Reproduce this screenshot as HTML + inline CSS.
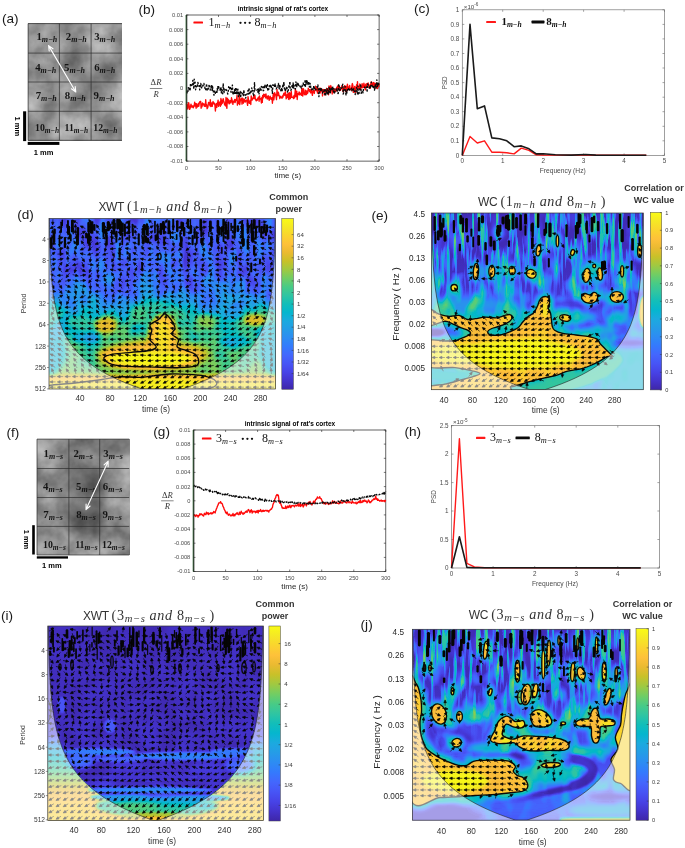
<!DOCTYPE html>
<html lang="en"><head><meta charset="utf-8"><title>Figure</title>
<style>html,body{margin:0;padding:0;background:#fff}body{width:685px;height:848px;overflow:hidden}svg{display:block;font-family:'Liberation Sans', 'DejaVu Sans', sans-serif}</style></head><body>
<svg width="685" height="848" viewBox="0 0 685 848">
<defs>
<linearGradient id="pg" x1="0" y1="0" x2="0" y2="1"><stop offset="0%" stop-color="#f9fb15"/><stop offset="5%" stop-color="#f5e825"/><stop offset="10%" stop-color="#fad42e"/><stop offset="15%" stop-color="#fec13a"/><stop offset="20%" stop-color="#eaba31"/><stop offset="25%" stop-color="#c8c129"/><stop offset="30%" stop-color="#9fc942"/><stop offset="35%" stop-color="#71cd64"/><stop offset="40%" stop-color="#48cb86"/><stop offset="45%" stop-color="#2fc5a2"/><stop offset="50%" stop-color="#12beb9"/><stop offset="55%" stop-color="#05b6ce"/><stop offset="60%" stop-color="#1caadf"/><stop offset="65%" stop-color="#259ce7"/><stop offset="70%" stop-color="#2d8cf3"/><stop offset="75%" stop-color="#347afd"/><stop offset="80%" stop-color="#4367fd"/><stop offset="85%" stop-color="#4755f6"/><stop offset="90%" stop-color="#4743e7"/><stop offset="95%" stop-color="#4433cc"/><stop offset="100%" stop-color="#3e26a8"/></linearGradient>
<filter id="clouda" color-interpolation-filters="sRGB" x="0" y="0" width="1" height="1"><feTurbulence type="fractalNoise" baseFrequency="0.035" numOctaves="4" seed="4" result="n"/><feColorMatrix in="n" type="matrix" values="0.55 0 0 0 0.28  0.55 0 0 0 0.28  0.55 0 0 0 0.28  0 0 0 0 1"/></filter>
<filter id="cloudf" color-interpolation-filters="sRGB" x="0" y="0" width="1" height="1"><feTurbulence type="fractalNoise" baseFrequency="0.035" numOctaves="4" seed="11" result="n"/><feColorMatrix in="n" type="matrix" values="0.55 0 0 0 0.28  0.55 0 0 0 0.28  0.55 0 0 0 0.28  0 0 0 0 1"/></filter>
<filter id="b0" x="-50%" y="-50%" width="200%" height="200%"><feGaussianBlur stdDeviation="1.2"/></filter>
<filter id="b1" x="-50%" y="-50%" width="200%" height="200%"><feGaussianBlur stdDeviation="2.5"/></filter>
<filter id="b2" x="-50%" y="-50%" width="200%" height="200%"><feGaussianBlur stdDeviation="4"/></filter>
<filter id="b3" x="-50%" y="-50%" width="200%" height="200%"><feGaussianBlur stdDeviation="6"/></filter>
<filter id="b4" x="-50%" y="-50%" width="200%" height="200%"><feGaussianBlur stdDeviation="9"/></filter>
<g id="ar"><path d="M-2.8 0H1"/><path d="M0.2-1.25L3.0 0L0.2 1.25Z"/></g>
<filter id="bs" x="-20%" y="-20%" width="140%" height="140%"><feGaussianBlur stdDeviation=".55"/></filter><filter id="hfd" color-interpolation-filters="sRGB" filterUnits="userSpaceOnUse" x="48" y="217.6" width="228.6" height="172.4"><feTurbulence type="fractalNoise" baseFrequency="0.12 0.04" numOctaves="2" seed="5"/><feColorMatrix type="matrix" values="3.0 0 0 0 -1.0 3.0 0 0 0 -1.0 3.0 0 0 0 -1.0 0 0 0 0 1" result="n1"/><feTurbulence type="fractalNoise" baseFrequency="0.05 0.05" numOctaves="2" seed="8"/><feColorMatrix type="matrix" values="2.6 0 0 0 -0.8 2.6 0 0 0 -0.8 2.6 0 0 0 -0.8 0 0 0 0 1" result="n2"/><feColorMatrix in="SourceGraphic" type="matrix" values="1 0 0 0 0 1 0 0 0 0 1 0 0 0 0 0 0 0 0 1" result="val"/><feColorMatrix in="SourceGraphic" type="matrix" values="0 1 0 0 0 0 1 0 0 0 0 1 0 0 0 0 0 0 0 1" result="a1"/><feColorMatrix in="SourceGraphic" type="matrix" values="0 0 1 0 0 0 0 1 0 0 0 0 1 0 0 0 0 0 0 1" result="a2"/><feComposite in="a1" in2="n1" operator="arithmetic" k1="1" k2="0" k3="0" k4="0" result="p1"/><feComposite in="a2" in2="n2" operator="arithmetic" k1="1" k2="0" k3="0" k4="0" result="p2"/><feComposite in="val" in2="p1" operator="arithmetic" k1="0" k2="1" k3="1" k4="0" result="s1"/><feComposite in="s1" in2="p2" operator="arithmetic" k1="0" k2="1" k3="1" k4="0" result="s2"/><feComponentTransfer in="s2"><feFuncR type="table" tableValues="0.242 0.255 0.266 0.274 0.279 0.281 0.280 0.274 0.261 0.231 0.194 0.180 0.173 0.154 0.141 0.122 0.098 0.051 0.004 0.032 0.110 0.169 0.206 0.254 0.329 0.412 0.504 0.596 0.684 0.766 0.840 0.906 0.962 0.996 0.995 0.983 0.967 0.960 0.965 0.977"/><feFuncG type="table" tableValues="0.150 0.175 0.202 0.231 0.266 0.302 0.338 0.374 0.411 0.449 0.488 0.524 0.558 0.590 0.620 0.650 0.677 0.701 0.721 0.738 0.753 0.766 0.780 0.793 0.800 0.803 0.799 0.790 0.777 0.761 0.746 0.733 0.729 0.750 0.788 0.827 0.868 0.908 0.946 0.984"/><feFuncB type="table" tableValues="0.660 0.734 0.805 0.866 0.910 0.943 0.967 0.985 0.995 0.998 0.988 0.971 0.946 0.922 0.901 0.886 0.862 0.829 0.790 0.748 0.703 0.658 0.607 0.551 0.488 0.418 0.348 0.278 0.215 0.169 0.156 0.180 0.230 0.232 0.204 0.182 0.163 0.145 0.119 0.081"/></feComponentTransfer></filter><clipPath id="cpd"><rect x="49" y="218.6" width="226.6" height="170.4"/></clipPath><linearGradient id="bgd" gradientUnits="userSpaceOnUse" x1="0" y1="218.6" x2="0" y2="389"><stop offset="-0.4%" stop-color="rgb(15,31,26)"/><stop offset="30.2%" stop-color="rgb(18,31,31)"/><stop offset="43.1%" stop-color="rgb(31,20,41)"/><stop offset="51.3%" stop-color="rgb(71,8,51)"/><stop offset="59.5%" stop-color="rgb(112,0,46)"/><stop offset="74.2%" stop-color="rgb(128,0,36)"/><stop offset="83%" stop-color="rgb(140,0,26)"/><stop offset="90%" stop-color="rgb(158,0,13)"/><stop offset="93.3%" stop-color="rgb(212,0,0)"/><stop offset="96.5%" stop-color="rgb(237,0,0)"/><stop offset="100%" stop-color="rgb(242,0,0)"/></linearGradient><filter id="hfe" color-interpolation-filters="sRGB" filterUnits="userSpaceOnUse" x="430.4" y="212" width="213.9" height="178.7"><feTurbulence type="fractalNoise" baseFrequency="0.26 0.024" numOctaves="2" seed="7"/><feColorMatrix type="matrix" values="4.8 0 0 0 -2.3 4.8 0 0 0 -2.3 4.8 0 0 0 -2.3 0 0 0 0 1" result="n1"/><feTurbulence type="fractalNoise" baseFrequency="0.07 0.04" numOctaves="2" seed="10"/><feColorMatrix type="matrix" values="3.2 0 0 0 -1.35 3.2 0 0 0 -1.35 3.2 0 0 0 -1.35 0 0 0 0 1" result="n2"/><feColorMatrix in="SourceGraphic" type="matrix" values="1 0 0 0 0 1 0 0 0 0 1 0 0 0 0 0 0 0 0 1" result="val"/><feColorMatrix in="SourceGraphic" type="matrix" values="0 1 0 0 0 0 1 0 0 0 0 1 0 0 0 0 0 0 0 1" result="a1"/><feColorMatrix in="SourceGraphic" type="matrix" values="0 0 1 0 0 0 0 1 0 0 0 0 1 0 0 0 0 0 0 1" result="a2"/><feComposite in="a1" in2="n1" operator="arithmetic" k1="1" k2="0" k3="0" k4="0" result="p1"/><feComposite in="a2" in2="n2" operator="arithmetic" k1="1" k2="0" k3="0" k4="0" result="p2"/><feComposite in="val" in2="p1" operator="arithmetic" k1="0" k2="1" k3="1" k4="0" result="s1"/><feComposite in="s1" in2="p2" operator="arithmetic" k1="0" k2="1" k3="1" k4="0" result="s2"/><feComponentTransfer in="s2"><feFuncR type="table" tableValues="0.242 0.255 0.266 0.274 0.279 0.281 0.280 0.274 0.261 0.231 0.194 0.180 0.173 0.154 0.141 0.122 0.098 0.051 0.004 0.032 0.110 0.169 0.206 0.254 0.329 0.412 0.504 0.596 0.684 0.766 0.840 0.906 0.962 0.996 0.995 0.983 0.967 0.960 0.965 0.977"/><feFuncG type="table" tableValues="0.150 0.175 0.202 0.231 0.266 0.302 0.338 0.374 0.411 0.449 0.488 0.524 0.558 0.590 0.620 0.650 0.677 0.701 0.721 0.738 0.753 0.766 0.780 0.793 0.800 0.803 0.799 0.790 0.777 0.761 0.746 0.733 0.729 0.750 0.788 0.827 0.868 0.908 0.946 0.984"/><feFuncB type="table" tableValues="0.660 0.734 0.805 0.866 0.910 0.943 0.967 0.985 0.995 0.998 0.988 0.971 0.946 0.922 0.901 0.886 0.862 0.829 0.790 0.748 0.703 0.658 0.607 0.551 0.488 0.418 0.348 0.278 0.215 0.169 0.156 0.180 0.230 0.232 0.204 0.182 0.163 0.145 0.119 0.081"/></feComponentTransfer></filter><clipPath id="cpe"><rect x="431.4" y="213" width="211.9" height="176.7"/></clipPath><linearGradient id="bge" gradientUnits="userSpaceOnUse" x1="0" y1="213" x2="0" y2="389.7"><stop offset="0%" stop-color="rgb(5,143,13)"/><stop offset="23.8%" stop-color="rgb(5,117,51)"/><stop offset="40.7%" stop-color="rgb(10,56,107)"/><stop offset="52.1%" stop-color="rgb(20,13,128)"/><stop offset="66.2%" stop-color="rgb(38,0,102)"/><stop offset="99.6%" stop-color="rgb(76,0,51)"/></linearGradient><filter id="hfi" color-interpolation-filters="sRGB" filterUnits="userSpaceOnUse" x="46.8" y="625" width="217.6" height="196.5"><feTurbulence type="fractalNoise" baseFrequency="0.12 0.04" numOctaves="2" seed="9"/><feColorMatrix type="matrix" values="3.0 0 0 0 -1.0 3.0 0 0 0 -1.0 3.0 0 0 0 -1.0 0 0 0 0 1" result="n1"/><feTurbulence type="fractalNoise" baseFrequency="0.05 0.05" numOctaves="2" seed="12"/><feColorMatrix type="matrix" values="2.6 0 0 0 -0.8 2.6 0 0 0 -0.8 2.6 0 0 0 -0.8 0 0 0 0 1" result="n2"/><feColorMatrix in="SourceGraphic" type="matrix" values="1 0 0 0 0 1 0 0 0 0 1 0 0 0 0 0 0 0 0 1" result="val"/><feColorMatrix in="SourceGraphic" type="matrix" values="0 1 0 0 0 0 1 0 0 0 0 1 0 0 0 0 0 0 0 1" result="a1"/><feColorMatrix in="SourceGraphic" type="matrix" values="0 0 1 0 0 0 0 1 0 0 0 0 1 0 0 0 0 0 0 1" result="a2"/><feComposite in="a1" in2="n1" operator="arithmetic" k1="1" k2="0" k3="0" k4="0" result="p1"/><feComposite in="a2" in2="n2" operator="arithmetic" k1="1" k2="0" k3="0" k4="0" result="p2"/><feComposite in="val" in2="p1" operator="arithmetic" k1="0" k2="1" k3="1" k4="0" result="s1"/><feComposite in="s1" in2="p2" operator="arithmetic" k1="0" k2="1" k3="1" k4="0" result="s2"/><feComponentTransfer in="s2"><feFuncR type="table" tableValues="0.242 0.255 0.266 0.274 0.279 0.281 0.280 0.274 0.261 0.231 0.194 0.180 0.173 0.154 0.141 0.122 0.098 0.051 0.004 0.032 0.110 0.169 0.206 0.254 0.329 0.412 0.504 0.596 0.684 0.766 0.840 0.906 0.962 0.996 0.995 0.983 0.967 0.960 0.965 0.977"/><feFuncG type="table" tableValues="0.150 0.175 0.202 0.231 0.266 0.302 0.338 0.374 0.411 0.449 0.488 0.524 0.558 0.590 0.620 0.650 0.677 0.701 0.721 0.738 0.753 0.766 0.780 0.793 0.800 0.803 0.799 0.790 0.777 0.761 0.746 0.733 0.729 0.750 0.788 0.827 0.868 0.908 0.946 0.984"/><feFuncB type="table" tableValues="0.660 0.734 0.805 0.866 0.910 0.943 0.967 0.985 0.995 0.998 0.988 0.971 0.946 0.922 0.901 0.886 0.862 0.829 0.790 0.748 0.703 0.658 0.607 0.551 0.488 0.418 0.348 0.278 0.215 0.169 0.156 0.180 0.230 0.232 0.204 0.182 0.163 0.145 0.119 0.081"/></feComponentTransfer></filter><clipPath id="cpi"><rect x="47.8" y="626" width="215.6" height="194.5"/></clipPath><linearGradient id="bgi" gradientUnits="userSpaceOnUse" x1="0" y1="626" x2="0" y2="820.5"><stop offset="0%" stop-color="rgb(0,0,8)"/><stop offset="56%" stop-color="rgb(15,0,13)"/><stop offset="62.7%" stop-color="rgb(97,0,0)"/><stop offset="74%" stop-color="rgb(148,0,0)"/><stop offset="84.3%" stop-color="rgb(204,0,0)"/><stop offset="92%" stop-color="rgb(224,0,0)"/><stop offset="99.7%" stop-color="rgb(230,0,0)"/></linearGradient><linearGradient id="bgiin" gradientUnits="userSpaceOnUse" x1="0" y1="626" x2="0" y2="820.5"><stop offset="0%" stop-color="rgb(4,0,6)"/><stop offset="56%" stop-color="rgb(4,0,8)"/><stop offset="71.5%" stop-color="rgb(4,0,13)"/><stop offset="89.5%" stop-color="rgb(8,0,20)"/><stop offset="99.7%" stop-color="rgb(102,0,0)"/></linearGradient><filter id="hfj" color-interpolation-filters="sRGB" filterUnits="userSpaceOnUse" x="411.5" y="628.3" width="219.5" height="192.9"><feTurbulence type="fractalNoise" baseFrequency="0.26 0.024" numOctaves="2" seed="2"/><feColorMatrix type="matrix" values="4.8 0 0 0 -2.3 4.8 0 0 0 -2.3 4.8 0 0 0 -2.3 0 0 0 0 1" result="n1"/><feTurbulence type="fractalNoise" baseFrequency="0.07 0.04" numOctaves="2" seed="5"/><feColorMatrix type="matrix" values="3.2 0 0 0 -1.35 3.2 0 0 0 -1.35 3.2 0 0 0 -1.35 0 0 0 0 1" result="n2"/><feColorMatrix in="SourceGraphic" type="matrix" values="1 0 0 0 0 1 0 0 0 0 1 0 0 0 0 0 0 0 0 1" result="val"/><feColorMatrix in="SourceGraphic" type="matrix" values="0 1 0 0 0 0 1 0 0 0 0 1 0 0 0 0 0 0 0 1" result="a1"/><feColorMatrix in="SourceGraphic" type="matrix" values="0 0 1 0 0 0 0 1 0 0 0 0 1 0 0 0 0 0 0 1" result="a2"/><feComposite in="a1" in2="n1" operator="arithmetic" k1="1" k2="0" k3="0" k4="0" result="p1"/><feComposite in="a2" in2="n2" operator="arithmetic" k1="1" k2="0" k3="0" k4="0" result="p2"/><feComposite in="val" in2="p1" operator="arithmetic" k1="0" k2="1" k3="1" k4="0" result="s1"/><feComposite in="s1" in2="p2" operator="arithmetic" k1="0" k2="1" k3="1" k4="0" result="s2"/><feComponentTransfer in="s2"><feFuncR type="table" tableValues="0.242 0.255 0.266 0.274 0.279 0.281 0.280 0.274 0.261 0.231 0.194 0.180 0.173 0.154 0.141 0.122 0.098 0.051 0.004 0.032 0.110 0.169 0.206 0.254 0.329 0.412 0.504 0.596 0.684 0.766 0.840 0.906 0.962 0.996 0.995 0.983 0.967 0.960 0.965 0.977"/><feFuncG type="table" tableValues="0.150 0.175 0.202 0.231 0.266 0.302 0.338 0.374 0.411 0.449 0.488 0.524 0.558 0.590 0.620 0.650 0.677 0.701 0.721 0.738 0.753 0.766 0.780 0.793 0.800 0.803 0.799 0.790 0.777 0.761 0.746 0.733 0.729 0.750 0.788 0.827 0.868 0.908 0.946 0.984"/><feFuncB type="table" tableValues="0.660 0.734 0.805 0.866 0.910 0.943 0.967 0.985 0.995 0.998 0.988 0.971 0.946 0.922 0.901 0.886 0.862 0.829 0.790 0.748 0.703 0.658 0.607 0.551 0.488 0.418 0.348 0.278 0.215 0.169 0.156 0.180 0.230 0.232 0.204 0.182 0.163 0.145 0.119 0.081"/></feComponentTransfer></filter><clipPath id="cpj"><rect x="412.5" y="629.3" width="217.5" height="190.9"/></clipPath><linearGradient id="bgj" gradientUnits="userSpaceOnUse" x1="0" y1="629.3" x2="0" y2="820.2"><stop offset="-0.2%" stop-color="rgb(5,140,13)"/><stop offset="21.3%" stop-color="rgb(5,117,51)"/><stop offset="37%" stop-color="rgb(10,64,107)"/><stop offset="50.1%" stop-color="rgb(26,13,128)"/><stop offset="68.5%" stop-color="rgb(31,0,107)"/><stop offset="84.2%" stop-color="rgb(51,0,64)"/><stop offset="99.9%" stop-color="rgb(31,0,38)"/></linearGradient>
</defs>
<g id="pa">
<text x="2" y="23.4" font-size="13.6" fill="#1a1a1a">(a)</text>
<rect x="28.1" y="23.6" width="93.8" height="116.7" fill="#8e8e8e" filter="url(#clouda)"/>
<clipPath id="cca"><rect x="28.1" y="23.6" width="93.8" height="116.7"/></clipPath><g clip-path="url(#cca)"><ellipse cx="88" cy="70" rx="26" ry="22" fill="#000" opacity=".12" filter="url(#b3)"/><rect x="28" y="23" width="94" height="118" fill="#fff" opacity=".06"/></g>
<path d="M28.1 23.6V140.3M59.4 23.6V140.3M91.1 23.6V140.3M28.1 23.6H121.9M28.1 53.1H121.9M28.1 82H121.9M28.1 111.3H121.9M28.1 140.3H121.9" stroke="#2a2a2a" stroke-width=".8" fill="none" opacity=".85"/>
<text x="36.4" y="39.8" font-size="10.8" font-family='"Liberation Serif", "DejaVu Serif", serif' font-weight="bold" fill="#151515">1<tspan dy="2" font-size="8.0" font-style="italic" font-weight="bold">m−h</tspan></text>
<text x="65.8" y="39.8" font-size="10.8" font-family='"Liberation Serif", "DejaVu Serif", serif' font-weight="bold" fill="#151515">2<tspan dy="2" font-size="8.0" font-style="italic" font-weight="bold">m−h</tspan></text>
<text x="94.2" y="39.8" font-size="10.8" font-family='"Liberation Serif", "DejaVu Serif", serif' font-weight="bold" fill="#151515">3<tspan dy="2" font-size="8.0" font-style="italic" font-weight="bold">m−h</tspan></text>
<text x="35.2" y="71.4" font-size="10.8" font-family='"Liberation Serif", "DejaVu Serif", serif' font-weight="bold" fill="#151515">4<tspan dy="2" font-size="8.0" font-style="italic" font-weight="bold">m−h</tspan></text>
<text x="64.1" y="71.4" font-size="10.8" font-family='"Liberation Serif", "DejaVu Serif", serif' font-weight="bold" fill="#151515">5<tspan dy="2" font-size="8.0" font-style="italic" font-weight="bold">m−h</tspan></text>
<text x="94.2" y="71.4" font-size="10.8" font-family='"Liberation Serif", "DejaVu Serif", serif' font-weight="bold" fill="#151515">6<tspan dy="2" font-size="8.0" font-style="italic" font-weight="bold">m−h</tspan></text>
<text x="35.7" y="98.6" font-size="10.8" font-family='"Liberation Serif", "DejaVu Serif", serif' font-weight="bold" fill="#151515">7<tspan dy="2" font-size="8.0" font-style="italic" font-weight="bold">m−h</tspan></text>
<text x="64.8" y="98.6" font-size="10.8" font-family='"Liberation Serif", "DejaVu Serif", serif' font-weight="bold" fill="#151515">8<tspan dy="2" font-size="8.0" font-style="italic" font-weight="bold">m−h</tspan></text>
<text x="93.5" y="98.6" font-size="10.8" font-family='"Liberation Serif", "DejaVu Serif", serif' font-weight="bold" fill="#151515">9<tspan dy="2" font-size="8.0" font-style="italic" font-weight="bold">m−h</tspan></text>
<text x="35" y="130.6" font-size="9.8" font-family='"Liberation Serif", "DejaVu Serif", serif' font-weight="bold" fill="#151515">10<tspan dy="2" font-size="7.4" font-style="italic" font-weight="bold">m−h</tspan></text>
<text x="64.6" y="130.6" font-size="9.8" font-family='"Liberation Serif", "DejaVu Serif", serif' font-weight="bold" fill="#151515">11<tspan dy="2" font-size="7.4" font-style="italic" font-weight="bold">m−h</tspan></text>
<text x="93.3" y="130.6" font-size="9.8" font-family='"Liberation Serif", "DejaVu Serif", serif' font-weight="bold" fill="#151515">12<tspan dy="2" font-size="7.4" font-style="italic" font-weight="bold">m−h</tspan></text>
<path d="M48.6 45.6L75.8 92M49.2 51L48.6 45.6L53 48.8M75.2 86.6L75.8 92L71.4 88.8" stroke="#fff" stroke-width="1.1" fill="none" stroke-linecap="round" stroke-linejoin="round"/>
<rect x="23.1" y="111.3" width="3.1" height="29.8" fill="#000"/>
<rect x="27.7" y="141.9" width="31.7" height="3" fill="#000"/>
<text x="15.2" y="126.3" font-size="7.5" text-anchor="middle" font-weight="bold" transform="rotate(90 15.2 126.3)">1 mm</text>
<text x="43.5" y="155" font-size="7.5" text-anchor="middle" font-weight="bold">1 mm</text>
</g>
<g id="pf">
<text x="6.5" y="436.5" font-size="13.6" fill="#1a1a1a">(f)</text>
<rect x="37" y="439.1" width="92.2" height="115.9" fill="#8e8e8e" filter="url(#cloudf)"/>
<clipPath id="ccf"><rect x="37" y="439.1" width="92.2" height="115.9"/></clipPath><g clip-path="url(#ccf)"><ellipse cx="82" cy="497" rx="26" ry="34" fill="#000" opacity=".3" filter="url(#b3)"/><ellipse cx="45" cy="545" rx="12" ry="10" fill="#fff" opacity=".18" filter="url(#b2)"/><ellipse cx="118" cy="545" rx="14" ry="10" fill="#fff" opacity=".15" filter="url(#b2)"/><ellipse cx="48" cy="450" rx="12" ry="10" fill="#fff" opacity=".15" filter="url(#b2)"/></g>
<path d="M37 439.1V555M68.9 439.1V555M99.7 439.1V555M37 439.1H129.2M37 468.5H129.2M37 497.5H129.2M37 526.4H129.2M37 555H129.2" stroke="#2a2a2a" stroke-width=".8" fill="none" opacity=".85"/>
<text x="43.5" y="457.2" font-size="10.8" font-family='"Liberation Serif", "DejaVu Serif", serif' font-weight="bold" fill="#151515">1<tspan dy="2" font-size="8.0" font-style="italic" font-weight="bold">m−s</tspan></text>
<text x="73.4" y="457.2" font-size="10.8" font-family='"Liberation Serif", "DejaVu Serif", serif' font-weight="bold" fill="#151515">2<tspan dy="2" font-size="8.0" font-style="italic" font-weight="bold">m−s</tspan></text>
<text x="103.3" y="457.2" font-size="10.8" font-family='"Liberation Serif", "DejaVu Serif", serif' font-weight="bold" fill="#151515">3<tspan dy="2" font-size="8.0" font-style="italic" font-weight="bold">m−s</tspan></text>
<text x="43" y="489.7" font-size="10.8" font-family='"Liberation Serif", "DejaVu Serif", serif' font-weight="bold" fill="#151515">4<tspan dy="2" font-size="8.0" font-style="italic" font-weight="bold">m−s</tspan></text>
<text x="76" y="489.7" font-size="10.8" font-family='"Liberation Serif", "DejaVu Serif", serif' font-weight="bold" fill="#151515">5<tspan dy="2" font-size="8.0" font-style="italic" font-weight="bold">m−s</tspan></text>
<text x="102.8" y="489.7" font-size="10.8" font-family='"Liberation Serif", "DejaVu Serif", serif' font-weight="bold" fill="#151515">6<tspan dy="2" font-size="8.0" font-style="italic" font-weight="bold">m−s</tspan></text>
<text x="43.3" y="517.8" font-size="10.8" font-family='"Liberation Serif", "DejaVu Serif", serif' font-weight="bold" fill="#151515">7<tspan dy="2" font-size="8.0" font-style="italic" font-weight="bold">m−s</tspan></text>
<text x="76.2" y="517.8" font-size="10.8" font-family='"Liberation Serif", "DejaVu Serif", serif' font-weight="bold" fill="#151515">8<tspan dy="2" font-size="8.0" font-style="italic" font-weight="bold">m−s</tspan></text>
<text x="102.4" y="517.8" font-size="10.8" font-family='"Liberation Serif", "DejaVu Serif", serif' font-weight="bold" fill="#151515">9<tspan dy="2" font-size="8.0" font-style="italic" font-weight="bold">m−s</tspan></text>
<text x="43" y="548" font-size="9.8" font-family='"Liberation Serif", "DejaVu Serif", serif' font-weight="bold" fill="#151515">10<tspan dy="2" font-size="7.4" font-style="italic" font-weight="bold">m−s</tspan></text>
<text x="75.2" y="548" font-size="9.8" font-family='"Liberation Serif", "DejaVu Serif", serif' font-weight="bold" fill="#151515">11<tspan dy="2" font-size="7.4" font-style="italic" font-weight="bold">m−s</tspan></text>
<text x="102" y="548" font-size="9.8" font-family='"Liberation Serif", "DejaVu Serif", serif' font-weight="bold" fill="#151515">12<tspan dy="2" font-size="7.4" font-style="italic" font-weight="bold">m−s</tspan></text>
<path d="M108.2 461.2L86 509.6M104.1 464.8L108.2 461.2L108.1 466.7M90.1 506L86 509.6L86.1 504.1" stroke="#fff" stroke-width="1.1" fill="none" stroke-linecap="round" stroke-linejoin="round"/>
<rect x="32.2" y="525.2" width="2.6" height="29.3" fill="#000"/>
<rect x="36.8" y="556.3" width="31.2" height="2.3" fill="#000"/>
<text x="24.2" y="539.5" font-size="7.5" text-anchor="middle" font-weight="bold" transform="rotate(90 24.2 539.5)">1 mm</text>
<text x="51.8" y="567.6" font-size="7.5" text-anchor="middle" font-weight="bold">1 mm</text>
</g>
<g id="pb">
<text x="138.5" y="14.2" font-size="13.6" fill="#1a1a1a">(b)</text>
<rect x="186.4" y="15" width="192.7" height="146.1" fill="#fff" stroke="#222" stroke-width=".7"/>
<path d="M186.4 15h2M379.1 15h-2M186.4 29.6h2M379.1 29.6h-2M186.4 44.2h2M379.1 44.2h-2M186.4 58.8h2M379.1 58.8h-2M186.4 73.4h2M379.1 73.4h-2M186.4 88h2M379.1 88h-2M186.4 102.7h2M379.1 102.7h-2M186.4 117.3h2M379.1 117.3h-2M186.4 131.9h2M379.1 131.9h-2M186.4 146.5h2M379.1 146.5h-2M186.4 161.1h2M379.1 161.1h-2M186.4 161.1v-2M186.4 15v2M218.5 161.1v-2M218.5 15v2M250.6 161.1v-2M250.6 15v2M282.8 161.1v-2M282.8 15v2M314.9 161.1v-2M314.9 15v2M347 161.1v-2M347 15v2M379.1 161.1v-2M379.1 15v2" stroke="#222" stroke-width=".6" fill="none"/>
<g font-size="5.7" fill="#4a4a4a" text-anchor="end"><text x="183.2" y="16.9">0.01</text><text x="183.2" y="31.5">0.008</text><text x="183.2" y="46.1">0.006</text><text x="183.2" y="60.7">0.004</text><text x="183.2" y="75.3">0.002</text><text x="183.2" y="90">0</text><text x="183.2" y="104.6">-0.002</text><text x="183.2" y="119.2">-0.004</text><text x="183.2" y="133.8">-0.006</text><text x="183.2" y="148.4">-0.008</text><text x="183.2" y="163">-0.01</text></g><g font-size="5.7" fill="#4a4a4a" text-anchor="middle"><text x="186.4" y="169.8">0</text><text x="218.5" y="169.8">50</text><text x="250.6" y="169.8">100</text><text x="282.8" y="169.8">150</text><text x="314.9" y="169.8">200</text><text x="347" y="169.8">250</text><text x="379.1" y="169.8">300</text></g>
<text x="283" y="11.4" font-size="6.5" text-anchor="middle" font-weight="bold">intrinsic signal of rat's cortex</text>
<text x="287.8" y="178.3" font-size="8.0" text-anchor="middle" fill="#2a2a2a">time (s)</text>
<polyline points="186.4,105.16 186.9,103.81 187.3,108.76 187.8,108.95 188.2,105.92 188.7,102.59 189.2,105.69 189.6,109.37 190.1,108.38 190.5,106.61 191,104.18 191.5,106.40 191.9,107.18 192.4,106.81 192.8,105.81 193.3,107.92 193.8,106.10 194.2,105.42 194.7,102.12 195.1,106.08 195.6,103.60 196.1,108.27 196.5,103.75 197,105.34 197.4,106.94 197.9,105.67 198.4,103.43 198.8,106.27 199.3,103.03 199.7,101.80 200.2,101.51 200.7,101.46 201.1,108.24 201.6,104.37 202,106.74 202.5,102.84 203,104.84 203.4,104.43 203.9,103.82 204.3,106.25 204.8,104.57 205.3,106.45 205.7,99.76 206.2,105.71 206.6,104.54 207.1,108.70 207.6,107.97 208,106.40 208.5,102.48 208.9,102.49 209.4,103.59 209.9,105.72 210.3,99.77 210.8,106.52 211.2,106.06 211.7,102.83 212.2,106.29 212.6,103.25 213.1,101.53 213.5,103.93 214,102.75 214.5,103.57 214.9,105.20 215.4,111.06 215.8,106.39 216.3,103.46 216.8,107.28 217.2,104.67 217.7,102.79 218.1,100.06 218.6,106.42 219.1,104.38 219.5,102.53 220,101.76 220.4,106.24 220.9,98.49 221.4,104.79 221.8,100.21 222.3,103.22 222.7,101.72 223.2,98.67 223.7,100.89 224.1,102.22 224.6,104.86 225,103.97 225.5,105.76 226,97.51 226.4,105.95 226.9,108.33 227.3,98.24 227.8,99.05 228.3,102.90 228.7,99.99 229.2,103.89 229.6,103.25 230.1,100.63 230.6,100.83 231,102.81 231.5,97.79 231.9,99.85 232.4,101.22 232.9,104.32 233.3,101.12 233.8,102.15 234.2,101.52 234.7,99.38 235.1,102.60 235.6,100.55 236.1,99.22 236.5,100.23 237,95.53 237.4,105.13 237.9,101.06 238.4,103.69 238.8,100.97 239.3,94.74 239.7,104.62 240.2,101.34 240.7,99.03 241.1,100.32 241.6,98.30 242,104.15 242.5,98.05 243,102.61 243.4,103.18 243.9,98.86 244.3,99.02 244.8,101.86 245.3,102.02 245.7,100.49 246.2,99.98 246.6,100.31 247.1,102.27 247.6,105.35 248,96.60 248.5,99.27 248.9,102.61 249.4,103.34 249.9,101.19 250.3,100.47 250.8,104.52 251.2,96.02 251.7,98.30 252.2,100.04 252.6,98.37 253.1,98.61 253.5,96.56 254,98.68 254.5,95.98 254.9,95.24 255.4,99.64 255.8,99.92 256.3,100.90 256.8,99.29 257.2,100.42 257.7,98.60 258.1,97.84 258.6,97.23 259.1,101.23 259.5,95.82 260,99.10 260.4,98.57 260.9,99.48 261.4,102.99 261.8,97.53 262.3,102.34 262.7,95.38 263.2,97.88 263.7,94.19 264.1,96.32 264.6,96.14 265,94.41 265.5,97.81 266,93.97 266.4,97.91 266.9,96.94 267.3,99.12 267.8,96.14 268.3,95.79 268.7,98.55 269.2,100.36 269.6,97.32 270.1,96.17 270.6,97.50 271,99.41 271.5,98.75 271.9,97.60 272.4,103.21 272.9,98.26 273.3,93.35 273.8,99.83 274.2,97.22 274.7,92.59 275.2,94.89 275.6,94.32 276.1,96.83 276.5,99.61 277,89.46 277.5,95.59 277.9,95.69 278.4,92.27 278.8,94.21 279.3,95.96 279.8,98.69 280.2,96.37 280.7,96.30 281.1,97.51 281.6,97.91 282.1,98.18 282.5,96.01 283,97.10 283.4,94.64 283.9,93.13 284.4,94.75 284.8,95.41 285.3,91.66 285.7,93.78 286.2,98.84 286.7,96.96 287.1,94.72 287.6,97.25 288,93.26 288.5,99.23 289,99.55 289.4,92.57 289.9,93.47 290.3,98.65 290.8,94.58 291.3,91.48 291.7,97.33 292.2,97.45 292.6,97.46 293.1,96.85 293.6,98.60 294,95.55 294.5,97.81 294.9,94.13 295.4,88.86 295.9,96.69 296.3,91.94 296.8,91.26 297.2,99.55 297.7,93.69 298.2,93.93 298.6,94.65 299.1,91.88 299.5,94.80 300,92.84 300.5,94.57 300.9,93.91 301.4,95.41 301.8,88.01 302.3,93.55 302.8,96.05 303.2,88.63 303.7,89.47 304.1,93.67 304.6,94.72 305.1,94.86 305.5,90.08 306,93.77 306.4,94.64 306.9,90.86 307.4,93.47 307.8,92.90 308.3,88.06 308.7,90.59 309.2,89.62 309.7,91.55 310.1,89.41 310.6,92.85 311,90.08 311.5,89.82 312,93.27 312.4,95.32 312.9,90.89 313.3,92.41 313.8,90.61 314.3,93.46 314.7,90.69 315.2,89.60 315.6,86.17 316.1,87.51 316.6,90.81 317,88.24 317.5,93.14 317.9,88.76 318.4,91.19 318.9,88.28 319.3,90.62 319.8,91.92 320.2,93.02 320.7,88.24 321.2,91.06 321.6,89.44 322.1,89.94 322.5,95.95 323,89.54 323.5,91.83 323.9,89.94 324.4,89.67 324.8,95.10 325.3,91.47 325.8,90.81 326.2,89.68 326.7,88.30 327.1,92.14 327.6,91.00 328.1,88.90 328.5,94.74 329,85.83 329.4,92.50 329.9,87.02 330.4,89.77 330.8,85.55 331.3,87.52 331.7,90.04 332.2,93.98 332.6,89.54 333.1,89.02 333.6,88.44 334,92.71 334.5,91.62 334.9,91.45 335.4,88.85 335.9,91.56 336.3,89.70 336.8,87.14 337.2,90.32 337.7,86.03 338.2,88.49 338.6,89.74 339.1,86.47 339.5,87.86 340,89.68 340.5,90.34 340.9,88.99 341.4,88.00 341.8,86.03 342.3,88.07 342.8,90.15 343.2,91.79 343.7,87.94 344.1,87.56 344.6,85.73 345.1,89.66 345.5,91.44 346,86.28 346.4,88.64 346.9,91.09 347.4,84.14 347.8,85.94 348.3,87.86 348.7,87.29 349.2,89.69 349.7,85.48 350.1,88.84 350.6,88.82 351,88.40 351.5,90.36 352,85.12 352.4,83.53 352.9,85.65 353.3,92.34 353.8,88.09 354.3,88.84 354.7,86.36 355.2,92.33 355.6,92.31 356.1,88.19 356.6,84.69 357,87.44 357.5,81.65 357.9,88.91 358.4,86.73 358.9,87.12 359.3,88.71 359.8,84.00 360.2,89.78 360.7,89.08 361.2,87.37 361.6,87.59 362.1,83.69 362.5,87.60 363,85.08 363.5,87.35 363.9,83.11 364.4,86.16 364.8,85.44 365.3,89.92 365.8,84.27 366.2,87.45 366.7,83.72 367.1,84.58 367.6,84.44 368.1,82.99 368.5,84.73 369,87.68 369.4,85.15 369.9,85.06 370.4,88.24 370.8,83.89 371.3,81.80 371.7,84.68 372.2,84.93 372.7,84.04 373.1,82.46 373.6,86.33 374,82.70 374.5,86.71 375,83.60 375.4,83.58 375.9,87.84 376.3,83.14 376.8,84.14 377.3,88.60 377.7,85.63 378.2,86.00 378.6,86.58 379.1,83.40" fill="none" stroke="#ff0a0a" stroke-width="1.35" stroke-linejoin="round"/>
<polyline points="186.4,92.69 186.9,92.02 187.3,93.35 187.8,92.17 188.2,88.61 188.7,87.63 189.2,90.39 189.6,87.26 190.1,91.05 190.5,83.95 191,85.72 191.5,85.50 191.9,84.74 192.4,86.11 192.8,80.39 193.3,82.20 193.8,89.11 194.2,79.24 194.7,82.35 195.1,82.10 195.6,89.78 196.1,86.12 196.5,87.00 197,87.67 197.4,85.60 197.9,82.33 198.4,85.83 198.8,85.87 199.3,85.78 199.7,89.82 200.2,86.63 200.7,83.54 201.1,84.97 201.6,87.86 202,85.08 202.5,85.25 203,86.03 203.4,85.29 203.9,83.38 204.3,86.82 204.8,87.00 205.3,90.25 205.7,89.54 206.2,86.99 206.6,83.61 207.1,90.10 207.6,89.61 208,90.27 208.5,87.11 208.9,85.50 209.4,87.98 209.9,85.98 210.3,90.18 210.8,89.45 211.2,88.08 211.7,84.75 212.2,91.67 212.6,86.76 213.1,89.99 213.5,92.73 214,95.20 214.5,90.29 214.9,90.77 215.4,93.34 215.8,92.96 216.3,91.10 216.8,93.66 217.2,88.67 217.7,90.09 218.1,85.28 218.6,89.38 219.1,87.10 219.5,88.35 220,88.81 220.4,91.27 220.9,86.83 221.4,92.83 221.8,89.61 222.3,92.61 222.7,93.78 223.2,83.91 223.7,90.84 224.1,92.48 224.6,89.09 225,90.46 225.5,89.10 226,89.59 226.4,89.80 226.9,91.51 227.3,92.34 227.8,94.06 228.3,90.68 228.7,86.64 229.2,88.57 229.6,88.87 230.1,86.20 230.6,88.36 231,92.23 231.5,91.76 231.9,87.89 232.4,85.05 232.9,94.75 233.3,91.32 233.8,93.33 234.2,94.09 234.7,88.84 235.1,93.32 235.6,87.50 236.1,93.26 236.5,88.90 237,94.79 237.4,92.31 237.9,89.25 238.4,96.64 238.8,91.74 239.3,96.11 239.7,94.75 240.2,91.45 240.7,97.81 241.1,92.12 241.6,93.56 242,94.71 242.5,93.75 243,93.06 243.4,95.65 243.9,89.85 244.3,94.74 244.8,94.88 245.3,94.62 245.7,98.17 246.2,95.44 246.6,94.82 247.1,94.04 247.6,92.03 248,90.37 248.5,94.01 248.9,87.99 249.4,90.64 249.9,94.51 250.3,92.00 250.8,93.53 251.2,91.11 251.7,87.84 252.2,91.09 252.6,90.24 253.1,93.41 253.5,96.21 254,93.94 254.5,82.64 254.9,90.00 255.4,89.44 255.8,89.48 256.3,89.38 256.8,90.11 257.2,89.54 257.7,88.78 258.1,93.58 258.6,88.96 259.1,93.90 259.5,89.54 260,87.79 260.4,89.84 260.9,91.15 261.4,86.33 261.8,88.49 262.3,87.84 262.7,86.89 263.2,90.76 263.7,90.49 264.1,85.27 264.6,88.10 265,85.20 265.5,85.88 266,85.20 266.4,88.51 266.9,84.25 267.3,83.94 267.8,90.02 268.3,88.64 268.7,89.61 269.2,85.81 269.6,87.88 270.1,85.33 270.6,87.17 271,84.61 271.5,88.72 271.9,88.71 272.4,93.33 272.9,84.70 273.3,86.40 273.8,85.41 274.2,85.47 274.7,87.09 275.2,83.48 275.6,86.21 276.1,88.93 276.5,88.42 277,86.79 277.5,86.27 277.9,86.91 278.4,83.34 278.8,85.97 279.3,88.92 279.8,84.35 280.2,87.87 280.7,89.97 281.1,91.56 281.6,87.30 282.1,91.63 282.5,87.37 283,84.05 283.4,86.16 283.9,82.02 284.4,88.79 284.8,87.53 285.3,91.68 285.7,88.22 286.2,87.30 286.7,89.94 287.1,87.75 287.6,92.65 288,92.07 288.5,88.64 289,84.84 289.4,86.98 289.9,81.53 290.3,89.77 290.8,90.43 291.3,89.40 291.7,87.61 292.2,84.67 292.6,88.25 293.1,82.93 293.6,88.03 294,85.09 294.5,88.04 294.9,88.61 295.4,89.02 295.9,81.82 296.3,84.05 296.8,86.71 297.2,83.37 297.7,83.30 298.2,85.46 298.6,83.90 299.1,84.23 299.5,84.58 300,86.66 300.5,85.46 300.9,87.22 301.4,88.27 301.8,88.32 302.3,85.00 302.8,83.62 303.2,82.99 303.7,85.92 304.1,84.71 304.6,86.96 305.1,79.58 305.5,86.38 306,84.54 306.4,80.68 306.9,83.67 307.4,81.17 307.8,83.54 308.3,85.33 308.7,81.11 309.2,85.90 309.7,87.14 310.1,83.40 310.6,86.29 311,88.76 311.5,88.30 312,90.68 312.4,89.24 312.9,88.64 313.3,89.85 313.8,85.61 314.3,87.79 314.7,89.69 315.2,89.02 315.6,89.87 316.1,89.16 316.6,88.46 317,86.66 317.5,87.42 317.9,84.92 318.4,91.03 318.9,96.64 319.3,91.99 319.8,88.32 320.2,90.55 320.7,87.51 321.2,90.48 321.6,88.96 322.1,92.08 322.5,93.05 323,91.57 323.5,91.78 323.9,90.19 324.4,94.20 324.8,94.06 325.3,88.42 325.8,94.89 326.2,92.25 326.7,93.93 327.1,88.66 327.6,93.89 328.1,91.85 328.5,93.83 329,87.55 329.4,92.15 329.9,88.39 330.4,92.79 330.8,89.09 331.3,87.46 331.7,89.35 332.2,90.71 332.6,86.47 333.1,90.51 333.6,91.94 334,88.69 334.5,94.01 334.9,90.90 335.4,90.44 335.9,89.49 336.3,89.94 336.8,88.18 337.2,90.51 337.7,93.29 338.2,93.51 338.6,84.06 339.1,85.05 339.5,91.40 340,88.91 340.5,89.78 340.9,87.54 341.4,88.19 341.8,86.50 342.3,85.62 342.8,84.15 343.2,94.13 343.7,92.49 344.1,88.90 344.6,88.87 345.1,86.51 345.5,91.28 346,94.87 346.4,90.22 346.9,92.97 347.4,89.46 347.8,90.98 348.3,89.78 348.7,88.39 349.2,87.87 349.7,90.02 350.1,89.85 350.6,89.86 351,90.37 351.5,88.16 352,90.75 352.4,88.56 352.9,89.80 353.3,90.04 353.8,88.64 354.3,88.70 354.7,93.15 355.2,94.66 355.6,91.33 356.1,91.19 356.6,87.70 357,90.54 357.5,94.61 357.9,85.82 358.4,94.86 358.9,94.76 359.3,90.39 359.8,89.44 360.2,87.12 360.7,84.03 361.2,93.36 361.6,91.53 362.1,90.75 362.5,91.10 363,92.94 363.5,89.00 363.9,88.26 364.4,88.53 364.8,86.99 365.3,88.05 365.8,88.01 366.2,88.43 366.7,86.87 367.1,92.33 367.6,83.81 368.1,85.11 368.5,85.24 369,85.65 369.4,88.21 369.9,85.97 370.4,88.43 370.8,85.34 371.3,82.19 371.7,84.22 372.2,85.67 372.7,88.17 373.1,87.17 373.6,85.64 374,85.33 374.5,90.15 375,87.46 375.4,83.86 375.9,88.53 376.3,85.97 376.8,79.83 377.3,86.42 377.7,82.66 378.2,85.10 378.6,83.49 379.1,87.17" fill="none" stroke="#0a0a0a" stroke-width="1.35" stroke-dasharray="2.2 1.6" stroke-linejoin="round"/>
<path d="M186.1 15V161.1" stroke="#1f5a24" stroke-width=".9"/>
<path d="M186.9 15V161.1" stroke="#222" stroke-width=".7"/>
<rect x="193.4" y="21.4" width="9.6" height="2.2" fill="#ff0a0a" rx=".6"/>
<text x="208.5" y="26.3" font-size="12" font-family='"Liberation Serif", "DejaVu Serif", serif' fill="#111">1<tspan dy="2" font-size="8.3" font-style="italic">m−h</tspan></text>
<circle cx="240.5" cy="22.8" r="1.15" fill="#111"/>
<circle cx="245.1" cy="22.8" r="1.15" fill="#111"/>
<circle cx="249.7" cy="22.8" r="1.15" fill="#111"/>
<text x="254.6" y="26.3" font-size="12" font-family='"Liberation Serif", "DejaVu Serif", serif' fill="#111">8<tspan dy="2" font-size="8.3" font-style="italic">m−h</tspan></text>
<text x="156" y="85.2" font-size="8.6" text-anchor="middle" font-family='"Liberation Serif", "DejaVu Serif", serif' fill="#333">Δ<tspan font-style="italic">R</tspan></text>
<path d="M149.8 88.5h12.5" stroke="#333" stroke-width=".6"/>
<text x="156" y="97.1" font-size="8.6" text-anchor="middle" font-family='"Liberation Serif", "DejaVu Serif", serif' font-style="italic" fill="#333">R</text>
</g>
<g id="pg">
<text x="153.3" y="435.6" font-size="13.6" fill="#1a1a1a">(g)</text>
<rect x="193.5" y="430" width="192.3" height="141.5" fill="#fff" stroke="#222" stroke-width=".7"/>
<path d="M193.5 430h2M385.8 430h-2M193.5 444.1h2M385.8 444.1h-2M193.5 458.3h2M385.8 458.3h-2M193.5 472.4h2M385.8 472.4h-2M193.5 486.6h2M385.8 486.6h-2M193.5 500.8h2M385.8 500.8h-2M193.5 514.9h2M385.8 514.9h-2M193.5 529h2M385.8 529h-2M193.5 543.2h2M385.8 543.2h-2M193.5 557.4h2M385.8 557.4h-2M193.5 571.5h2M385.8 571.5h-2M193.5 571.5v-2M193.5 430v2M225.6 571.5v-2M225.6 430v2M257.6 571.5v-2M257.6 430v2M289.7 571.5v-2M289.7 430v2M321.7 571.5v-2M321.7 430v2M353.8 571.5v-2M353.8 430v2M385.8 571.5v-2M385.8 430v2" stroke="#222" stroke-width=".6" fill="none"/>
<g font-size="5.7" fill="#4a4a4a" text-anchor="end"><text x="190.3" y="431.9">0.01</text><text x="190.3" y="446">0.008</text><text x="190.3" y="460.2">0.006</text><text x="190.3" y="474.3">0.004</text><text x="190.3" y="488.5">0.002</text><text x="190.3" y="502.6">0</text><text x="190.3" y="516.8">-0.002</text><text x="190.3" y="530.9">-0.004</text><text x="190.3" y="545.1">-0.006</text><text x="190.3" y="559.2">-0.008</text><text x="190.3" y="573.4">-0.01</text></g><g font-size="5.7" fill="#4a4a4a" text-anchor="middle"><text x="193.5" y="580">0</text><text x="225.6" y="580">50</text><text x="257.6" y="580">100</text><text x="289.7" y="580">150</text><text x="321.7" y="580">200</text><text x="353.8" y="580">250</text><text x="385.8" y="580">300</text></g>
<text x="290" y="426.3" font-size="6.5" text-anchor="middle" font-weight="bold">intrinsic signal of rat's cortex</text>
<text x="294.6" y="589.3" font-size="8.0" text-anchor="middle" fill="#2a2a2a">time (s)</text>
<polyline points="193.5,515.98 194,515.71 194.4,514.82 194.9,515.43 195.3,516.01 195.8,516.58 196.3,514.84 196.7,515.04 197.2,515.47 197.6,515.85 198.1,517.19 198.5,515.43 199,515.74 199.5,515.08 199.9,513.57 200.4,514.64 200.8,514.76 201.3,513.86 201.8,514.54 202.2,514.44 202.7,515.47 203.1,515.55 203.6,516.16 204.1,514.13 204.5,513.27 205,514.43 205.4,514.47 205.9,514.67 206.4,512.11 206.8,512.73 207.3,513.83 207.7,513.45 208.2,512.77 208.6,514.52 209.1,513.64 209.6,513.37 210,513.76 210.5,513.21 210.9,512.66 211.4,513.45 211.9,513.96 212.3,512.97 212.8,513.22 213.2,512.96 213.7,511.40 214.2,512.02 214.6,512.26 215.1,512.98 215.5,511.26 216,510.13 216.4,508.86 216.9,507.70 217.4,506.35 217.8,505.45 218.3,504.40 218.7,502.96 219.2,502.97 219.7,502.78 220.1,502.55 220.6,501.62 221,503.20 221.5,503.11 222,503.52 222.4,504.04 222.9,506.18 223.3,506.79 223.8,507.85 224.2,509.42 224.7,510.08 225.2,511.07 225.6,512.63 226.1,512.85 226.5,513.69 227,511.87 227.5,513.29 227.9,514.20 228.4,515.28 228.8,514.52 229.3,514.07 229.8,514.30 230.2,515.60 230.7,515.77 231.1,515.92 231.6,514.94 232.1,515.52 232.5,515.08 233,513.38 233.4,515.88 233.9,515.26 234.3,514.83 234.8,515.87 235.3,513.98 235.7,514.42 236.2,513.92 236.6,513.49 237.1,512.56 237.6,513.89 238,514.16 238.5,514.67 238.9,514.70 239.4,512.06 239.9,513.07 240.3,514.35 240.8,512.63 241.2,511.14 241.7,512.91 242.1,512.61 242.6,513.59 243.1,514.35 243.5,513.01 244,513.41 244.4,513.49 244.9,512.48 245.4,511.83 245.8,512.12 246.3,510.93 246.7,512.16 247.2,512.26 247.7,511.24 248.1,509.78 248.6,509.50 249,510.29 249.5,511.20 250,512.69 250.4,510.76 250.9,511.47 251.3,509.64 251.8,510.98 252.2,513.05 252.7,511.08 253.2,511.26 253.6,511.90 254.1,511.49 254.5,511.47 255,511.20 255.5,512.85 255.9,511.81 256.4,511.13 256.8,512.32 257.3,510.53 257.8,511.20 258.2,512.97 258.7,510.41 259.1,511.29 259.6,511.18 260,511.34 260.5,509.56 261,510.62 261.4,511.53 261.9,511.75 262.3,510.76 262.8,510.43 263.3,511.38 263.7,510.29 264.2,511.32 264.6,510.89 265.1,510.43 265.6,510.49 266,510.50 266.5,510.47 266.9,511.10 267.4,510.66 267.8,510.40 268.3,511.62 268.8,512.10 269.2,510.72 269.7,510.48 270.1,510.11 270.6,509.27 271.1,508.98 271.5,509.23 272,507.81 272.4,507.71 272.9,504.75 273.4,503.42 273.8,502.77 274.3,501.95 274.7,499.58 275.2,498.36 275.7,497.63 276.1,495.73 276.6,495.23 277,494.50 277.5,495.54 277.9,494.77 278.4,495.58 278.9,499.65 279.3,502.31 279.8,503.23 280.2,502.36 280.7,503.64 281.2,505.12 281.6,505.95 282.1,507.82 282.5,507.45 283,508.50 283.5,507.85 283.9,508.16 284.4,508.40 284.8,508.44 285.3,507.49 285.7,506.04 286.2,508.60 286.7,507.26 287.1,507.75 287.6,506.22 288,506.04 288.5,507.57 289,507.19 289.4,505.90 289.9,505.26 290.3,506.90 290.8,507.68 291.3,506.76 291.7,505.55 292.2,505.46 292.6,505.89 293.1,505.78 293.6,505.70 294,506.00 294.5,506.85 294.9,505.69 295.4,505.53 295.8,505.03 296.3,505.59 296.8,506.10 297.2,505.14 297.7,504.69 298.1,503.72 298.6,505.99 299.1,505.88 299.5,505.60 300,503.46 300.4,506.49 300.9,504.62 301.4,505.45 301.8,505.85 302.3,504.34 302.7,503.89 303.2,507.00 303.6,506.25 304.1,504.93 304.6,504.91 305,503.47 305.5,504.62 305.9,504.43 306.4,505.94 306.9,504.04 307.3,503.84 307.8,503.13 308.2,504.06 308.7,502.15 309.2,503.66 309.6,502.11 310.1,501.58 310.5,503.71 311,503.41 311.5,504.00 311.9,505.11 312.4,503.41 312.8,503.24 313.3,501.93 313.7,501.10 314.2,503.31 314.7,502.41 315.1,501.06 315.6,499.71 316,499.27 316.5,499.32 317,498.32 317.4,496.82 317.9,497.72 318.3,497.95 318.8,498.08 319.3,497.92 319.7,496.69 320.2,498.38 320.6,498.53 321.1,498.64 321.5,499.36 322,500.85 322.5,501.96 322.9,502.51 323.4,503.11 323.8,503.76 324.3,503.03 324.8,502.48 325.2,503.58 325.7,504.19 326.1,503.63 326.6,503.41 327.1,502.68 327.5,502.95 328,503.08 328.4,504.47 328.9,503.99 329.3,503.71 329.8,503.87 330.3,502.99 330.7,503.07 331.2,503.74 331.6,502.92 332.1,502.05 332.6,500.76 333,502.39 333.5,503.20 333.9,502.31 334.4,501.32 334.9,502.88 335.3,502.33 335.8,502.87 336.2,502.08 336.7,503.16 337.2,503.24 337.6,503.11 338.1,502.97 338.5,503.83 339,503.22 339.4,503.50 339.9,501.31 340.4,501.06 340.8,502.62 341.3,502.96 341.7,502.34 342.2,502.90 342.7,503.05 343.1,502.06 343.6,501.38 344,501.68 344.5,500.98 345,501.89 345.4,502.28 345.9,502.62 346.3,502.74 346.8,503.05 347.2,501.27 347.7,501.16 348.2,501.98 348.6,502.03 349.1,502.83 349.5,501.79 350,502.13 350.5,502.20 350.9,502.33 351.4,503.34 351.8,502.85 352.3,500.94 352.8,502.33 353.2,502.79 353.7,502.36 354.1,502.79 354.6,502.95 355.1,503.12 355.5,502.98 356,502.13 356.4,503.77 356.9,503.52 357.3,503.36 357.8,502.16 358.3,502.56 358.7,501.58 359.2,502.28 359.6,500.90 360.1,502.81 360.6,500.39 361,502.25 361.5,502.05 361.9,502.56 362.4,502.08 362.9,500.48 363.3,500.54 363.8,501.68 364.2,501.18 364.7,500.00 365.1,500.54 365.6,501.49 366.1,501.20 366.5,501.06 367,502.84 367.4,502.37 367.9,501.69 368.4,500.00 368.8,500.41 369.3,500.89 369.7,502.51 370.2,501.98 370.7,502.62 371.1,501.36 371.6,501.43 372,500.14 372.5,500.25 372.9,500.05 373.4,499.53 373.9,498.67 374.3,499.28 374.8,499.46 375.2,498.83 375.7,496.11 376.2,498.37 376.6,499.29 377.1,498.69 377.5,500.24 378,499.14 378.5,500.43 378.9,500.32 379.4,500.46 379.8,501.19 380.3,500.45 380.8,500.77 381.2,500.14 381.7,500.40 382.1,501.38 382.6,500.76 383,500.69 383.5,501.10 384,501.16 384.4,500.45 384.9,501.70 385.3,500.50 385.8,501.00" fill="none" stroke="#ff0a0a" stroke-width="1.35" stroke-linejoin="round"/>
<polyline points="193.5,486.67 194,485.44 194.4,485.48 194.9,486.02 195.3,485.49 195.8,486.68 196.3,486.30 196.7,486.46 197.2,486.57 197.6,487.61 198.1,486.18 198.5,487.32 199,487.14 199.5,487.27 199.9,488.49 200.4,488.62 200.8,488.00 201.3,488.59 201.8,488.88 202.2,488.98 202.7,488.65 203.1,489.18 203.6,490.33 204.1,489.49 204.5,489.36 205,489.86 205.4,489.05 205.9,490.73 206.4,490.49 206.8,489.37 207.3,490.32 207.7,490.18 208.2,490.38 208.6,490.35 209.1,490.60 209.6,491.57 210,489.94 210.5,491.34 210.9,491.23 211.4,490.91 211.9,490.93 212.3,491.44 212.8,492.43 213.2,492.43 213.7,491.41 214.2,491.77 214.6,491.46 215.1,491.69 215.5,492.76 216,492.55 216.4,491.37 216.9,493.00 217.4,493.56 217.8,491.88 218.3,493.27 218.7,492.54 219.2,494.21 219.7,493.85 220.1,493.37 220.6,493.53 221,493.36 221.5,493.34 222,493.62 222.4,494.84 222.9,493.34 223.3,493.57 223.8,494.19 224.2,494.21 224.7,495.63 225.2,494.32 225.6,494.06 226.1,494.99 226.5,494.62 227,495.17 227.5,494.13 227.9,493.77 228.4,495.22 228.8,495.44 229.3,495.72 229.8,494.45 230.2,495.02 230.7,495.31 231.1,495.37 231.6,495.98 232.1,496.18 232.5,495.44 233,496.28 233.4,495.80 233.9,495.93 234.3,495.00 234.8,496.01 235.3,497.52 235.7,495.90 236.2,496.20 236.6,496.06 237.1,496.82 237.6,496.36 238,497.02 238.5,497.28 238.9,496.17 239.4,497.37 239.9,496.51 240.3,495.80 240.8,496.70 241.2,497.33 241.7,497.37 242.1,497.93 242.6,497.07 243.1,497.15 243.5,497.37 244,496.71 244.4,497.78 244.9,496.98 245.4,497.43 245.8,497.67 246.3,497.96 246.7,498.36 247.2,498.19 247.7,497.98 248.1,497.98 248.6,496.53 249,497.86 249.5,497.91 250,497.84 250.4,498.31 250.9,498.32 251.3,498.44 251.8,499.34 252.2,498.84 252.7,497.85 253.2,499.42 253.6,498.53 254.1,498.61 254.5,498.61 255,497.70 255.5,498.11 255.9,498.46 256.4,499.00 256.8,499.06 257.3,499.48 257.8,499.58 258.2,499.51 258.7,500.39 259.1,499.75 259.6,498.43 260,500.34 260.5,499.15 261,500.08 261.4,499.24 261.9,498.61 262.3,499.87 262.8,499.99 263.3,499.94 263.7,499.73 264.2,499.68 264.6,501.27 265.1,499.21 265.6,500.01 266,499.16 266.5,500.90 266.9,500.26 267.4,500.56 267.8,500.81 268.3,500.58 268.8,500.90 269.2,500.75 269.7,500.36 270.1,499.86 270.6,500.42 271.1,500.50 271.5,501.43 272,501.44 272.4,500.70 272.9,500.76 273.4,501.18 273.8,500.90 274.3,500.62 274.7,501.28 275.2,500.51 275.7,501.16 276.1,501.85 276.6,501.46 277,501.56 277.5,501.51 277.9,501.04 278.4,500.87 278.9,500.96 279.3,501.47 279.8,501.58 280.2,500.74 280.7,502.50 281.2,501.90 281.6,502.02 282.1,501.24 282.5,502.55 283,501.84 283.5,502.52 283.9,502.46 284.4,502.06 284.8,502.72 285.3,502.15 285.7,502.04 286.2,502.18 286.7,502.26 287.1,501.58 287.6,501.93 288,502.70 288.5,502.83 289,502.26 289.4,502.88 289.9,503.27 290.3,502.09 290.8,502.44 291.3,502.10 291.7,502.96 292.2,501.89 292.6,502.47 293.1,502.26 293.6,502.98 294,503.70 294.5,502.31 294.9,503.07 295.4,503.27 295.8,503.12 296.3,503.41 296.8,502.16 297.2,502.50 297.7,503.23 298.1,502.40 298.6,502.56 299.1,502.73 299.5,502.91 300,502.40 300.4,502.89 300.9,503.15 301.4,503.50 301.8,503.29 302.3,503.73 302.7,503.91 303.2,502.95 303.6,504.00 304.1,503.30 304.6,503.59 305,502.73 305.5,503.02 305.9,503.57 306.4,503.75 306.9,503.27 307.3,503.54 307.8,503.02 308.2,503.15 308.7,503.95 309.2,502.35 309.6,503.10 310.1,503.68 310.5,503.22 311,503.62 311.5,503.51 311.9,504.21 312.4,503.59 312.8,503.71 313.3,503.04 313.7,503.58 314.2,503.13 314.7,503.55 315.1,503.74 315.6,502.97 316,502.22 316.5,503.06 317,503.55 317.4,503.47 317.9,503.51 318.3,503.31 318.8,502.66 319.3,503.12 319.7,503.15 320.2,502.95 320.6,503.64 321.1,503.33 321.5,502.84 322,502.38 322.5,503.81 322.9,502.00 323.4,502.32 323.8,503.02 324.3,502.81 324.8,503.64 325.2,502.47 325.7,502.55 326.1,502.85 326.6,502.89 327.1,502.25 327.5,502.71 328,501.95 328.4,502.49 328.9,503.73 329.3,502.11 329.8,502.51 330.3,502.31 330.7,503.21 331.2,503.73 331.6,502.84 332.1,502.62 332.6,502.89 333,501.83 333.5,501.51 333.9,502.63 334.4,501.70 334.9,502.61 335.3,502.71 335.8,503.24 336.2,502.50 336.7,502.68 337.2,502.27 337.6,501.95 338.1,501.08 338.5,501.50 339,500.73 339.4,501.68 339.9,502.75 340.4,502.73 340.8,502.11 341.3,501.25 341.7,500.06 342.2,500.67 342.7,501.76 343.1,500.74 343.6,500.95 344,500.87 344.5,500.21 345,501.87 345.4,500.77 345.9,501.28 346.3,500.82 346.8,500.37 347.2,499.64 347.7,501.12 348.2,500.32 348.6,500.47 349.1,500.16 349.5,499.79 350,499.76 350.5,499.20 350.9,500.03 351.4,499.91 351.8,499.06 352.3,499.69 352.8,499.22 353.2,498.68 353.7,499.32 354.1,498.40 354.6,499.51 355.1,498.50 355.5,498.70 356,499.54 356.4,498.34 356.9,498.37 357.3,499.11 357.8,499.65 358.3,498.11 358.7,498.78 359.2,498.66 359.6,496.68 360.1,498.08 360.6,498.88 361,497.73 361.5,497.73 361.9,498.03 362.4,496.98 362.9,497.08 363.3,496.98 363.8,497.84 364.2,496.95 364.7,496.82 365.1,496.84 365.6,496.74 366.1,497.39 366.5,496.48 367,497.58 367.4,496.11 367.9,497.12 368.4,496.31 368.8,496.30 369.3,495.99 369.7,496.49 370.2,495.34 370.7,496.57 371.1,495.56 371.6,495.61 372,495.97 372.5,495.91 372.9,496.59 373.4,495.31 373.9,494.64 374.3,495.61 374.8,494.72 375.2,495.05 375.7,495.66 376.2,494.80 376.6,494.39 377.1,494.95 377.5,494.86 378,494.63 378.5,494.76 378.9,494.72 379.4,494.51 379.8,494.43 380.3,494.00 380.8,494.07 381.2,494.01 381.7,493.83 382.1,494.01 382.6,493.16 383,492.64 383.5,493.81 384,492.38 384.4,494.12 384.9,492.86 385.3,493.05 385.8,491.59" fill="none" stroke="#0a0a0a" stroke-width="1.35" stroke-dasharray="2 1.3" stroke-linejoin="round"/>
<path d="M193.2 430V571.5" stroke="#1f5a24" stroke-width=".9"/>
<path d="M194 430V571.5" stroke="#222" stroke-width=".7"/>
<rect x="201.9" y="437.4" width="9.6" height="2.2" fill="#ff0a0a" rx=".6"/>
<text x="216" y="442.3" font-size="12" font-family='"Liberation Serif", "DejaVu Serif", serif' fill="#111">3<tspan dy="2" font-size="8.3" font-style="italic">m−s</tspan></text>
<circle cx="242.8" cy="438.8" r="1.15" fill="#111"/>
<circle cx="247.4" cy="438.8" r="1.15" fill="#111"/>
<circle cx="252" cy="438.8" r="1.15" fill="#111"/>
<text x="262" y="442.3" font-size="12" font-family='"Liberation Serif", "DejaVu Serif", serif' fill="#111">8<tspan dy="2" font-size="8.3" font-style="italic">m−s</tspan></text>
<text x="167.3" y="497.5" font-size="8.6" text-anchor="middle" font-family='"Liberation Serif", "DejaVu Serif", serif' fill="#333">Δ<tspan font-style="italic">R</tspan></text>
<path d="M161.1 500.8h12.5" stroke="#333" stroke-width=".6"/>
<text x="167.3" y="509.4" font-size="8.6" text-anchor="middle" font-family='"Liberation Serif", "DejaVu Serif", serif' font-style="italic" fill="#333">R</text>
</g>
<g id="pc">
<text x="414" y="13.2" font-size="13.6" fill="#1a1a1a">(c)</text>
<rect x="462.3" y="9.8" width="202.2" height="145.6" fill="#fff" stroke="#777" stroke-width=".7"/>
<path d="M462.3 155.4h2M664.5 155.4h-2M462.3 140.8h2M664.5 140.8h-2M462.3 126.3h2M664.5 126.3h-2M462.3 111.7h2M664.5 111.7h-2M462.3 97.2h2M664.5 97.2h-2M462.3 82.6h2M664.5 82.6h-2M462.3 68h2M664.5 68h-2M462.3 53.5h2M664.5 53.5h-2M462.3 38.9h2M664.5 38.9h-2M462.3 24.4h2M664.5 24.4h-2M462.3 9.8h2M664.5 9.8h-2M462.3 155.4v-2M462.3 9.8v2M502.7 155.4v-2M502.7 9.8v2M543.2 155.4v-2M543.2 9.8v2M583.6 155.4v-2M583.6 9.8v2M624.1 155.4v-2M624.1 9.8v2M664.5 155.4v-2M664.5 9.8v2" stroke="#666" stroke-width=".6" fill="none"/>
<g font-size="6.3" fill="#4a4a4a" text-anchor="end"><text x="459.3" y="157.5">0</text><text x="459.3" y="142.9">0.1</text><text x="459.3" y="128.4">0.2</text><text x="459.3" y="113.8">0.3</text><text x="459.3" y="99.3">0.4</text><text x="459.3" y="84.7">0.5</text><text x="459.3" y="70.1">0.6</text><text x="459.3" y="55.6">0.7</text><text x="459.3" y="41">0.8</text><text x="459.3" y="26.5">0.9</text><text x="459.3" y="11.9">1</text></g><g font-size="6.3" fill="#4a4a4a" text-anchor="middle"><text x="462.3" y="163.4">0</text><text x="502.7" y="163.4">1</text><text x="543.2" y="163.4">2</text><text x="583.6" y="163.4">3</text><text x="624.1" y="163.4">4</text><text x="664.5" y="163.4">5</text></g>
<text x="463.8" y="8.6" font-size="6.2" fill="#4a4a4a">×10<tspan dy="-2.4" font-size="4.6">-6</tspan></text>
<text x="447.3" y="82.8" font-size="6.3" text-anchor="middle" fill="#4a4a4a" transform="rotate(-90 447.3 82.8)">PSD</text>
<text x="562.7" y="172.7" font-size="6.7" text-anchor="middle" fill="#4a4a4a">Frequency (Hz)</text>
<polyline points="462.3,155.4 470,136.5 477.3,143 484.5,140.8 491.8,152.2 499.5,152.2 506.8,152.8 514.1,153.9 521.3,148.1 529,150.3 536.3,154.8 543.2,155 646.3,155.3" fill="none" stroke="#ff1a1a" stroke-width="1.4" stroke-linejoin="round"/>
<polyline points="462.3,155.4 470,24.4 477.3,108.8 484.5,105.9 491.8,137.9 499.5,138.7 506.8,140.8 514.1,146.7 521.3,145.9 529,148.8 536.3,153.9 543.2,153.7 555.3,154.8 571.5,155.1 585.6,154.5 595.8,155.1 646.3,155.3" fill="none" stroke="#1a1a1a" stroke-width="1.6" stroke-linejoin="round"/>
<rect x="486.2" y="20.9" width="9.8" height="2.2" fill="#ff1a1a" rx=".6"/>
<text x="501.4" y="25.4" font-size="11" font-family='"Liberation Serif", "DejaVu Serif", serif' font-weight="bold" fill="#111">1<tspan dy="1.8" font-size="7.6" font-style="italic" font-weight="bold">m−h</tspan></text>
<rect x="531.5" y="20.6" width="13" height="2.8" fill="#0a0a0a" rx=".6"/>
<text x="546.3" y="25.4" font-size="11" font-family='"Liberation Serif", "DejaVu Serif", serif' font-weight="bold" fill="#111">8<tspan dy="1.8" font-size="7.6" font-style="italic" font-weight="bold">m−h</tspan></text>
</g>
<g id="ph">
<text x="404.5" y="435.6" font-size="13.6" fill="#1a1a1a">(h)</text>
<rect x="451.5" y="425.6" width="207.9" height="142.4" fill="#fff" stroke="#777" stroke-width=".7"/>
<path d="M451.5 568h2M659.4 568h-2M451.5 539.5h2M659.4 539.5h-2M451.5 511h2M659.4 511h-2M451.5 482.6h2M659.4 482.6h-2M451.5 454.1h2M659.4 454.1h-2M451.5 425.6h2M659.4 425.6h-2M451.5 568v-2M451.5 425.6v2M493.1 568v-2M493.1 425.6v2M534.7 568v-2M534.7 425.6v2M576.2 568v-2M576.2 425.6v2M617.8 568v-2M617.8 425.6v2M659.4 568v-2M659.4 425.6v2" stroke="#666" stroke-width=".6" fill="none"/>
<g font-size="6.3" fill="#4a4a4a" text-anchor="end"><text x="448.5" y="570.1">0</text><text x="448.5" y="541.6">0.5</text><text x="448.5" y="513.1">1</text><text x="448.5" y="484.7">1.5</text><text x="448.5" y="456.2">2</text><text x="448.5" y="427.7">2.5</text></g><g font-size="6.3" fill="#4a4a4a" text-anchor="middle"><text x="451.5" y="576.2">0</text><text x="493.1" y="576.2">1</text><text x="534.7" y="576.2">2</text><text x="576.2" y="576.2">3</text><text x="617.8" y="576.2">4</text><text x="659.4" y="576.2">5</text></g>
<text x="453" y="424.4" font-size="6.2" fill="#4a4a4a">×10<tspan dy="-2.4" font-size="4.6">-5</tspan></text>
<text x="436.3" y="496.7" font-size="6.3" text-anchor="middle" fill="#4a4a4a" transform="rotate(-90 436.3 496.7)">PSD</text>
<text x="555" y="585.6" font-size="6.7" text-anchor="middle" fill="#4a4a4a">Frequency (Hz)</text>
<polyline points="451.5,568 459.4,438.7 466.9,563.4 474.4,566.9 484.8,567.8 640.7,567.9" fill="none" stroke="#ff1a1a" stroke-width="1.4" stroke-linejoin="round"/>
<polyline points="451.5,568 459.4,536.7 466.9,567.4 474.4,567.8 640.7,567.9" fill="none" stroke="#1a1a1a" stroke-width="1.6" stroke-linejoin="round"/>
<rect x="476" y="436.8" width="9.4" height="2.2" fill="#ff1a1a" rx=".6"/>
<text x="490" y="441.2" font-size="12" font-family='"Liberation Serif", "DejaVu Serif", serif' fill="#111">3<tspan dy="1.8" font-size="8.3" font-style="italic">m−s</tspan></text>
<rect x="515.5" y="436.5" width="14.3" height="2.8" fill="#0a0a0a" rx=".6"/>
<text x="534.8" y="441.2" font-size="12" font-family='"Liberation Serif", "DejaVu Serif", serif' fill="#111">8<tspan dy="1.8" font-size="8.3" font-style="italic">m−s</tspan></text>
</g>
<g id="pd">
<g clip-path="url(#cpd)">
<g filter="url(#hfd)">
<rect x="47" y="216.6" width="230.6" height="174.4" fill="url(#bgd)"/>
<ellipse cx="50" cy="350" rx="15" ry="24" fill="rgb(110,0,0)" filter="url(#b1)"/>
<ellipse cx="275" cy="350" rx="15" ry="24" fill="rgb(110,0,0)" filter="url(#b1)"/>
<ellipse cx="86" cy="338" rx="15" ry="4.5" fill="rgb(84,0,26)" filter="url(#b1)"/>
<ellipse cx="236" cy="342" rx="17" ry="5" fill="rgb(92,0,26)" filter="url(#b1)"/>
<ellipse cx="130" cy="303" rx="22" ry="7" fill="rgb(56,0,38)" filter="url(#b2)"/>
<ellipse cx="190" cy="300" rx="20" ry="7" fill="rgb(56,0,38)" filter="url(#b2)"/>
<ellipse cx="60" cy="330" rx="10" ry="14" fill="rgb(102,0,26)" filter="url(#b2)"/>
<ellipse cx="268" cy="330" rx="8" ry="14" fill="rgb(102,0,26)" filter="url(#b2)"/>
<ellipse cx="162" cy="314" rx="34" ry="13" fill="rgb(133,0,26)" filter="url(#b2)"/>
<ellipse cx="106" cy="325" rx="11" ry="8" fill="rgb(204,0,0)" filter="url(#b1)"/>
<ellipse cx="255" cy="320" rx="12" ry="7" fill="rgb(199,0,0)" filter="url(#b1)"/>
<ellipse cx="205" cy="321" rx="10" ry="7" fill="rgb(173,0,0)" filter="url(#b1)"/>
<ellipse cx="140" cy="315" rx="9" ry="8" fill="rgb(153,0,0)" filter="url(#b1)"/>
<ellipse cx="75" cy="322" rx="8" ry="6" fill="rgb(140,0,0)" filter="url(#b1)"/>
<ellipse cx="152" cy="355" rx="56" ry="15" fill="rgb(214,0,0)" filter="url(#b2)"/>
<ellipse cx="163" cy="336" rx="15" ry="22" fill="rgb(214,0,0)" filter="url(#b1)"/>
<ellipse cx="150" cy="359" rx="44" ry="8" fill="rgb(252,0,0)" filter="url(#b1)"/>
<ellipse cx="163" cy="337" rx="8" ry="17" fill="rgb(237,0,0)" filter="url(#b1)"/>
<ellipse cx="160" cy="384" rx="42" ry="6" fill="rgb(247,0,0)" filter="url(#b1)"/>
</g>
<g fill="#050505"><rect x="102.5" y="226.8" width="1.9" height="10.6" rx="0.9"/><rect x="189.9" y="218.9" width="1.2" height="14.3" rx="0.6"/><rect x="106.7" y="220.9" width="3.2" height="10.3" rx="1.5"/><rect x="236.6" y="225.3" width="2.5" height="6.8" rx="1.1"/><rect x="191.5" y="235.1" width="2.2" height="10.2" rx="1"/><rect x="199.4" y="218.9" width="2.7" height="11.9" rx="1.2"/><rect x="116.2" y="218.7" width="2.9" height="10.7" rx="1.3"/><rect x="210.1" y="235.4" width="2.6" height="11.5" rx="1.2"/><rect x="137.7" y="233.3" width="2.1" height="12.1" rx="0.9"/><rect x="246.7" y="219.2" width="1.5" height="8.1" rx="0.7"/><rect x="265.6" y="224.5" width="2.5" height="8.2" rx="1.1"/><rect x="163" y="223.5" width="1.9" height="11" rx="0.9"/><rect x="179.9" y="236.2" width="2.6" height="11.3" rx="1.2"/><rect x="241.1" y="238.8" width="2.5" height="5.4" rx="1.2"/><rect x="241.8" y="238" width="3" height="8.4" rx="1.4"/><rect x="208.9" y="220.6" width="2.9" height="11.4" rx="1.3"/><rect x="112.5" y="218.9" width="2.9" height="15.8" rx="1.3"/><rect x="68.9" y="233.2" width="2" height="5.9" rx="0.9"/><rect x="114.5" y="232.4" width="2.9" height="5.1" rx="1.3"/><rect x="186.7" y="218.8" width="2.6" height="9.3" rx="1.2"/><rect x="246.7" y="238.5" width="2.2" height="11.3" rx="1"/><rect x="118.4" y="219" width="2.4" height="6.3" rx="1.1"/><rect x="93.1" y="223.9" width="2.4" height="7" rx="1.1"/><rect x="58.6" y="235.1" width="1.8" height="11.8" rx="0.8"/><rect x="250.3" y="223.3" width="2.1" height="10.4" rx="1"/><rect x="193.5" y="228" width="2.3" height="10.5" rx="1.1"/><rect x="260.2" y="226" width="2.1" height="11.8" rx="0.9"/><rect x="101.8" y="222" width="3.2" height="10.7" rx="1.4"/><rect x="172.2" y="218.6" width="2" height="11.8" rx="0.9"/><rect x="53.3" y="228.5" width="2.5" height="5.6" rx="1.1"/><rect x="189.6" y="225.1" width="2.6" height="8.6" rx="1.2"/><rect x="208.2" y="231.6" width="1.2" height="5.3" rx="0.6"/><rect x="201" y="237.9" width="1.7" height="7.6" rx="0.8"/><rect x="182.2" y="222.3" width="1.9" height="8.6" rx="0.9"/><rect x="132" y="228" width="1.8" height="8.4" rx="0.8"/><rect x="222.3" y="218.7" width="2.3" height="13.3" rx="1.1"/><rect x="118.2" y="220.7" width="2.8" height="8.1" rx="1.3"/><rect x="90.8" y="224.5" width="2.6" height="6.4" rx="1.2"/><rect x="120.9" y="222.5" width="2.9" height="9.8" rx="1.3"/><rect x="241.2" y="220" width="1.9" height="12.2" rx="0.9"/><rect x="247.9" y="224.8" width="1.7" height="6.6" rx="0.8"/><rect x="167.5" y="220.3" width="2.8" height="14" rx="1.3"/><rect x="89.8" y="221.6" width="2.8" height="11.9" rx="1.3"/><rect x="230.4" y="222.7" width="1.5" height="8.4" rx="0.7"/><rect x="227.4" y="221.5" width="1.9" height="9.7" rx="0.9"/><rect x="142.8" y="224" width="3" height="7" rx="1.4"/><rect x="49.6" y="237.3" width="3" height="11.5" rx="1.3"/><rect x="146" y="237.5" width="3.1" height="5.9" rx="1.4"/><rect x="216.2" y="234.2" width="2.5" height="8.6" rx="1.1"/><rect x="114.1" y="222.7" width="1.7" height="6.3" rx="0.8"/><rect x="180.8" y="221.7" width="2.8" height="6.2" rx="1.3"/><rect x="251.4" y="230.4" width="3" height="12.4" rx="1.4"/><rect x="251.5" y="227.6" width="1.2" height="11.7" rx="0.6"/><rect x="87.3" y="222" width="2.5" height="10.7" rx="1.1"/><rect x="141.7" y="237.2" width="2.4" height="6.8" rx="1.1"/><rect x="105.6" y="235" width="2.2" height="10.5" rx="1"/><rect x="127.9" y="220.4" width="2.3" height="13.8" rx="1"/><rect x="87" y="233" width="3" height="11.1" rx="1.4"/><rect x="233.7" y="218.6" width="2.5" height="14.6" rx="1.1"/><rect x="60.3" y="221.5" width="1.7" height="10.8" rx="0.8"/><rect x="143.6" y="225.2" width="2.8" height="5.4" rx="1.3"/><rect x="61.6" y="219.5" width="1.4" height="6.6" rx="0.7"/><rect x="268.2" y="234.8" width="1.4" height="8.4" rx="0.6"/><rect x="120" y="222.2" width="1.9" height="11.8" rx="0.9"/><rect x="181" y="223" width="1.6" height="8.7" rx="0.7"/><rect x="76.5" y="227.1" width="2.6" height="8.6" rx="1.2"/><rect x="67" y="220.1" width="1.9" height="11.8" rx="0.9"/><rect x="224.4" y="223.4" width="2.8" height="11.4" rx="1.3"/><rect x="145.8" y="223.2" width="2.2" height="12.1" rx="1"/><rect x="143.4" y="230.4" width="2.1" height="7" rx="1"/><rect x="169.7" y="230.5" width="1.3" height="8.5" rx="0.6"/><rect x="144.1" y="235.5" width="3.1" height="7.3" rx="1.4"/><rect x="250.8" y="233" width="1.7" height="8.4" rx="0.8"/><rect x="76.4" y="233.6" width="2.5" height="11.6" rx="1.1"/><rect x="226.7" y="229.8" width="2.7" height="9.7" rx="1.2"/><rect x="72.6" y="227.8" width="1.2" height="6.4" rx="0.5"/><rect x="223.2" y="218.8" width="1.4" height="7" rx="0.6"/><rect x="247.1" y="220.2" width="1.2" height="14.1" rx="0.6"/><rect x="76" y="234.5" width="2.5" height="11" rx="1.2"/><rect x="262.5" y="227.6" width="2.8" height="5.5" rx="1.3"/><rect x="221" y="226.1" width="2.6" height="6.3" rx="1.2"/><rect x="217.6" y="237.1" width="1.3" height="6.7" rx="0.6"/><rect x="175.8" y="234" width="1.7" height="6" rx="0.8"/><rect x="104.8" y="228.5" width="2.7" height="8.5" rx="1.2"/><rect x="131.6" y="223.7" width="1.9" height="9.4" rx="0.9"/><rect x="67.1" y="225.8" width="3.1" height="9.1" rx="1.4"/><rect x="216.6" y="219.9" width="2.6" height="13.3" rx="1.2"/><rect x="200.3" y="226.2" width="2.2" height="11" rx="1"/><rect x="250.9" y="219.8" width="1.4" height="13.2" rx="0.6"/><rect x="254.8" y="226.2" width="2.1" height="11.7" rx="0.9"/><rect x="91" y="221.4" width="1.6" height="11.4" rx="0.7"/><rect x="119.4" y="220.9" width="2.6" height="15" rx="1.2"/><rect x="115.4" y="230.7" width="2" height="12" rx="0.9"/><rect x="180.5" y="221.4" width="1.6" height="6" rx="0.7"/><rect x="156.9" y="223.4" width="1.5" height="8.9" rx="0.7"/><rect x="121.6" y="232.5" width="1.5" height="12.7" rx="0.7"/><rect x="156.6" y="228.1" width="2.1" height="12.4" rx="1"/><rect x="233.5" y="227.1" width="2.2" height="11.6" rx="1"/><rect x="241.1" y="223.8" width="2.7" height="14.4" rx="1.2"/><rect x="154.1" y="220.8" width="1.7" height="12.7" rx="0.8"/><rect x="200.2" y="237.8" width="2.9" height="6" rx="1.3"/><rect x="91.8" y="221.3" width="1.6" height="12.5" rx="0.7"/><rect x="242" y="236.1" width="1.7" height="10.9" rx="0.8"/><rect x="119.1" y="224.2" width="2.7" height="6.3" rx="1.2"/><rect x="69.9" y="234.2" width="1.8" height="7.4" rx="0.8"/><rect x="179.7" y="230" width="1.2" height="7.8" rx="0.6"/><rect x="147.2" y="225.5" width="1.6" height="10.6" rx="0.7"/><rect x="263.4" y="223.6" width="2.3" height="6.7" rx="1"/><rect x="111" y="229.7" width="1.4" height="12.5" rx="0.6"/><rect x="252.6" y="219.2" width="3.1" height="9.7" rx="1.4"/><rect x="222.6" y="232.1" width="1.8" height="10.2" rx="0.8"/><rect x="196" y="233.4" width="1.7" height="10.6" rx="0.8"/><rect x="264.8" y="229.9" width="2.3" height="6" rx="1"/><rect x="159.6" y="222.9" width="2.6" height="12" rx="1.2"/><rect x="176" y="220.2" width="2.5" height="12" rx="1.1"/><rect x="89" y="235.8" width="2.5" height="5.4" rx="1.1"/><rect x="258.4" y="219.7" width="1.9" height="13" rx="0.8"/><rect x="182.9" y="227.1" width="2.5" height="9.3" rx="1.1"/><rect x="119.5" y="220.1" width="1.3" height="12.9" rx="0.6"/><rect x="218.1" y="226.8" width="2.7" height="8.4" rx="1.2"/><rect x="108.2" y="223.5" width="2.9" height="6" rx="1.3"/><rect x="162" y="221.1" width="2.7" height="9.2" rx="1.2"/><rect x="123.6" y="223.8" width="2.3" height="12.7" rx="1"/><rect x="128.5" y="234.5" width="1.4" height="6.7" rx="0.6"/><rect x="71" y="219.4" width="2.8" height="13.1" rx="1.3"/><rect x="102.2" y="223.3" width="1.7" height="7" rx="0.8"/><rect x="63.8" y="237.1" width="2.3" height="10.9" rx="1"/><rect x="220.9" y="228.8" width="1.8" height="7.7" rx="0.8"/><rect x="88.1" y="223.5" width="1.5" height="13" rx="0.7"/><rect x="235.1" y="255.7" width="2.2" height="5.7" rx="1"/><rect x="118.6" y="247.4" width="2.1" height="10.4" rx="0.9"/><rect x="246.7" y="222.6" width="1.9" height="11.1" rx="0.9"/><rect x="162.8" y="226.8" width="1.8" height="6.4" rx="0.8"/><rect x="259" y="258.4" width="1.9" height="6.2" rx="0.8"/><rect x="253" y="244.9" width="2.3" height="10.6" rx="1"/><rect x="163.2" y="237.6" width="1.9" height="8.3" rx="0.9"/><rect x="85.1" y="232.6" width="2.2" height="5.8" rx="1"/><rect x="59.6" y="247.4" width="1.5" height="8.3" rx="0.7"/><rect x="154.6" y="234.4" width="2.4" height="6.8" rx="1.1"/><rect x="141.7" y="227.9" width="2" height="7.7" rx="0.9"/><rect x="129.1" y="253" width="1.6" height="8.1" rx="0.7"/><rect x="252.5" y="223.2" width="1.3" height="7.6" rx="0.6"/><rect x="221.1" y="246.9" width="1.5" height="7.1" rx="0.7"/><rect x="89.2" y="239.7" width="1.3" height="10" rx="0.6"/><rect x="250.2" y="262.5" width="2.1" height="9.8" rx="0.9"/><rect x="52.9" y="231.9" width="2.4" height="11.1" rx="1.1"/><rect x="141.2" y="262" width="1.9" height="9" rx="0.9"/></g>
<g fill="none" stroke="#0a0a0a" stroke-width="1.35" stroke-linejoin="round"><path d="M103.9 357.8C104.5 356.3 108.5 355.1 113 354.2C117.5 353.3 125.1 352.9 131.2 352.3C137.3 351.7 145.3 351.4 149.5 350.5C153.7 349.6 156.2 348.7 156.3 346.9C156.4 345.1 150.8 342.4 150 339.6C149.2 336.9 151.8 332.8 151.8 330.4C151.8 328 148.9 326.8 150 325C151.1 323.2 156.2 321.3 158.6 319.5C160.9 317.7 162.5 314.6 164.1 314C165.7 313.4 166.7 314.7 168.2 316.2C169.7 317.7 172.1 321 173.2 323.1C174.3 325.2 175.2 326.8 175 328.6C174.8 330.4 171.2 332.3 171.8 334.1C172.4 335.9 177.6 337.5 178.5 339.6C179.4 341.7 175.9 345.1 177.2 346.9C178.4 348.7 183 349.3 186 350.5C189 351.7 193 352.4 195.1 354.2C197.2 356 198.8 359.5 198.8 361.5C198.8 363.5 198.4 365.2 195.1 366.2C191.8 367.2 186.3 367.6 178.7 367.7C171.1 367.8 158.6 367.1 149.5 366.9C140.4 366.6 130.6 366.8 123.9 366.2C117.2 365.6 112.6 364.7 109.3 363.3C106 361.9 103.3 359.3 103.9 357.8Z"/><path d="M49 385.5C53.3 384.3 66.2 384 75 383C83.8 382 94.6 380.5 102 379.5C109.4 378.5 113.2 377.2 119.5 376.8C125.8 376.4 133.9 377.5 139.6 377.3C145.3 377.1 148.5 376.4 153.6 375.8C158.7 375.2 164.3 374.2 170 374C175.7 373.8 182.3 374 188 374.3C193.7 374.6 199.7 374.9 204 375.8C208.3 376.7 211.9 378.1 214 379.5C216.1 380.9 217.2 383.1 216.5 384.5C215.8 385.9 214.4 387.2 210 388C205.6 388.8 205 389.2 190 389.5C175 389.8 143.5 389.9 120 390C96.5 390.1 60.8 390.8 49 390C37.2 389.2 44.7 386.7 49 385.5Z"/><ellipse cx="159.5" cy="256.5" rx="1.6" ry="3"/></g>
<g fill="#050505" stroke="#050505" stroke-width="0.65"><use href="#ar" transform="translate(52.8 222) rotate(93)"/><use href="#ar" transform="translate(75.4 222) rotate(208)"/><use href="#ar" transform="translate(90.4 222) rotate(238)"/><use href="#ar" transform="translate(113 222) rotate(115)"/><use href="#ar" transform="translate(128.1 222) rotate(153)"/><use href="#ar" transform="translate(150.7 222) rotate(224)"/><use href="#ar" transform="translate(165.8 222) rotate(300)"/><use href="#ar" transform="translate(188.3 222) rotate(142)"/><use href="#ar" transform="translate(203.4 222) rotate(357)"/><use href="#ar" transform="translate(226 222) rotate(118)"/><use href="#ar" transform="translate(241.1 222) rotate(148)"/><use href="#ar" transform="translate(263.6 222) rotate(354)"/><use href="#ar" transform="translate(52.8 227.3) rotate(156)"/><use href="#ar" transform="translate(60.3 227.3) rotate(172)"/><use href="#ar" transform="translate(67.9 227.3) rotate(244)"/><use href="#ar" transform="translate(75.4 227.3) rotate(270)"/><use href="#ar" transform="translate(82.9 227.3) rotate(208)"/><use href="#ar" transform="translate(90.4 227.3) rotate(281)"/><use href="#ar" transform="translate(98 227.3) rotate(237)"/><use href="#ar" transform="translate(105.5 227.3) rotate(195)"/><use href="#ar" transform="translate(113 227.3) rotate(178)"/><use href="#ar" transform="translate(120.6 227.3) rotate(213)"/><use href="#ar" transform="translate(128.1 227.3) rotate(172)"/><use href="#ar" transform="translate(135.6 227.3) rotate(215)"/><use href="#ar" transform="translate(143.2 227.3) rotate(307)"/><use href="#ar" transform="translate(150.7 227.3) rotate(328)"/><use href="#ar" transform="translate(158.2 227.3) rotate(235)"/><use href="#ar" transform="translate(165.8 227.3) rotate(207)"/><use href="#ar" transform="translate(173.3 227.3) rotate(273)"/><use href="#ar" transform="translate(180.8 227.3) rotate(173)"/><use href="#ar" transform="translate(188.3 227.3) rotate(25)"/><use href="#ar" transform="translate(195.9 227.3) rotate(2)"/><use href="#ar" transform="translate(203.4 227.3) rotate(356)"/><use href="#ar" transform="translate(210.9 227.3) rotate(15)"/><use href="#ar" transform="translate(218.5 227.3) rotate(34)"/><use href="#ar" transform="translate(226 227.3) rotate(100)"/><use href="#ar" transform="translate(233.5 227.3) rotate(200)"/><use href="#ar" transform="translate(241.1 227.3) rotate(305)"/><use href="#ar" transform="translate(248.6 227.3) rotate(307)"/><use href="#ar" transform="translate(256.1 227.3) rotate(342)"/><use href="#ar" transform="translate(263.6 227.3) rotate(185)"/><use href="#ar" transform="translate(271.2 227.3) rotate(180)"/><use href="#ar" transform="translate(52.8 232.7) rotate(265)"/><use href="#ar" transform="translate(60.3 232.7) rotate(274)"/><use href="#ar" transform="translate(67.9 232.7) rotate(269)"/><use href="#ar" transform="translate(75.4 232.7) rotate(265)"/><use href="#ar" transform="translate(82.9 232.7) rotate(329)"/><use href="#ar" transform="translate(90.4 232.7) rotate(314)"/><use href="#ar" transform="translate(98 232.7) rotate(224)"/><use href="#ar" transform="translate(105.5 232.7) rotate(205)"/><use href="#ar" transform="translate(113 232.7) rotate(185)"/><use href="#ar" transform="translate(120.6 232.7) rotate(191)"/><use href="#ar" transform="translate(128.1 232.7) rotate(172)"/><use href="#ar" transform="translate(135.6 232.7) rotate(258)"/><use href="#ar" transform="translate(143.2 232.7) rotate(265)"/><use href="#ar" transform="translate(150.7 232.7) rotate(321)"/><use href="#ar" transform="translate(158.2 232.7) rotate(312)"/><use href="#ar" transform="translate(165.8 232.7) rotate(196)"/><use href="#ar" transform="translate(173.3 232.7) rotate(177)"/><use href="#ar" transform="translate(180.8 232.7) rotate(103)"/><use href="#ar" transform="translate(188.3 232.7) rotate(15)"/><use href="#ar" transform="translate(195.9 232.7) rotate(10)"/><use href="#ar" transform="translate(203.4 232.7) rotate(104)"/><use href="#ar" transform="translate(210.9 232.7) rotate(47)"/><use href="#ar" transform="translate(218.5 232.7) rotate(60)"/><use href="#ar" transform="translate(226 232.7) rotate(165)"/><use href="#ar" transform="translate(233.5 232.7) rotate(244)"/><use href="#ar" transform="translate(241.1 232.7) rotate(305)"/><use href="#ar" transform="translate(248.6 232.7) rotate(247)"/><use href="#ar" transform="translate(256.1 232.7) rotate(270)"/><use href="#ar" transform="translate(263.6 232.7) rotate(183)"/><use href="#ar" transform="translate(271.2 232.7) rotate(241)"/><use href="#ar" transform="translate(52.8 238) rotate(252)"/><use href="#ar" transform="translate(60.3 238) rotate(344)"/><use href="#ar" transform="translate(67.9 238) rotate(15)"/><use href="#ar" transform="translate(75.4 238) rotate(335)"/><use href="#ar" transform="translate(82.9 238) rotate(266)"/><use href="#ar" transform="translate(90.4 238) rotate(253)"/><use href="#ar" transform="translate(98 238) rotate(190)"/><use href="#ar" transform="translate(105.5 238) rotate(177)"/><use href="#ar" transform="translate(113 238) rotate(206)"/><use href="#ar" transform="translate(120.6 238) rotate(135)"/><use href="#ar" transform="translate(128.1 238) rotate(158)"/><use href="#ar" transform="translate(135.6 238) rotate(185)"/><use href="#ar" transform="translate(143.2 238) rotate(236)"/><use href="#ar" transform="translate(150.7 238) rotate(293)"/><use href="#ar" transform="translate(158.2 238) rotate(207)"/><use href="#ar" transform="translate(165.8 238) rotate(196)"/><use href="#ar" transform="translate(173.3 238) rotate(214)"/><use href="#ar" transform="translate(180.8 238) rotate(59)"/><use href="#ar" transform="translate(188.3 238) rotate(6)"/><use href="#ar" transform="translate(195.9 238) rotate(347)"/><use href="#ar" transform="translate(203.4 238) rotate(98)"/><use href="#ar" transform="translate(210.9 238) rotate(44)"/><use href="#ar" transform="translate(218.5 238) rotate(134)"/><use href="#ar" transform="translate(226 238) rotate(230)"/><use href="#ar" transform="translate(233.5 238) rotate(240)"/><use href="#ar" transform="translate(241.1 238) rotate(261)"/><use href="#ar" transform="translate(248.6 238) rotate(263)"/><use href="#ar" transform="translate(256.1 238) rotate(152)"/><use href="#ar" transform="translate(263.6 238) rotate(200)"/><use href="#ar" transform="translate(271.2 238) rotate(173)"/><use href="#ar" transform="translate(52.8 243.3) rotate(13)"/><use href="#ar" transform="translate(60.3 243.3) rotate(325)"/><use href="#ar" transform="translate(67.9 243.3) rotate(332)"/><use href="#ar" transform="translate(75.4 243.3) rotate(237)"/><use href="#ar" transform="translate(82.9 243.3) rotate(235)"/><use href="#ar" transform="translate(90.4 243.3) rotate(135)"/><use href="#ar" transform="translate(98 243.3) rotate(163)"/><use href="#ar" transform="translate(105.5 243.3) rotate(81)"/><use href="#ar" transform="translate(113 243.3) rotate(168)"/><use href="#ar" transform="translate(120.6 243.3) rotate(112)"/><use href="#ar" transform="translate(128.1 243.3) rotate(137)"/><use href="#ar" transform="translate(135.6 243.3) rotate(198)"/><use href="#ar" transform="translate(143.2 243.3) rotate(278)"/><use href="#ar" transform="translate(150.7 243.3) rotate(217)"/><use href="#ar" transform="translate(158.2 243.3) rotate(272)"/><use href="#ar" transform="translate(165.8 243.3) rotate(196)"/><use href="#ar" transform="translate(173.3 243.3) rotate(80)"/><use href="#ar" transform="translate(180.8 243.3) rotate(120)"/><use href="#ar" transform="translate(188.3 243.3) rotate(14)"/><use href="#ar" transform="translate(195.9 243.3) rotate(103)"/><use href="#ar" transform="translate(203.4 243.3) rotate(101)"/><use href="#ar" transform="translate(210.9 243.3) rotate(151)"/><use href="#ar" transform="translate(218.5 243.3) rotate(243)"/><use href="#ar" transform="translate(226 243.3) rotate(231)"/><use href="#ar" transform="translate(233.5 243.3) rotate(229)"/><use href="#ar" transform="translate(241.1 243.3) rotate(214)"/><use href="#ar" transform="translate(248.6 243.3) rotate(239)"/><use href="#ar" transform="translate(256.1 243.3) rotate(227)"/><use href="#ar" transform="translate(263.6 243.3) rotate(162)"/><use href="#ar" transform="translate(271.2 243.3) rotate(163)"/><use href="#ar" transform="translate(52.8 248.7) rotate(13)"/><use href="#ar" transform="translate(60.3 248.7) rotate(348)"/><use href="#ar" transform="translate(67.9 248.7) rotate(261)"/><use href="#ar" transform="translate(75.4 248.7) rotate(287)"/><use href="#ar" transform="translate(82.9 248.7) rotate(152)"/><use href="#ar" transform="translate(90.4 248.7) rotate(138)"/><use href="#ar" transform="translate(98 248.7) rotate(134)"/><use href="#ar" transform="translate(105.5 248.7) rotate(102)"/><use href="#ar" transform="translate(113 248.7) rotate(174)"/><use href="#ar" transform="translate(120.6 248.7) rotate(123)"/><use href="#ar" transform="translate(128.1 248.7) rotate(191)"/><use href="#ar" transform="translate(135.6 248.7) rotate(254)"/><use href="#ar" transform="translate(143.2 248.7) rotate(239)"/><use href="#ar" transform="translate(150.7 248.7) rotate(190)"/><use href="#ar" transform="translate(158.2 248.7) rotate(235)"/><use href="#ar" transform="translate(165.8 248.7) rotate(206)"/><use href="#ar" transform="translate(173.3 248.7) rotate(126)"/><use href="#ar" transform="translate(180.8 248.7) rotate(146)"/><use href="#ar" transform="translate(188.3 248.7) rotate(141)"/><use href="#ar" transform="translate(195.9 248.7) rotate(74)"/><use href="#ar" transform="translate(203.4 248.7) rotate(60)"/><use href="#ar" transform="translate(210.9 248.7) rotate(122)"/><use href="#ar" transform="translate(218.5 248.7) rotate(265)"/><use href="#ar" transform="translate(226 248.7) rotate(255)"/><use href="#ar" transform="translate(233.5 248.7) rotate(168)"/><use href="#ar" transform="translate(241.1 248.7) rotate(263)"/><use href="#ar" transform="translate(248.6 248.7) rotate(256)"/><use href="#ar" transform="translate(256.1 248.7) rotate(210)"/><use href="#ar" transform="translate(263.6 248.7) rotate(204)"/><use href="#ar" transform="translate(271.2 248.7) rotate(206)"/><use href="#ar" transform="translate(52.8 254) rotate(318)"/><use href="#ar" transform="translate(60.3 254) rotate(357)"/><use href="#ar" transform="translate(67.9 254) rotate(234)"/><use href="#ar" transform="translate(75.4 254) rotate(259)"/><use href="#ar" transform="translate(82.9 254) rotate(194)"/><use href="#ar" transform="translate(90.4 254) rotate(162)"/><use href="#ar" transform="translate(98 254) rotate(139)"/><use href="#ar" transform="translate(105.5 254) rotate(162)"/><use href="#ar" transform="translate(113 254) rotate(63)"/><use href="#ar" transform="translate(120.6 254) rotate(200)"/><use href="#ar" transform="translate(128.1 254) rotate(247)"/><use href="#ar" transform="translate(135.6 254) rotate(210)"/><use href="#ar" transform="translate(143.2 254) rotate(206)"/><use href="#ar" transform="translate(150.7 254) rotate(155)"/><use href="#ar" transform="translate(158.2 254) rotate(144)"/><use href="#ar" transform="translate(165.8 254) rotate(87)"/><use href="#ar" transform="translate(173.3 254) rotate(123)"/><use href="#ar" transform="translate(180.8 254) rotate(60)"/><use href="#ar" transform="translate(188.3 254) rotate(48)"/><use href="#ar" transform="translate(195.9 254) rotate(181)"/><use href="#ar" transform="translate(203.4 254) rotate(91)"/><use href="#ar" transform="translate(210.9 254) rotate(205)"/><use href="#ar" transform="translate(218.5 254) rotate(149)"/><use href="#ar" transform="translate(226 254) rotate(245)"/><use href="#ar" transform="translate(233.5 254) rotate(191)"/><use href="#ar" transform="translate(241.1 254) rotate(146)"/><use href="#ar" transform="translate(248.6 254) rotate(133)"/><use href="#ar" transform="translate(256.1 254) rotate(123)"/><use href="#ar" transform="translate(263.6 254) rotate(191)"/><use href="#ar" transform="translate(271.2 254) rotate(215)"/><use href="#ar" transform="translate(52.8 259.3) rotate(358)"/><use href="#ar" transform="translate(60.3 259.3) rotate(347)"/><use href="#ar" transform="translate(67.9 259.3) rotate(266)"/><use href="#ar" transform="translate(75.4 259.3) rotate(171)"/><use href="#ar" transform="translate(82.9 259.3) rotate(57)"/><use href="#ar" transform="translate(90.4 259.3) rotate(97)"/><use href="#ar" transform="translate(98 259.3) rotate(135)"/><use href="#ar" transform="translate(105.5 259.3) rotate(157)"/><use href="#ar" transform="translate(113 259.3) rotate(115)"/><use href="#ar" transform="translate(120.6 259.3) rotate(189)"/><use href="#ar" transform="translate(128.1 259.3) rotate(265)"/><use href="#ar" transform="translate(135.6 259.3) rotate(171)"/><use href="#ar" transform="translate(143.2 259.3) rotate(192)"/><use href="#ar" transform="translate(150.7 259.3) rotate(156)"/><use href="#ar" transform="translate(158.2 259.3) rotate(171)"/><use href="#ar" transform="translate(165.8 259.3) rotate(68)"/><use href="#ar" transform="translate(173.3 259.3) rotate(31)"/><use href="#ar" transform="translate(180.8 259.3) rotate(129)"/><use href="#ar" transform="translate(188.3 259.3) rotate(73)"/><use href="#ar" transform="translate(195.9 259.3) rotate(138)"/><use href="#ar" transform="translate(203.4 259.3) rotate(165)"/><use href="#ar" transform="translate(210.9 259.3) rotate(211)"/><use href="#ar" transform="translate(218.5 259.3) rotate(190)"/><use href="#ar" transform="translate(226 259.3) rotate(187)"/><use href="#ar" transform="translate(233.5 259.3) rotate(263)"/><use href="#ar" transform="translate(241.1 259.3) rotate(192)"/><use href="#ar" transform="translate(248.6 259.3) rotate(162)"/><use href="#ar" transform="translate(256.1 259.3) rotate(158)"/><use href="#ar" transform="translate(263.6 259.3) rotate(253)"/><use href="#ar" transform="translate(271.2 259.3) rotate(228)"/><use href="#ar" transform="translate(52.8 264.6) rotate(327)"/><use href="#ar" transform="translate(60.3 264.6) rotate(306)"/><use href="#ar" transform="translate(67.9 264.6) rotate(132)"/><use href="#ar" transform="translate(75.4 264.6) rotate(165)"/><use href="#ar" transform="translate(82.9 264.6) rotate(69)"/><use href="#ar" transform="translate(90.4 264.6) rotate(9)"/><use href="#ar" transform="translate(98 264.6) rotate(110)"/><use href="#ar" transform="translate(105.5 264.6) rotate(69)"/><use href="#ar" transform="translate(113 264.6) rotate(94)"/><use href="#ar" transform="translate(120.6 264.6) rotate(185)"/><use href="#ar" transform="translate(128.1 264.6) rotate(176)"/><use href="#ar" transform="translate(135.6 264.6) rotate(223)"/><use href="#ar" transform="translate(143.2 264.6) rotate(230)"/><use href="#ar" transform="translate(150.7 264.6) rotate(179)"/><use href="#ar" transform="translate(158.2 264.6) rotate(204)"/><use href="#ar" transform="translate(165.8 264.6) rotate(70)"/><use href="#ar" transform="translate(173.3 264.6) rotate(120)"/><use href="#ar" transform="translate(180.8 264.6) rotate(64)"/><use href="#ar" transform="translate(188.3 264.6) rotate(79)"/><use href="#ar" transform="translate(195.9 264.6) rotate(88)"/><use href="#ar" transform="translate(203.4 264.6) rotate(112)"/><use href="#ar" transform="translate(210.9 264.6) rotate(144)"/><use href="#ar" transform="translate(218.5 264.6) rotate(186)"/><use href="#ar" transform="translate(226 264.6) rotate(234)"/><use href="#ar" transform="translate(233.5 264.6) rotate(210)"/><use href="#ar" transform="translate(241.1 264.6) rotate(230)"/><use href="#ar" transform="translate(248.6 264.6) rotate(237)"/><use href="#ar" transform="translate(256.1 264.6) rotate(172)"/><use href="#ar" transform="translate(263.6 264.6) rotate(226)"/><use href="#ar" transform="translate(271.2 264.6) rotate(286)"/><use href="#ar" transform="translate(52.8 270) rotate(313)"/><use href="#ar" transform="translate(60.3 270) rotate(233)"/><use href="#ar" transform="translate(67.9 270) rotate(147)"/><use href="#ar" transform="translate(75.4 270) rotate(105)"/><use href="#ar" transform="translate(82.9 270) rotate(34)"/><use href="#ar" transform="translate(90.4 270) rotate(111)"/><use href="#ar" transform="translate(98 270) rotate(104)"/><use href="#ar" transform="translate(105.5 270) rotate(135)"/><use href="#ar" transform="translate(113 270) rotate(192)"/><use href="#ar" transform="translate(120.6 270) rotate(195)"/><use href="#ar" transform="translate(128.1 270) rotate(302)"/><use href="#ar" transform="translate(135.6 270) rotate(290)"/><use href="#ar" transform="translate(143.2 270) rotate(195)"/><use href="#ar" transform="translate(150.7 270) rotate(139)"/><use href="#ar" transform="translate(158.2 270) rotate(194)"/><use href="#ar" transform="translate(165.8 270) rotate(78)"/><use href="#ar" transform="translate(173.3 270) rotate(44)"/><use href="#ar" transform="translate(180.8 270) rotate(172)"/><use href="#ar" transform="translate(188.3 270) rotate(159)"/><use href="#ar" transform="translate(195.9 270) rotate(105)"/><use href="#ar" transform="translate(203.4 270) rotate(203)"/><use href="#ar" transform="translate(210.9 270) rotate(139)"/><use href="#ar" transform="translate(218.5 270) rotate(173)"/><use href="#ar" transform="translate(226 270) rotate(206)"/><use href="#ar" transform="translate(233.5 270) rotate(271)"/><use href="#ar" transform="translate(241.1 270) rotate(220)"/><use href="#ar" transform="translate(248.6 270) rotate(233)"/><use href="#ar" transform="translate(256.1 270) rotate(190)"/><use href="#ar" transform="translate(263.6 270) rotate(290)"/><use href="#ar" transform="translate(271.2 270) rotate(318)"/><use href="#ar" transform="translate(52.8 275.3) rotate(204)"/><use href="#ar" transform="translate(60.3 275.3) rotate(178)"/><use href="#ar" transform="translate(67.9 275.3) rotate(128)"/><use href="#ar" transform="translate(75.4 275.3) rotate(14)"/><use href="#ar" transform="translate(82.9 275.3) rotate(350)"/><use href="#ar" transform="translate(90.4 275.3) rotate(124)"/><use href="#ar" transform="translate(98 275.3) rotate(82)"/><use href="#ar" transform="translate(105.5 275.3) rotate(153)"/><use href="#ar" transform="translate(113 275.3) rotate(242)"/><use href="#ar" transform="translate(120.6 275.3) rotate(280)"/><use href="#ar" transform="translate(128.1 275.3) rotate(255)"/><use href="#ar" transform="translate(135.6 275.3) rotate(228)"/><use href="#ar" transform="translate(143.2 275.3) rotate(203)"/><use href="#ar" transform="translate(150.7 275.3) rotate(169)"/><use href="#ar" transform="translate(158.2 275.3) rotate(139)"/><use href="#ar" transform="translate(165.8 275.3) rotate(171)"/><use href="#ar" transform="translate(173.3 275.3) rotate(138)"/><use href="#ar" transform="translate(180.8 275.3) rotate(182)"/><use href="#ar" transform="translate(188.3 275.3) rotate(104)"/><use href="#ar" transform="translate(195.9 275.3) rotate(191)"/><use href="#ar" transform="translate(203.4 275.3) rotate(215)"/><use href="#ar" transform="translate(210.9 275.3) rotate(278)"/><use href="#ar" transform="translate(218.5 275.3) rotate(208)"/><use href="#ar" transform="translate(226 275.3) rotate(266)"/><use href="#ar" transform="translate(233.5 275.3) rotate(217)"/><use href="#ar" transform="translate(241.1 275.3) rotate(199)"/><use href="#ar" transform="translate(248.6 275.3) rotate(290)"/><use href="#ar" transform="translate(256.1 275.3) rotate(322)"/><use href="#ar" transform="translate(263.6 275.3) rotate(289)"/><use href="#ar" transform="translate(271.2 275.3) rotate(337)"/><use href="#ar" transform="translate(52.8 280.6) rotate(217)"/><use href="#ar" transform="translate(60.3 280.6) rotate(143)"/><use href="#ar" transform="translate(67.9 280.6) rotate(347)"/><use href="#ar" transform="translate(75.4 280.6) rotate(12)"/><use href="#ar" transform="translate(82.9 280.6) rotate(355)"/><use href="#ar" transform="translate(90.4 280.6) rotate(125)"/><use href="#ar" transform="translate(98 280.6) rotate(188)"/><use href="#ar" transform="translate(105.5 280.6) rotate(245)"/><use href="#ar" transform="translate(113 280.6) rotate(302)"/><use href="#ar" transform="translate(120.6 280.6) rotate(219)"/><use href="#ar" transform="translate(128.1 280.6) rotate(169)"/><use href="#ar" transform="translate(135.6 280.6) rotate(152)"/><use href="#ar" transform="translate(143.2 280.6) rotate(214)"/><use href="#ar" transform="translate(150.7 280.6) rotate(176)"/><use href="#ar" transform="translate(158.2 280.6) rotate(57)"/><use href="#ar" transform="translate(165.8 280.6) rotate(157)"/><use href="#ar" transform="translate(173.3 280.6) rotate(163)"/><use href="#ar" transform="translate(180.8 280.6) rotate(188)"/><use href="#ar" transform="translate(188.3 280.6) rotate(205)"/><use href="#ar" transform="translate(195.9 280.6) rotate(180)"/><use href="#ar" transform="translate(203.4 280.6) rotate(154)"/><use href="#ar" transform="translate(210.9 280.6) rotate(188)"/><use href="#ar" transform="translate(218.5 280.6) rotate(269)"/><use href="#ar" transform="translate(226 280.6) rotate(226)"/><use href="#ar" transform="translate(233.5 280.6) rotate(305)"/><use href="#ar" transform="translate(241.1 280.6) rotate(265)"/><use href="#ar" transform="translate(248.6 280.6) rotate(204)"/><use href="#ar" transform="translate(256.1 280.6) rotate(240)"/><use href="#ar" transform="translate(263.6 280.6) rotate(250)"/><use href="#ar" transform="translate(271.2 280.6) rotate(214)"/><use href="#ar" transform="translate(52.8 286) rotate(66)"/><use href="#ar" transform="translate(60.3 286) rotate(58)"/><use href="#ar" transform="translate(67.9 286) rotate(27)"/><use href="#ar" transform="translate(75.4 286) rotate(47)"/><use href="#ar" transform="translate(82.9 286) rotate(11)"/><use href="#ar" transform="translate(90.4 286) rotate(91)"/><use href="#ar" transform="translate(98 286) rotate(232)"/><use href="#ar" transform="translate(105.5 286) rotate(259)"/><use href="#ar" transform="translate(113 286) rotate(245)"/><use href="#ar" transform="translate(120.6 286) rotate(241)"/><use href="#ar" transform="translate(128.1 286) rotate(255)"/><use href="#ar" transform="translate(135.6 286) rotate(211)"/><use href="#ar" transform="translate(143.2 286) rotate(175)"/><use href="#ar" transform="translate(150.7 286) rotate(179)"/><use href="#ar" transform="translate(158.2 286) rotate(119)"/><use href="#ar" transform="translate(165.8 286) rotate(37)"/><use href="#ar" transform="translate(173.3 286) rotate(66)"/><use href="#ar" transform="translate(180.8 286) rotate(93)"/><use href="#ar" transform="translate(188.3 286) rotate(149)"/><use href="#ar" transform="translate(195.9 286) rotate(275)"/><use href="#ar" transform="translate(203.4 286) rotate(210)"/><use href="#ar" transform="translate(210.9 286) rotate(212)"/><use href="#ar" transform="translate(218.5 286) rotate(198)"/><use href="#ar" transform="translate(226 286) rotate(187)"/><use href="#ar" transform="translate(233.5 286) rotate(297)"/><use href="#ar" transform="translate(241.1 286) rotate(265)"/><use href="#ar" transform="translate(248.6 286) rotate(285)"/><use href="#ar" transform="translate(256.1 286) rotate(302)"/><use href="#ar" transform="translate(263.6 286) rotate(185)"/><use href="#ar" transform="translate(271.2 286) rotate(185)"/><use href="#ar" transform="translate(52.8 291.3) rotate(5)"/><use href="#ar" transform="translate(60.3 291.3) rotate(51)"/><use href="#ar" transform="translate(67.9 291.3) rotate(21)"/><use href="#ar" transform="translate(75.4 291.3) rotate(78)"/><use href="#ar" transform="translate(82.9 291.3) rotate(83)"/><use href="#ar" transform="translate(90.4 291.3) rotate(101)"/><use href="#ar" transform="translate(98 291.3) rotate(175)"/><use href="#ar" transform="translate(105.5 291.3) rotate(270)"/><use href="#ar" transform="translate(113 291.3) rotate(225)"/><use href="#ar" transform="translate(120.6 291.3) rotate(191)"/><use href="#ar" transform="translate(128.1 291.3) rotate(158)"/><use href="#ar" transform="translate(135.6 291.3) rotate(143)"/><use href="#ar" transform="translate(143.2 291.3) rotate(169)"/><use href="#ar" transform="translate(150.7 291.3) rotate(161)"/><use href="#ar" transform="translate(158.2 291.3) rotate(77)"/><use href="#ar" transform="translate(165.8 291.3) rotate(116)"/><use href="#ar" transform="translate(173.3 291.3) rotate(116)"/><use href="#ar" transform="translate(180.8 291.3) rotate(228)"/><use href="#ar" transform="translate(188.3 291.3) rotate(242)"/><use href="#ar" transform="translate(195.9 291.3) rotate(244)"/><use href="#ar" transform="translate(203.4 291.3) rotate(199)"/><use href="#ar" transform="translate(210.9 291.3) rotate(241)"/><use href="#ar" transform="translate(218.5 291.3) rotate(241)"/><use href="#ar" transform="translate(226 291.3) rotate(219)"/><use href="#ar" transform="translate(233.5 291.3) rotate(214)"/><use href="#ar" transform="translate(241.1 291.3) rotate(337)"/><use href="#ar" transform="translate(248.6 291.3) rotate(257)"/><use href="#ar" transform="translate(256.1 291.3) rotate(219)"/><use href="#ar" transform="translate(263.6 291.3) rotate(163)"/><use href="#ar" transform="translate(271.2 291.3) rotate(223)"/><use href="#ar" transform="translate(52.8 296.6) rotate(74)"/><use href="#ar" transform="translate(60.3 296.6) rotate(328)"/><use href="#ar" transform="translate(67.9 296.6) rotate(67)"/><use href="#ar" transform="translate(75.4 296.6) rotate(108)"/><use href="#ar" transform="translate(82.9 296.6) rotate(158)"/><use href="#ar" transform="translate(90.4 296.6) rotate(149)"/><use href="#ar" transform="translate(98 296.6) rotate(225)"/><use href="#ar" transform="translate(105.5 296.6) rotate(316)"/><use href="#ar" transform="translate(113 296.6) rotate(282)"/><use href="#ar" transform="translate(120.6 296.6) rotate(143)"/><use href="#ar" transform="translate(128.1 296.6) rotate(109)"/><use href="#ar" transform="translate(135.6 296.6) rotate(74)"/><use href="#ar" transform="translate(143.2 296.6) rotate(75)"/><use href="#ar" transform="translate(150.7 296.6) rotate(145)"/><use href="#ar" transform="translate(158.2 296.6) rotate(94)"/><use href="#ar" transform="translate(165.8 296.6) rotate(197)"/><use href="#ar" transform="translate(173.3 296.6) rotate(188)"/><use href="#ar" transform="translate(180.8 296.6) rotate(213)"/><use href="#ar" transform="translate(188.3 296.6) rotate(236)"/><use href="#ar" transform="translate(195.9 296.6) rotate(258)"/><use href="#ar" transform="translate(203.4 296.6) rotate(207)"/><use href="#ar" transform="translate(210.9 296.6) rotate(229)"/><use href="#ar" transform="translate(218.5 296.6) rotate(205)"/><use href="#ar" transform="translate(226 296.6) rotate(251)"/><use href="#ar" transform="translate(233.5 296.6) rotate(261)"/><use href="#ar" transform="translate(241.1 296.6) rotate(326)"/><use href="#ar" transform="translate(248.6 296.6) rotate(177)"/><use href="#ar" transform="translate(256.1 296.6) rotate(258)"/><use href="#ar" transform="translate(263.6 296.6) rotate(171)"/><use href="#ar" transform="translate(271.2 296.6) rotate(46)"/><use href="#ar" transform="translate(52.8 301.9) rotate(43)"/><use href="#ar" transform="translate(60.3 301.9) rotate(70)"/><use href="#ar" transform="translate(67.9 301.9) rotate(116)"/><use href="#ar" transform="translate(75.4 301.9) rotate(154)"/><use href="#ar" transform="translate(82.9 301.9) rotate(172)"/><use href="#ar" transform="translate(90.4 301.9) rotate(179)"/><use href="#ar" transform="translate(98 301.9) rotate(227)"/><use href="#ar" transform="translate(105.5 301.9) rotate(250)"/><use href="#ar" transform="translate(113 301.9) rotate(292)"/><use href="#ar" transform="translate(120.6 301.9) rotate(141)"/><use href="#ar" transform="translate(128.1 301.9) rotate(115)"/><use href="#ar" transform="translate(135.6 301.9) rotate(53)"/><use href="#ar" transform="translate(143.2 301.9) rotate(142)"/><use href="#ar" transform="translate(150.7 301.9) rotate(93)"/><use href="#ar" transform="translate(158.2 301.9) rotate(121)"/><use href="#ar" transform="translate(165.8 301.9) rotate(188)"/><use href="#ar" transform="translate(173.3 301.9) rotate(231)"/><use href="#ar" transform="translate(180.8 301.9) rotate(161)"/><use href="#ar" transform="translate(188.3 301.9) rotate(234)"/><use href="#ar" transform="translate(195.9 301.9) rotate(245)"/><use href="#ar" transform="translate(203.4 301.9) rotate(202)"/><use href="#ar" transform="translate(210.9 301.9) rotate(279)"/><use href="#ar" transform="translate(218.5 301.9) rotate(290)"/><use href="#ar" transform="translate(226 301.9) rotate(199)"/><use href="#ar" transform="translate(233.5 301.9) rotate(297)"/><use href="#ar" transform="translate(241.1 301.9) rotate(176)"/><use href="#ar" transform="translate(248.6 301.9) rotate(147)"/><use href="#ar" transform="translate(256.1 301.9) rotate(208)"/><use href="#ar" transform="translate(263.6 301.9) rotate(61)"/><use href="#ar" transform="translate(271.2 301.9) rotate(119)"/><use href="#ar" transform="translate(52.8 307.3) rotate(77)"/><use href="#ar" transform="translate(60.3 307.3) rotate(116)"/><use href="#ar" transform="translate(67.9 307.3) rotate(178)"/><use href="#ar" transform="translate(75.4 307.3) rotate(127)"/><use href="#ar" transform="translate(82.9 307.3) rotate(254)"/><use href="#ar" transform="translate(90.4 307.3) rotate(203)"/><use href="#ar" transform="translate(98 307.3) rotate(246)"/><use href="#ar" transform="translate(105.5 307.3) rotate(189)"/><use href="#ar" transform="translate(113 307.3) rotate(217)"/><use href="#ar" transform="translate(120.6 307.3) rotate(192)"/><use href="#ar" transform="translate(128.1 307.3) rotate(95)"/><use href="#ar" transform="translate(135.6 307.3) rotate(44)"/><use href="#ar" transform="translate(143.2 307.3) rotate(82)"/><use href="#ar" transform="translate(150.7 307.3) rotate(104)"/><use href="#ar" transform="translate(158.2 307.3) rotate(145)"/><use href="#ar" transform="translate(165.8 307.3) rotate(175)"/><use href="#ar" transform="translate(173.3 307.3) rotate(230)"/><use href="#ar" transform="translate(180.8 307.3) rotate(244)"/><use href="#ar" transform="translate(188.3 307.3) rotate(306)"/><use href="#ar" transform="translate(195.9 307.3) rotate(285)"/><use href="#ar" transform="translate(203.4 307.3) rotate(307)"/><use href="#ar" transform="translate(210.9 307.3) rotate(250)"/><use href="#ar" transform="translate(218.5 307.3) rotate(222)"/><use href="#ar" transform="translate(226 307.3) rotate(208)"/><use href="#ar" transform="translate(233.5 307.3) rotate(180)"/><use href="#ar" transform="translate(241.1 307.3) rotate(250)"/><use href="#ar" transform="translate(248.6 307.3) rotate(219)"/><use href="#ar" transform="translate(256.1 307.3) rotate(162)"/><use href="#ar" transform="translate(263.6 307.3) rotate(31)"/><use href="#ar" transform="translate(271.2 307.3) rotate(46)"/><use href="#ar" transform="translate(52.8 312.6) rotate(127)"/><use href="#ar" transform="translate(60.3 312.6) rotate(173)"/><use href="#ar" transform="translate(67.9 312.6) rotate(184)"/><use href="#ar" transform="translate(75.4 312.6) rotate(144)"/><use href="#ar" transform="translate(82.9 312.6) rotate(283)"/><use href="#ar" transform="translate(90.4 312.6) rotate(183)"/><use href="#ar" transform="translate(98 312.6) rotate(238)"/><use href="#ar" transform="translate(105.5 312.6) rotate(252)"/><use href="#ar" transform="translate(113 312.6) rotate(137)"/><use href="#ar" transform="translate(120.6 312.6) rotate(104)"/><use href="#ar" transform="translate(128.1 312.6) rotate(178)"/><use href="#ar" transform="translate(135.6 312.6) rotate(81)"/><use href="#ar" transform="translate(143.2 312.6) rotate(139)"/><use href="#ar" transform="translate(150.7 312.6) rotate(179)"/><use href="#ar" transform="translate(158.2 312.6) rotate(183)"/><use href="#ar" transform="translate(165.8 312.6) rotate(165)"/><use href="#ar" transform="translate(173.3 312.6) rotate(189)"/><use href="#ar" transform="translate(180.8 312.6) rotate(221)"/><use href="#ar" transform="translate(188.3 312.6) rotate(289)"/><use href="#ar" transform="translate(195.9 312.6) rotate(213)"/><use href="#ar" transform="translate(203.4 312.6) rotate(257)"/><use href="#ar" transform="translate(210.9 312.6) rotate(254)"/><use href="#ar" transform="translate(218.5 312.6) rotate(209)"/><use href="#ar" transform="translate(226 312.6) rotate(262)"/><use href="#ar" transform="translate(233.5 312.6) rotate(167)"/><use href="#ar" transform="translate(241.1 312.6) rotate(186)"/><use href="#ar" transform="translate(248.6 312.6) rotate(124)"/><use href="#ar" transform="translate(256.1 312.6) rotate(114)"/><use href="#ar" transform="translate(263.6 312.6) rotate(353)"/><use href="#ar" transform="translate(271.2 312.6) rotate(27)"/><use href="#ar" transform="translate(52.8 317.9) rotate(64)"/><use href="#ar" transform="translate(60.3 317.9) rotate(176)"/><use href="#ar" transform="translate(67.9 317.9) rotate(129)"/><use href="#ar" transform="translate(75.4 317.9) rotate(222)"/><use href="#ar" transform="translate(82.9 317.9) rotate(226)"/><use href="#ar" transform="translate(90.4 317.9) rotate(270)"/><use href="#ar" transform="translate(98 317.9) rotate(162)"/><use href="#ar" transform="translate(105.5 317.9) rotate(148)"/><use href="#ar" transform="translate(113 317.9) rotate(192)"/><use href="#ar" transform="translate(120.6 317.9) rotate(68)"/><use href="#ar" transform="translate(128.1 317.9) rotate(128)"/><use href="#ar" transform="translate(135.6 317.9) rotate(201)"/><use href="#ar" transform="translate(143.2 317.9) rotate(176)"/><use href="#ar" transform="translate(150.7 317.9) rotate(246)"/><use href="#ar" transform="translate(158.2 317.9) rotate(200)"/><use href="#ar" transform="translate(165.8 317.9) rotate(277)"/><use href="#ar" transform="translate(173.3 317.9) rotate(239)"/><use href="#ar" transform="translate(180.8 317.9) rotate(226)"/><use href="#ar" transform="translate(188.3 317.9) rotate(248)"/><use href="#ar" transform="translate(195.9 317.9) rotate(285)"/><use href="#ar" transform="translate(203.4 317.9) rotate(253)"/><use href="#ar" transform="translate(210.9 317.9) rotate(283)"/><use href="#ar" transform="translate(218.5 317.9) rotate(163)"/><use href="#ar" transform="translate(226 317.9) rotate(151)"/><use href="#ar" transform="translate(233.5 317.9) rotate(205)"/><use href="#ar" transform="translate(241.1 317.9) rotate(127)"/><use href="#ar" transform="translate(248.6 317.9) rotate(138)"/><use href="#ar" transform="translate(256.1 317.9) rotate(333)"/><use href="#ar" transform="translate(263.6 317.9) rotate(28)"/><use href="#ar" transform="translate(271.2 317.9) rotate(69)"/><use href="#ar" transform="translate(52.8 323.3) rotate(188)"/><use href="#ar" transform="translate(60.3 323.3) rotate(179)"/><use href="#ar" transform="translate(67.9 323.3) rotate(188)"/><use href="#ar" transform="translate(75.4 323.3) rotate(186)"/><use href="#ar" transform="translate(82.9 323.3) rotate(188)"/><use href="#ar" transform="translate(90.4 323.3) rotate(188)"/><use href="#ar" transform="translate(98 323.3) rotate(178)"/><use href="#ar" transform="translate(105.5 323.3) rotate(176)"/><use href="#ar" transform="translate(113 323.3) rotate(170)"/><use href="#ar" transform="translate(120.6 323.3) rotate(170)"/><use href="#ar" transform="translate(128.1 323.3) rotate(175)"/><use href="#ar" transform="translate(135.6 323.3) rotate(174)"/><use href="#ar" transform="translate(143.2 323.3) rotate(180)"/><use href="#ar" transform="translate(150.7 323.3) rotate(190)"/><use href="#ar" transform="translate(158.2 323.3) rotate(194)"/><use href="#ar" transform="translate(165.8 323.3) rotate(194)"/><use href="#ar" transform="translate(173.3 323.3) rotate(196)"/><use href="#ar" transform="translate(180.8 323.3) rotate(197)"/><use href="#ar" transform="translate(188.3 323.3) rotate(193)"/><use href="#ar" transform="translate(195.9 323.3) rotate(192)"/><use href="#ar" transform="translate(203.4 323.3) rotate(190)"/><use href="#ar" transform="translate(210.9 323.3) rotate(189)"/><use href="#ar" transform="translate(218.5 323.3) rotate(180)"/><use href="#ar" transform="translate(226 323.3) rotate(180)"/><use href="#ar" transform="translate(233.5 323.3) rotate(169)"/><use href="#ar" transform="translate(241.1 323.3) rotate(161)"/><use href="#ar" transform="translate(248.6 323.3) rotate(156)"/><use href="#ar" transform="translate(256.1 323.3) rotate(148)"/><use href="#ar" transform="translate(263.6 323.3) rotate(151)"/><use href="#ar" transform="translate(271.2 323.3) rotate(142)"/><use href="#ar" transform="translate(52.8 328.6) rotate(179)"/><use href="#ar" transform="translate(60.3 328.6) rotate(199)"/><use href="#ar" transform="translate(67.9 328.6) rotate(191)"/><use href="#ar" transform="translate(75.4 328.6) rotate(191)"/><use href="#ar" transform="translate(82.9 328.6) rotate(185)"/><use href="#ar" transform="translate(90.4 328.6) rotate(180)"/><use href="#ar" transform="translate(98 328.6) rotate(182)"/><use href="#ar" transform="translate(105.5 328.6) rotate(174)"/><use href="#ar" transform="translate(113 328.6) rotate(175)"/><use href="#ar" transform="translate(120.6 328.6) rotate(172)"/><use href="#ar" transform="translate(128.1 328.6) rotate(180)"/><use href="#ar" transform="translate(135.6 328.6) rotate(185)"/><use href="#ar" transform="translate(143.2 328.6) rotate(185)"/><use href="#ar" transform="translate(150.7 328.6) rotate(192)"/><use href="#ar" transform="translate(158.2 328.6) rotate(196)"/><use href="#ar" transform="translate(165.8 328.6) rotate(191)"/><use href="#ar" transform="translate(173.3 328.6) rotate(191)"/><use href="#ar" transform="translate(180.8 328.6) rotate(189)"/><use href="#ar" transform="translate(188.3 328.6) rotate(189)"/><use href="#ar" transform="translate(195.9 328.6) rotate(186)"/><use href="#ar" transform="translate(203.4 328.6) rotate(185)"/><use href="#ar" transform="translate(210.9 328.6) rotate(180)"/><use href="#ar" transform="translate(218.5 328.6) rotate(174)"/><use href="#ar" transform="translate(226 328.6) rotate(174)"/><use href="#ar" transform="translate(233.5 328.6) rotate(164)"/><use href="#ar" transform="translate(241.1 328.6) rotate(156)"/><use href="#ar" transform="translate(248.6 328.6) rotate(152)"/><use href="#ar" transform="translate(256.1 328.6) rotate(153)"/><use href="#ar" transform="translate(263.6 328.6) rotate(130)"/><use href="#ar" transform="translate(271.2 328.6) rotate(163)"/><use href="#ar" transform="translate(52.8 333.9) rotate(210)"/><use href="#ar" transform="translate(60.3 333.9) rotate(215)"/><use href="#ar" transform="translate(67.9 333.9) rotate(186)"/><use href="#ar" transform="translate(75.4 333.9) rotate(189)"/><use href="#ar" transform="translate(82.9 333.9) rotate(182)"/><use href="#ar" transform="translate(90.4 333.9) rotate(182)"/><use href="#ar" transform="translate(98 333.9) rotate(177)"/><use href="#ar" transform="translate(105.5 333.9) rotate(172)"/><use href="#ar" transform="translate(113 333.9) rotate(172)"/><use href="#ar" transform="translate(120.6 333.9) rotate(181)"/><use href="#ar" transform="translate(128.1 333.9) rotate(183)"/><use href="#ar" transform="translate(135.6 333.9) rotate(190)"/><use href="#ar" transform="translate(143.2 333.9) rotate(192)"/><use href="#ar" transform="translate(150.7 333.9) rotate(190)"/><use href="#ar" transform="translate(158.2 333.9) rotate(194)"/><use href="#ar" transform="translate(165.8 333.9) rotate(191)"/><use href="#ar" transform="translate(173.3 333.9) rotate(188)"/><use href="#ar" transform="translate(180.8 333.9) rotate(185)"/><use href="#ar" transform="translate(188.3 333.9) rotate(186)"/><use href="#ar" transform="translate(195.9 333.9) rotate(186)"/><use href="#ar" transform="translate(203.4 333.9) rotate(177)"/><use href="#ar" transform="translate(210.9 333.9) rotate(175)"/><use href="#ar" transform="translate(218.5 333.9) rotate(171)"/><use href="#ar" transform="translate(226 333.9) rotate(167)"/><use href="#ar" transform="translate(233.5 333.9) rotate(158)"/><use href="#ar" transform="translate(241.1 333.9) rotate(154)"/><use href="#ar" transform="translate(248.6 333.9) rotate(151)"/><use href="#ar" transform="translate(256.1 333.9) rotate(153)"/><use href="#ar" transform="translate(263.6 333.9) rotate(135)"/><use href="#ar" transform="translate(271.2 333.9) rotate(173)"/><use href="#ar" transform="translate(52.8 339.3) rotate(194)"/><use href="#ar" transform="translate(60.3 339.3) rotate(221)"/><use href="#ar" transform="translate(67.9 339.3) rotate(189)"/><use href="#ar" transform="translate(75.4 339.3) rotate(188)"/><use href="#ar" transform="translate(82.9 339.3) rotate(180)"/><use href="#ar" transform="translate(90.4 339.3) rotate(182)"/><use href="#ar" transform="translate(98 339.3) rotate(175)"/><use href="#ar" transform="translate(105.5 339.3) rotate(176)"/><use href="#ar" transform="translate(113 339.3) rotate(178)"/><use href="#ar" transform="translate(120.6 339.3) rotate(187)"/><use href="#ar" transform="translate(128.1 339.3) rotate(186)"/><use href="#ar" transform="translate(135.6 339.3) rotate(189)"/><use href="#ar" transform="translate(143.2 339.3) rotate(196)"/><use href="#ar" transform="translate(150.7 339.3) rotate(193)"/><use href="#ar" transform="translate(158.2 339.3) rotate(192)"/><use href="#ar" transform="translate(165.8 339.3) rotate(192)"/><use href="#ar" transform="translate(173.3 339.3) rotate(189)"/><use href="#ar" transform="translate(180.8 339.3) rotate(181)"/><use href="#ar" transform="translate(188.3 339.3) rotate(178)"/><use href="#ar" transform="translate(195.9 339.3) rotate(178)"/><use href="#ar" transform="translate(203.4 339.3) rotate(180)"/><use href="#ar" transform="translate(210.9 339.3) rotate(176)"/><use href="#ar" transform="translate(218.5 339.3) rotate(170)"/><use href="#ar" transform="translate(226 339.3) rotate(162)"/><use href="#ar" transform="translate(233.5 339.3) rotate(156)"/><use href="#ar" transform="translate(241.1 339.3) rotate(157)"/><use href="#ar" transform="translate(248.6 339.3) rotate(153)"/><use href="#ar" transform="translate(256.1 339.3) rotate(164)"/><use href="#ar" transform="translate(263.6 339.3) rotate(173)"/><use href="#ar" transform="translate(271.2 339.3) rotate(204)"/><use href="#ar" transform="translate(52.8 344.6) rotate(218)"/><use href="#ar" transform="translate(60.3 344.6) rotate(198)"/><use href="#ar" transform="translate(67.9 344.6) rotate(200)"/><use href="#ar" transform="translate(75.4 344.6) rotate(180)"/><use href="#ar" transform="translate(82.9 344.6) rotate(180)"/><use href="#ar" transform="translate(90.4 344.6) rotate(178)"/><use href="#ar" transform="translate(98 344.6) rotate(182)"/><use href="#ar" transform="translate(105.5 344.6) rotate(179)"/><use href="#ar" transform="translate(113 344.6) rotate(181)"/><use href="#ar" transform="translate(120.6 344.6) rotate(185)"/><use href="#ar" transform="translate(128.1 344.6) rotate(188)"/><use href="#ar" transform="translate(135.6 344.6) rotate(191)"/><use href="#ar" transform="translate(143.2 344.6) rotate(192)"/><use href="#ar" transform="translate(150.7 344.6) rotate(186)"/><use href="#ar" transform="translate(158.2 344.6) rotate(189)"/><use href="#ar" transform="translate(165.8 344.6) rotate(183)"/><use href="#ar" transform="translate(173.3 344.6) rotate(179)"/><use href="#ar" transform="translate(180.8 344.6) rotate(182)"/><use href="#ar" transform="translate(188.3 344.6) rotate(175)"/><use href="#ar" transform="translate(195.9 344.6) rotate(173)"/><use href="#ar" transform="translate(203.4 344.6) rotate(171)"/><use href="#ar" transform="translate(210.9 344.6) rotate(174)"/><use href="#ar" transform="translate(218.5 344.6) rotate(163)"/><use href="#ar" transform="translate(226 344.6) rotate(159)"/><use href="#ar" transform="translate(233.5 344.6) rotate(156)"/><use href="#ar" transform="translate(241.1 344.6) rotate(158)"/><use href="#ar" transform="translate(248.6 344.6) rotate(161)"/><use href="#ar" transform="translate(256.1 344.6) rotate(158)"/><use href="#ar" transform="translate(263.6 344.6) rotate(207)"/><use href="#ar" transform="translate(271.2 344.6) rotate(222)"/><use href="#ar" transform="translate(52.8 349.9) rotate(221)"/><use href="#ar" transform="translate(60.3 349.9) rotate(215)"/><use href="#ar" transform="translate(67.9 349.9) rotate(213)"/><use href="#ar" transform="translate(75.4 349.9) rotate(187)"/><use href="#ar" transform="translate(82.9 349.9) rotate(183)"/><use href="#ar" transform="translate(90.4 349.9) rotate(184)"/><use href="#ar" transform="translate(98 349.9) rotate(186)"/><use href="#ar" transform="translate(105.5 349.9) rotate(189)"/><use href="#ar" transform="translate(113 349.9) rotate(191)"/><use href="#ar" transform="translate(120.6 349.9) rotate(190)"/><use href="#ar" transform="translate(128.1 349.9) rotate(188)"/><use href="#ar" transform="translate(135.6 349.9) rotate(190)"/><use href="#ar" transform="translate(143.2 349.9) rotate(187)"/><use href="#ar" transform="translate(150.7 349.9) rotate(185)"/><use href="#ar" transform="translate(158.2 349.9) rotate(179)"/><use href="#ar" transform="translate(165.8 349.9) rotate(181)"/><use href="#ar" transform="translate(173.3 349.9) rotate(179)"/><use href="#ar" transform="translate(180.8 349.9) rotate(174)"/><use href="#ar" transform="translate(188.3 349.9) rotate(173)"/><use href="#ar" transform="translate(195.9 349.9) rotate(177)"/><use href="#ar" transform="translate(203.4 349.9) rotate(170)"/><use href="#ar" transform="translate(210.9 349.9) rotate(172)"/><use href="#ar" transform="translate(218.5 349.9) rotate(163)"/><use href="#ar" transform="translate(226 349.9) rotate(159)"/><use href="#ar" transform="translate(233.5 349.9) rotate(157)"/><use href="#ar" transform="translate(241.1 349.9) rotate(158)"/><use href="#ar" transform="translate(248.6 349.9) rotate(165)"/><use href="#ar" transform="translate(256.1 349.9) rotate(178)"/><use href="#ar" transform="translate(263.6 349.9) rotate(231)"/><use href="#ar" transform="translate(271.2 349.9) rotate(265)"/><use href="#ar" transform="translate(52.8 355.2) rotate(205)"/><use href="#ar" transform="translate(60.3 355.2) rotate(216)"/><use href="#ar" transform="translate(67.9 355.2) rotate(220)"/><use href="#ar" transform="translate(75.4 355.2) rotate(211)"/><use href="#ar" transform="translate(82.9 355.2) rotate(187)"/><use href="#ar" transform="translate(90.4 355.2) rotate(191)"/><use href="#ar" transform="translate(98 355.2) rotate(189)"/><use href="#ar" transform="translate(105.5 355.2) rotate(189)"/><use href="#ar" transform="translate(113 355.2) rotate(191)"/><use href="#ar" transform="translate(120.6 355.2) rotate(194)"/><use href="#ar" transform="translate(128.1 355.2) rotate(192)"/><use href="#ar" transform="translate(135.6 355.2) rotate(183)"/><use href="#ar" transform="translate(143.2 355.2) rotate(184)"/><use href="#ar" transform="translate(150.7 355.2) rotate(179)"/><use href="#ar" transform="translate(158.2 355.2) rotate(177)"/><use href="#ar" transform="translate(165.8 355.2) rotate(171)"/><use href="#ar" transform="translate(173.3 355.2) rotate(178)"/><use href="#ar" transform="translate(180.8 355.2) rotate(175)"/><use href="#ar" transform="translate(188.3 355.2) rotate(178)"/><use href="#ar" transform="translate(195.9 355.2) rotate(172)"/><use href="#ar" transform="translate(203.4 355.2) rotate(172)"/><use href="#ar" transform="translate(210.9 355.2) rotate(165)"/><use href="#ar" transform="translate(218.5 355.2) rotate(164)"/><use href="#ar" transform="translate(226 355.2) rotate(160)"/><use href="#ar" transform="translate(233.5 355.2) rotate(161)"/><use href="#ar" transform="translate(241.1 355.2) rotate(168)"/><use href="#ar" transform="translate(248.6 355.2) rotate(184)"/><use href="#ar" transform="translate(256.1 355.2) rotate(226)"/><use href="#ar" transform="translate(263.6 355.2) rotate(236)"/><use href="#ar" transform="translate(271.2 355.2) rotate(274)"/><use href="#ar" transform="translate(52.8 360.6) rotate(200)"/><use href="#ar" transform="translate(60.3 360.6) rotate(220)"/><use href="#ar" transform="translate(67.9 360.6) rotate(221)"/><use href="#ar" transform="translate(75.4 360.6) rotate(235)"/><use href="#ar" transform="translate(82.9 360.6) rotate(213)"/><use href="#ar" transform="translate(90.4 360.6) rotate(192)"/><use href="#ar" transform="translate(98 360.6) rotate(193)"/><use href="#ar" transform="translate(105.5 360.6) rotate(191)"/><use href="#ar" transform="translate(113 360.6) rotate(193)"/><use href="#ar" transform="translate(120.6 360.6) rotate(191)"/><use href="#ar" transform="translate(128.1 360.6) rotate(182)"/><use href="#ar" transform="translate(135.6 360.6) rotate(178)"/><use href="#ar" transform="translate(143.2 360.6) rotate(177)"/><use href="#ar" transform="translate(150.7 360.6) rotate(172)"/><use href="#ar" transform="translate(158.2 360.6) rotate(174)"/><use href="#ar" transform="translate(165.8 360.6) rotate(174)"/><use href="#ar" transform="translate(173.3 360.6) rotate(172)"/><use href="#ar" transform="translate(180.8 360.6) rotate(180)"/><use href="#ar" transform="translate(188.3 360.6) rotate(177)"/><use href="#ar" transform="translate(195.9 360.6) rotate(174)"/><use href="#ar" transform="translate(203.4 360.6) rotate(176)"/><use href="#ar" transform="translate(210.9 360.6) rotate(167)"/><use href="#ar" transform="translate(218.5 360.6) rotate(167)"/><use href="#ar" transform="translate(226 360.6) rotate(162)"/><use href="#ar" transform="translate(233.5 360.6) rotate(164)"/><use href="#ar" transform="translate(241.1 360.6) rotate(183)"/><use href="#ar" transform="translate(248.6 360.6) rotate(207)"/><use href="#ar" transform="translate(256.1 360.6) rotate(229)"/><use href="#ar" transform="translate(263.6 360.6) rotate(266)"/><use href="#ar" transform="translate(271.2 360.6) rotate(283)"/><use href="#ar" transform="translate(52.8 365.9) rotate(211)"/><use href="#ar" transform="translate(60.3 365.9) rotate(226)"/><use href="#ar" transform="translate(67.9 365.9) rotate(226)"/><use href="#ar" transform="translate(75.4 365.9) rotate(229)"/><use href="#ar" transform="translate(82.9 365.9) rotate(240)"/><use href="#ar" transform="translate(90.4 365.9) rotate(243)"/><use href="#ar" transform="translate(98 365.9) rotate(190)"/><use href="#ar" transform="translate(105.5 365.9) rotate(194)"/><use href="#ar" transform="translate(113 365.9) rotate(185)"/><use href="#ar" transform="translate(120.6 365.9) rotate(183)"/><use href="#ar" transform="translate(128.1 365.9) rotate(175)"/><use href="#ar" transform="translate(135.6 365.9) rotate(170)"/><use href="#ar" transform="translate(143.2 365.9) rotate(170)"/><use href="#ar" transform="translate(150.7 365.9) rotate(166)"/><use href="#ar" transform="translate(158.2 365.9) rotate(171)"/><use href="#ar" transform="translate(165.8 365.9) rotate(175)"/><use href="#ar" transform="translate(173.3 365.9) rotate(175)"/><use href="#ar" transform="translate(180.8 365.9) rotate(182)"/><use href="#ar" transform="translate(188.3 365.9) rotate(179)"/><use href="#ar" transform="translate(195.9 365.9) rotate(179)"/><use href="#ar" transform="translate(203.4 365.9) rotate(172)"/><use href="#ar" transform="translate(210.9 365.9) rotate(171)"/><use href="#ar" transform="translate(218.5 365.9) rotate(166)"/><use href="#ar" transform="translate(226 365.9) rotate(166)"/><use href="#ar" transform="translate(233.5 365.9) rotate(181)"/><use href="#ar" transform="translate(241.1 365.9) rotate(194)"/><use href="#ar" transform="translate(248.6 365.9) rotate(211)"/><use href="#ar" transform="translate(256.1 365.9) rotate(247)"/><use href="#ar" transform="translate(263.6 365.9) rotate(284)"/><use href="#ar" transform="translate(271.2 365.9) rotate(292)"/><use href="#ar" transform="translate(52.8 371.2) rotate(248)"/><use href="#ar" transform="translate(60.3 371.2) rotate(249)"/><use href="#ar" transform="translate(67.9 371.2) rotate(233)"/><use href="#ar" transform="translate(75.4 371.2) rotate(260)"/><use href="#ar" transform="translate(82.9 371.2) rotate(245)"/><use href="#ar" transform="translate(90.4 371.2) rotate(228)"/><use href="#ar" transform="translate(98 371.2) rotate(238)"/><use href="#ar" transform="translate(105.5 371.2) rotate(189)"/><use href="#ar" transform="translate(113 371.2) rotate(184)"/><use href="#ar" transform="translate(120.6 371.2) rotate(173)"/><use href="#ar" transform="translate(128.1 371.2) rotate(169)"/><use href="#ar" transform="translate(135.6 371.2) rotate(168)"/><use href="#ar" transform="translate(143.2 371.2) rotate(165)"/><use href="#ar" transform="translate(150.7 371.2) rotate(171)"/><use href="#ar" transform="translate(158.2 371.2) rotate(175)"/><use href="#ar" transform="translate(165.8 371.2) rotate(177)"/><use href="#ar" transform="translate(173.3 371.2) rotate(177)"/><use href="#ar" transform="translate(180.8 371.2) rotate(179)"/><use href="#ar" transform="translate(188.3 371.2) rotate(182)"/><use href="#ar" transform="translate(195.9 371.2) rotate(179)"/><use href="#ar" transform="translate(203.4 371.2) rotate(172)"/><use href="#ar" transform="translate(210.9 371.2) rotate(169)"/><use href="#ar" transform="translate(218.5 371.2) rotate(169)"/><use href="#ar" transform="translate(226 371.2) rotate(180)"/><use href="#ar" transform="translate(233.5 371.2) rotate(180)"/><use href="#ar" transform="translate(241.1 371.2) rotate(206)"/><use href="#ar" transform="translate(248.6 371.2) rotate(236)"/><use href="#ar" transform="translate(256.1 371.2) rotate(265)"/><use href="#ar" transform="translate(263.6 371.2) rotate(287)"/><use href="#ar" transform="translate(271.2 371.2) rotate(267)"/><use href="#ar" transform="translate(52.8 376.6) rotate(180)"/><use href="#ar" transform="translate(60.3 376.6) rotate(180)"/><use href="#ar" transform="translate(67.9 376.6) rotate(180)"/><use href="#ar" transform="translate(75.4 376.6) rotate(180)"/><use href="#ar" transform="translate(82.9 376.6) rotate(180)"/><use href="#ar" transform="translate(90.4 376.6) rotate(180)"/><use href="#ar" transform="translate(98 376.6) rotate(180)"/><use href="#ar" transform="translate(105.5 376.6) rotate(180)"/><use href="#ar" transform="translate(113 376.6) rotate(152)"/><use href="#ar" transform="translate(120.6 376.6) rotate(152)"/><use href="#ar" transform="translate(128.1 376.6) rotate(152)"/><use href="#ar" transform="translate(135.6 376.6) rotate(152)"/><use href="#ar" transform="translate(143.2 376.6) rotate(152)"/><use href="#ar" transform="translate(150.7 376.6) rotate(152)"/><use href="#ar" transform="translate(158.2 376.6) rotate(152)"/><use href="#ar" transform="translate(165.8 376.6) rotate(152)"/><use href="#ar" transform="translate(173.3 376.6) rotate(152)"/><use href="#ar" transform="translate(180.8 376.6) rotate(152)"/><use href="#ar" transform="translate(188.3 376.6) rotate(152)"/><use href="#ar" transform="translate(195.9 376.6) rotate(152)"/><use href="#ar" transform="translate(203.4 376.6) rotate(152)"/><use href="#ar" transform="translate(210.9 376.6) rotate(152)"/><use href="#ar" transform="translate(218.5 376.6) rotate(180)"/><use href="#ar" transform="translate(226 376.6) rotate(180)"/><use href="#ar" transform="translate(233.5 376.6) rotate(180)"/><use href="#ar" transform="translate(241.1 376.6) rotate(180)"/><use href="#ar" transform="translate(248.6 376.6) rotate(180)"/><use href="#ar" transform="translate(256.1 376.6) rotate(180)"/><use href="#ar" transform="translate(263.6 376.6) rotate(180)"/><use href="#ar" transform="translate(271.2 376.6) rotate(180)"/><use href="#ar" transform="translate(52.8 381.9) rotate(180)"/><use href="#ar" transform="translate(60.3 381.9) rotate(180)"/><use href="#ar" transform="translate(67.9 381.9) rotate(180)"/><use href="#ar" transform="translate(75.4 381.9) rotate(180)"/><use href="#ar" transform="translate(82.9 381.9) rotate(180)"/><use href="#ar" transform="translate(90.4 381.9) rotate(180)"/><use href="#ar" transform="translate(98 381.9) rotate(180)"/><use href="#ar" transform="translate(105.5 381.9) rotate(180)"/><use href="#ar" transform="translate(113 381.9) rotate(180)"/><use href="#ar" transform="translate(120.6 381.9) rotate(180)"/><use href="#ar" transform="translate(128.1 381.9) rotate(152)"/><use href="#ar" transform="translate(135.6 381.9) rotate(152)"/><use href="#ar" transform="translate(143.2 381.9) rotate(152)"/><use href="#ar" transform="translate(150.7 381.9) rotate(152)"/><use href="#ar" transform="translate(158.2 381.9) rotate(152)"/><use href="#ar" transform="translate(165.8 381.9) rotate(152)"/><use href="#ar" transform="translate(173.3 381.9) rotate(152)"/><use href="#ar" transform="translate(180.8 381.9) rotate(152)"/><use href="#ar" transform="translate(188.3 381.9) rotate(152)"/><use href="#ar" transform="translate(195.9 381.9) rotate(152)"/><use href="#ar" transform="translate(203.4 381.9) rotate(180)"/><use href="#ar" transform="translate(210.9 381.9) rotate(180)"/><use href="#ar" transform="translate(218.5 381.9) rotate(180)"/><use href="#ar" transform="translate(226 381.9) rotate(180)"/><use href="#ar" transform="translate(233.5 381.9) rotate(180)"/><use href="#ar" transform="translate(241.1 381.9) rotate(180)"/><use href="#ar" transform="translate(248.6 381.9) rotate(180)"/><use href="#ar" transform="translate(256.1 381.9) rotate(180)"/><use href="#ar" transform="translate(263.6 381.9) rotate(180)"/><use href="#ar" transform="translate(271.2 381.9) rotate(180)"/><use href="#ar" transform="translate(52.8 387.2) rotate(180)"/><use href="#ar" transform="translate(60.3 387.2) rotate(180)"/><use href="#ar" transform="translate(67.9 387.2) rotate(180)"/><use href="#ar" transform="translate(75.4 387.2) rotate(180)"/><use href="#ar" transform="translate(82.9 387.2) rotate(180)"/><use href="#ar" transform="translate(90.4 387.2) rotate(180)"/><use href="#ar" transform="translate(98 387.2) rotate(180)"/><use href="#ar" transform="translate(105.5 387.2) rotate(180)"/><use href="#ar" transform="translate(113 387.2) rotate(180)"/><use href="#ar" transform="translate(120.6 387.2) rotate(180)"/><use href="#ar" transform="translate(128.1 387.2) rotate(180)"/><use href="#ar" transform="translate(135.6 387.2) rotate(180)"/><use href="#ar" transform="translate(143.2 387.2) rotate(152)"/><use href="#ar" transform="translate(150.7 387.2) rotate(152)"/><use href="#ar" transform="translate(158.2 387.2) rotate(152)"/><use href="#ar" transform="translate(165.8 387.2) rotate(152)"/><use href="#ar" transform="translate(173.3 387.2) rotate(152)"/><use href="#ar" transform="translate(180.8 387.2) rotate(152)"/><use href="#ar" transform="translate(188.3 387.2) rotate(180)"/><use href="#ar" transform="translate(195.9 387.2) rotate(180)"/><use href="#ar" transform="translate(203.4 387.2) rotate(180)"/><use href="#ar" transform="translate(210.9 387.2) rotate(180)"/><use href="#ar" transform="translate(218.5 387.2) rotate(180)"/><use href="#ar" transform="translate(226 387.2) rotate(180)"/><use href="#ar" transform="translate(233.5 387.2) rotate(180)"/><use href="#ar" transform="translate(241.1 387.2) rotate(180)"/><use href="#ar" transform="translate(248.6 387.2) rotate(180)"/><use href="#ar" transform="translate(256.1 387.2) rotate(180)"/><use href="#ar" transform="translate(263.6 387.2) rotate(180)"/><use href="#ar" transform="translate(271.2 387.2) rotate(180)"/></g>
<path d="M49 218.6H275.6V389H49ZM49.4 218.6 L49.4 221.6 L49.5 224.6 L49.5 227.6 L49.6 230.6 L49.6 233.6 L49.7 236.6 L49.7 239.6 L49.8 242.6 L49.9 245.6 L50 248.6 L50.1 251.6 L50.2 254.6 L50.3 257.6 L50.5 260.6 L50.6 263.6 L50.8 266.6 L51 269.6 L51.2 272.6 L51.4 275.6 L51.6 278.6 L51.9 281.6 L52.2 284.6 L52.5 287.6 L52.9 290.6 L53.2 293.6 L53.7 296.6 L54.2 299.6 L54.7 302.6 L55.3 305.6 L55.9 308.6 L56.6 311.6 L57.4 314.6 L58.2 317.6 L59.2 320.6 L60.2 323.6 L61.4 326.6 L62.6 329.6 L64 332.6 L65.5 335.6 L67.2 338.6 L69.1 341.6 L71.1 344.6 L73.4 347.6 L75.9 350.6 L78.6 353.6 L81.7 356.6 L85 359.6 L88.7 362.6 L92.7 365.6 L97.2 368.6 L102.1 371.6 L107.5 374.6 L113.5 377.6 L120.1 380.6 L127.3 383.6 L135.3 386.6 L142.3 389 L182.3 389 L189.3 386.6 L197.3 383.6 L204.5 380.6 L211.1 377.6 L217.1 374.6 L222.5 371.6 L227.4 368.6 L231.9 365.6 L235.9 362.6 L239.6 359.6 L242.9 356.6 L246 353.6 L248.7 350.6 L251.2 347.6 L253.5 344.6 L255.5 341.6 L257.4 338.6 L259.1 335.6 L260.6 332.6 L262 329.6 L263.2 326.6 L264.4 323.6 L265.4 320.6 L266.4 317.6 L267.2 314.6 L268 311.6 L268.7 308.6 L269.3 305.6 L269.9 302.6 L270.4 299.6 L270.9 296.6 L271.4 293.6 L271.7 290.6 L272.1 287.6 L272.4 284.6 L272.7 281.6 L273 278.6 L273.2 275.6 L273.4 272.6 L273.6 269.6 L273.8 266.6 L274 263.6 L274.1 260.6 L274.3 257.6 L274.4 254.6 L274.5 251.6 L274.6 248.6 L274.7 245.6 L274.8 242.6 L274.9 239.6 L274.9 236.6 L275 233.6 L275 230.6 L275.1 227.6 L275.1 224.6 L275.2 221.6 L275.2 218.6Z" fill="#fff" fill-rule="evenodd" opacity=".52"/>
<path d="M49.4 218.6 L49.4 221.6 L49.5 224.6 L49.5 227.6 L49.6 230.6 L49.6 233.6 L49.7 236.6 L49.7 239.6 L49.8 242.6 L49.9 245.6 L50 248.6 L50.1 251.6 L50.2 254.6 L50.3 257.6 L50.5 260.6 L50.6 263.6 L50.8 266.6 L51 269.6 L51.2 272.6 L51.4 275.6 L51.6 278.6 L51.9 281.6 L52.2 284.6 L52.5 287.6 L52.9 290.6 L53.2 293.6 L53.7 296.6 L54.2 299.6 L54.7 302.6 L55.3 305.6 L55.9 308.6 L56.6 311.6 L57.4 314.6 L58.2 317.6 L59.2 320.6 L60.2 323.6 L61.4 326.6 L62.6 329.6 L64 332.6 L65.5 335.6 L67.2 338.6 L69.1 341.6 L71.1 344.6 L73.4 347.6 L75.9 350.6 L78.6 353.6 L81.7 356.6 L85 359.6 L88.7 362.6 L92.7 365.6 L97.2 368.6 L102.1 371.6 L107.5 374.6 L113.5 377.6 L120.1 380.6 L127.3 383.6 L135.3 386.6 L142.3 389 L182.3 389 L189.3 386.6 L197.3 383.6 L204.5 380.6 L211.1 377.6 L217.1 374.6 L222.5 371.6 L227.4 368.6 L231.9 365.6 L235.9 362.6 L239.6 359.6 L242.9 356.6 L246 353.6 L248.7 350.6 L251.2 347.6 L253.5 344.6 L255.5 341.6 L257.4 338.6 L259.1 335.6 L260.6 332.6 L262 329.6 L263.2 326.6 L264.4 323.6 L265.4 320.6 L266.4 317.6 L267.2 314.6 L268 311.6 L268.7 308.6 L269.3 305.6 L269.9 302.6 L270.4 299.6 L270.9 296.6 L271.4 293.6 L271.7 290.6 L272.1 287.6 L272.4 284.6 L272.7 281.6 L273 278.6 L273.2 275.6 L273.4 272.6 L273.6 269.6 L273.8 266.6 L274 263.6 L274.1 260.6 L274.3 257.6 L274.4 254.6 L274.5 251.6 L274.6 248.6 L274.7 245.6 L274.8 242.6 L274.9 239.6 L274.9 236.6 L275 233.6 L275 230.6 L275.1 227.6 L275.1 224.6 L275.2 221.6 L275.2 218.6" fill="none" stroke="#222" stroke-width=".6"/>
</g>
<rect x="49" y="218.6" width="226.6" height="170.4" fill="none" stroke="#333" stroke-width=".7"/>
<text x="17.2" y="219.4" font-size="13.6" fill="#1a1a1a">(d)</text>
<text x="98.4" y="210.8" font-size="12" letter-spacing="-.3" fill="#333">XWT <tspan font-family='"Liberation Serif", "DejaVu Serif", serif' font-size="14.2" letter-spacing=".62">(1<tspan dy="2.6" font-size="10.6" font-style="italic">m−h</tspan><tspan dy="-2.6" font-style="italic"> and </tspan>8<tspan dy="2.6" font-size="10.6" font-style="italic">m−h</tspan><tspan dy="-2.6"> )</tspan></tspan></text>
<text x="288.8" y="200.3" font-size="9" text-anchor="middle" font-weight="bold" fill="#333">Common</text>
<text x="288.8" y="212.2" font-size="9" text-anchor="middle" font-weight="bold" fill="#333">power</text>
<rect x="281.8" y="218.6" width="11.6" height="170.7" fill="url(#pg)" stroke="#444" stroke-width=".5"/>
<g font-size="6.1" fill="#3a3a3a"><text x="297" y="236.8">64</text><text x="297" y="248.4">32</text><text x="297" y="260">16</text><text x="297" y="271.5">8</text><text x="297" y="283.1">4</text><text x="297" y="294.7">2</text><text x="297" y="306.3">1</text><text x="297" y="317.9">1/2</text><text x="297" y="329.4">1/4</text><text x="297" y="341">1/8</text><text x="297" y="352.6">1/16</text><text x="297" y="364.2">1/32</text><text x="297" y="375.8">1/64</text></g>
<path d="M293.4 234.6h-1.8M293.4 246.2h-1.8M293.4 257.8h-1.8M293.4 269.3h-1.8M293.4 280.9h-1.8M293.4 292.5h-1.8M293.4 304.1h-1.8M293.4 315.7h-1.8M293.4 327.2h-1.8M293.4 338.8h-1.8M293.4 350.4h-1.8M293.4 362h-1.8M293.4 373.6h-1.8" stroke="#333" stroke-width=".5"/>
<g font-size="6.6" fill="#3a3a3a" text-anchor="end"><text x="46" y="241.5">4</text><text x="46" y="262.9">8</text><text x="46" y="284.3">16</text><text x="46" y="305.7">32</text><text x="46" y="327.1">64</text><text x="46" y="348.5">128</text><text x="46" y="369.9">256</text><text x="46" y="391.3">512</text></g>
<path d="M49 239.1h-2M49 260.5h-2M49 281.9h-2M49 303.3h-2M49 324.7h-2M49 346.1h-2M49 367.5h-2M49 388.9h-2" stroke="#333" stroke-width=".5"/>
<text x="26.3" y="303.5" font-size="6.8" text-anchor="middle" fill="#3a3a3a" transform="rotate(-90 26.3 303.5)">Period</text>
<g font-size="8.2" fill="#333" text-anchor="middle"><text x="80" y="400.6">40</text><text x="110.1" y="400.6">80</text><text x="140.2" y="400.6">120</text><text x="170.3" y="400.6">160</text><text x="200.4" y="400.6">200</text><text x="230.5" y="400.6">240</text><text x="260.6" y="400.6">280</text></g>
<text x="156" y="411.6" font-size="8.4" text-anchor="middle" fill="#333">time (s)</text>
</g>
<g id="pe">
<g clip-path="url(#cpe)">
<g filter="url(#hfe)">
<rect x="429.4" y="211" width="215.9" height="180.7" fill="url(#bge)"/>
<ellipse cx="640" cy="368" rx="40" ry="30" fill="rgb(110,0,13)" filter="url(#b2)"/>
<ellipse cx="632" cy="343" rx="18" ry="5" fill="rgb(8,0,0)" filter="url(#b1)"/>
<ellipse cx="644" cy="312" rx="5" ry="16" fill="rgb(230,0,0)" filter="url(#b0)"/>
<ellipse cx="470" cy="305" rx="40" ry="9" fill="rgb(84,0,76)" filter="url(#b2)"/>
<ellipse cx="577" cy="304" rx="32" ry="4" fill="rgb(5,0,26)" filter="url(#b1)"/>
<ellipse cx="588" cy="326" rx="13" ry="5" fill="rgb(8,0,26)" filter="url(#b1)"/>
<ellipse cx="620" cy="318" rx="10" ry="6" fill="rgb(89,0,51)" filter="url(#b1)"/>
<ellipse cx="575" cy="317" rx="22" ry="5" fill="rgb(107,0,38)" filter="url(#b1)"/>
<ellipse cx="600" cy="330" rx="18" ry="4" fill="rgb(102,0,26)" filter="url(#b1)"/>
<path d="M508 392C500.2 390.9 508.5 387.2 513 385.5C517.5 383.8 527.8 383 535 381.5C542.2 380 550.5 378.1 556 376.6C561.5 375.1 563.8 373.6 568 372.5C572.2 371.4 577.2 370.9 581 370C584.8 369.1 587.7 368.2 591 366.8C594.3 365.4 598 363.5 601 361.8C604 360.1 606.5 358.1 609 356.5C611.5 354.9 613.8 351.1 616 352C618.2 352.9 624.7 357.3 622 362C619.3 366.7 610.3 375 600 380C589.7 385 575.3 390 560 392C544.7 394 515.8 393.1 508 392Z" fill="rgb(143,0,0)" filter="url(#b0)"/>
<path d="M430 310C431.2 307.8 434.3 311.7 436 312.5C437.7 313.3 438.1 314 440.3 314.6C442.5 315.2 446.2 316.2 449.3 316.3C452.4 316.4 456.1 314.9 459.1 315.4C462.1 315.9 464.5 318.9 467.2 319.5C469.9 320.1 472.4 319.1 475.4 318.7C478.4 318.3 481.6 317.2 485.2 317.1C488.8 317 493.4 318.2 496.7 317.9C500 317.6 502.7 315.9 504.9 315.4C507.1 314.8 508.6 314.3 509.8 314.6C511.1 314.9 512.4 316 512.4 317.1C512.4 318.2 511.9 319.7 509.8 321.2C507.7 322.7 503 324.8 500 326C497 327.2 493.9 327.5 491.8 328.5C489.8 329.5 487.8 330.7 487.7 331.8C487.6 332.9 488.9 334.5 491 335C493.1 335.5 496.9 335.5 500 335C503.1 334.5 506.8 333 509.8 331.8C512.8 330.6 515.8 329.3 518 327.7C520.2 326.1 521.2 323.8 522.8 322C524.4 320.2 525.9 318.6 527.7 317C529.5 315.4 532.2 314.4 533.8 312.6C535.4 310.8 536.5 308 537.5 306C538.5 304 538.7 302 539.5 300.5C540.3 299 541.4 297.8 542.5 297.2C543.6 296.6 544.9 296.4 546 296.6C547.1 296.8 548.3 297.5 548.9 298.4C549.5 299.3 549.8 300.4 549.7 302C549.6 303.6 548.1 306.2 548.2 308C548.3 309.8 550 311.1 550.5 313C551 314.9 551.1 317.3 551.4 319.5C551.7 321.7 551.7 324.2 552.2 326C552.7 327.8 552.8 329 554.6 330.2C556.4 331.4 559.2 332.6 562.8 333.4C566.3 334.2 571.5 334.4 575.9 335C580.3 335.6 585.5 336 589 336.7C592.5 337.4 595.2 337.9 597.1 339.1C599 340.3 599 342.4 600.4 344C601.8 345.6 603.8 347.5 605.3 349C606.8 350.5 608.2 351.8 609.4 353C610.6 354.2 612.9 355.6 612.5 356.2C612.1 356.8 609 355.9 607 356.6C605 357.3 603.1 359.1 600.4 360.6C597.7 362.1 593.9 364.1 590.6 365.5C587.3 366.9 584.6 367.9 580.8 368.8C577 369.8 571.8 370.1 567.7 371.2C563.6 372.3 560.1 374.2 556.3 375.3C552.5 376.4 548.3 377 544.8 377.8C541.2 378.6 538.3 379.3 535 380.2C531.7 381.1 528.3 382 525 383C521.7 384 517.4 385.4 515 386C512.6 386.6 511.7 385.8 510.5 386.8C509.3 387.8 514.8 391 508 392C501.2 393 483.2 392.8 470 393C456.8 393.2 435.8 394.1 429 393C422.2 391.9 426.3 388 429 386.5C431.7 385 439.8 385.2 445 384.2C450.2 383.1 455.3 381.5 460 380.2C464.7 378.9 469.7 377.7 473 376.6C476.3 375.5 480.2 374.5 480 373.5C479.8 372.5 476.2 371.8 472 370.8C467.8 369.8 462.2 368.2 455 367.6C447.8 367 433.3 369.4 429 367C424.7 364.6 429 357.4 429 353C429 348.6 426.3 342.5 429 340.5C431.7 338.5 440.7 340.9 445 341C449.3 341.1 452.6 341.3 455 341C457.4 340.7 457.7 339.8 459.5 339.1C461.3 338.4 463.8 337.6 465.6 336.7C467.4 335.8 470.1 334.4 470.5 333.4C470.9 332.3 469.6 331.3 468 330.4C466.4 329.4 463.3 328.8 460.7 327.7C458.1 326.6 455.2 324.9 452.5 323.8C449.8 322.7 448.3 321 444.4 321.3C440.5 321.6 431.4 327.4 429 325.5C426.6 323.6 428.8 312.2 430 310Z" fill="rgb(128,0,31)" stroke="rgb(128,0,31)" stroke-width="8" filter="url(#b1)"/>
<path d="M430 310C431.2 307.8 434.3 311.7 436 312.5C437.7 313.3 438.1 314 440.3 314.6C442.5 315.2 446.2 316.2 449.3 316.3C452.4 316.4 456.1 314.9 459.1 315.4C462.1 315.9 464.5 318.9 467.2 319.5C469.9 320.1 472.4 319.1 475.4 318.7C478.4 318.3 481.6 317.2 485.2 317.1C488.8 317 493.4 318.2 496.7 317.9C500 317.6 502.7 315.9 504.9 315.4C507.1 314.8 508.6 314.3 509.8 314.6C511.1 314.9 512.4 316 512.4 317.1C512.4 318.2 511.9 319.7 509.8 321.2C507.7 322.7 503 324.8 500 326C497 327.2 493.9 327.5 491.8 328.5C489.8 329.5 487.8 330.7 487.7 331.8C487.6 332.9 488.9 334.5 491 335C493.1 335.5 496.9 335.5 500 335C503.1 334.5 506.8 333 509.8 331.8C512.8 330.6 515.8 329.3 518 327.7C520.2 326.1 521.2 323.8 522.8 322C524.4 320.2 525.9 318.6 527.7 317C529.5 315.4 532.2 314.4 533.8 312.6C535.4 310.8 536.5 308 537.5 306C538.5 304 538.7 302 539.5 300.5C540.3 299 541.4 297.8 542.5 297.2C543.6 296.6 544.9 296.4 546 296.6C547.1 296.8 548.3 297.5 548.9 298.4C549.5 299.3 549.8 300.4 549.7 302C549.6 303.6 548.1 306.2 548.2 308C548.3 309.8 550 311.1 550.5 313C551 314.9 551.1 317.3 551.4 319.5C551.7 321.7 551.7 324.2 552.2 326C552.7 327.8 552.8 329 554.6 330.2C556.4 331.4 559.2 332.6 562.8 333.4C566.3 334.2 571.5 334.4 575.9 335C580.3 335.6 585.5 336 589 336.7C592.5 337.4 595.2 337.9 597.1 339.1C599 340.3 599 342.4 600.4 344C601.8 345.6 603.8 347.5 605.3 349C606.8 350.5 608.2 351.8 609.4 353C610.6 354.2 612.9 355.6 612.5 356.2C612.1 356.8 609 355.9 607 356.6C605 357.3 603.1 359.1 600.4 360.6C597.7 362.1 593.9 364.1 590.6 365.5C587.3 366.9 584.6 367.9 580.8 368.8C577 369.8 571.8 370.1 567.7 371.2C563.6 372.3 560.1 374.2 556.3 375.3C552.5 376.4 548.3 377 544.8 377.8C541.2 378.6 538.3 379.3 535 380.2C531.7 381.1 528.3 382 525 383C521.7 384 517.4 385.4 515 386C512.6 386.6 511.7 385.8 510.5 386.8C509.3 387.8 514.8 391 508 392C501.2 393 483.2 392.8 470 393C456.8 393.2 435.8 394.1 429 393C422.2 391.9 426.3 388 429 386.5C431.7 385 439.8 385.2 445 384.2C450.2 383.1 455.3 381.5 460 380.2C464.7 378.9 469.7 377.7 473 376.6C476.3 375.5 480.2 374.5 480 373.5C479.8 372.5 476.2 371.8 472 370.8C467.8 369.8 462.2 368.2 455 367.6C447.8 367 433.3 369.4 429 367C424.7 364.6 429 357.4 429 353C429 348.6 426.3 342.5 429 340.5C431.7 338.5 440.7 340.9 445 341C449.3 341.1 452.6 341.3 455 341C457.4 340.7 457.7 339.8 459.5 339.1C461.3 338.4 463.8 337.6 465.6 336.7C467.4 335.8 470.1 334.4 470.5 333.4C470.9 332.3 469.6 331.3 468 330.4C466.4 329.4 463.3 328.8 460.7 327.7C458.1 326.6 455.2 324.9 452.5 323.8C449.8 322.7 448.3 321 444.4 321.3C440.5 321.6 431.4 327.4 429 325.5C426.6 323.6 428.8 312.2 430 310Z" fill="rgb(212,0,15)" filter="url(#bs)"/>
<ellipse cx="520" cy="354" rx="62" ry="15" fill="rgb(252,0,0)" filter="url(#b1)"/>
<ellipse cx="455" cy="354" rx="30" ry="10" fill="rgb(247,0,0)" filter="url(#b1)"/>
<ellipse cx="545" cy="310" rx="3.5" ry="8" fill="rgb(237,0,0)" filter="url(#b0)"/>
<ellipse cx="433" cy="332.5" rx="12" ry="4.5" fill="rgb(5,0,0)" filter="url(#b0)"/>
<ellipse cx="445" cy="376" rx="22" ry="5" fill="rgb(122,0,0)" filter="url(#b0)"/>
<ellipse cx="475.9" cy="271.5" rx="5.4" ry="11" fill="rgb(128,0,31)" filter="url(#b1)" transform="rotate(4 475.9 271.5)"/>
<ellipse cx="475.9" cy="271.5" rx="2.6" ry="8.2" fill="rgb(214,0,26)" filter="url(#bs)" transform="rotate(4 475.9 271.5)"/>
<ellipse cx="491.8" cy="271.5" rx="5.8" ry="8.8" fill="rgb(128,0,31)" filter="url(#b1)"/>
<ellipse cx="491.8" cy="271.5" rx="3" ry="6" fill="rgb(214,0,26)" filter="url(#bs)"/>
<ellipse cx="512.2" cy="270.5" rx="5.8" ry="7" fill="rgb(128,0,31)" filter="url(#b1)" transform="rotate(-10 512.2 270.5)"/>
<ellipse cx="512.2" cy="270.5" rx="3" ry="4.2" fill="rgb(214,0,26)" filter="url(#bs)" transform="rotate(-10 512.2 270.5)"/>
<ellipse cx="531.2" cy="273.8" rx="7.8" ry="7" fill="rgb(128,0,31)" filter="url(#b1)" transform="rotate(25 531.2 273.8)"/>
<ellipse cx="531.2" cy="273.8" rx="5" ry="4.2" fill="rgb(214,0,26)" filter="url(#bs)" transform="rotate(25 531.2 273.8)"/>
<ellipse cx="454.2" cy="287.7" rx="6" ry="6" fill="rgb(128,0,31)" filter="url(#b1)"/>
<ellipse cx="454.2" cy="287.7" rx="3.2" ry="3.2" fill="rgb(214,0,26)" filter="url(#bs)"/>
<ellipse cx="538.4" cy="250.6" rx="5" ry="8.2" fill="rgb(128,0,31)" filter="url(#b1)" transform="rotate(8 538.4 250.6)"/>
<ellipse cx="538.4" cy="250.6" rx="2.2" ry="5.4" fill="rgb(214,0,26)" filter="url(#bs)" transform="rotate(8 538.4 250.6)"/>
<ellipse cx="557.4" cy="241" rx="4.1" ry="8.5" fill="rgb(128,0,31)" filter="url(#b1)"/>
<ellipse cx="557.4" cy="241" rx="1.3" ry="5.7" fill="rgb(214,0,26)" filter="url(#bs)"/>
<ellipse cx="572.6" cy="252.5" rx="4.6" ry="5.8" fill="rgb(128,0,31)" filter="url(#b1)" transform="rotate(15 572.6 252.5)"/>
<ellipse cx="572.6" cy="252.5" rx="1.8" ry="3" fill="rgb(214,0,26)" filter="url(#bs)" transform="rotate(15 572.6 252.5)"/>
<ellipse cx="586.6" cy="275.4" rx="6.4" ry="9.8" fill="rgb(128,0,31)" filter="url(#b1)" transform="rotate(8 586.6 275.4)"/>
<ellipse cx="586.6" cy="275.4" rx="3.6" ry="7" fill="rgb(214,0,26)" filter="url(#bs)" transform="rotate(8 586.6 275.4)"/>
<ellipse cx="600" cy="274" rx="5.2" ry="9" fill="rgb(128,0,31)" filter="url(#b1)" transform="rotate(-4 600 274)"/>
<ellipse cx="600" cy="274" rx="2.4" ry="6.2" fill="rgb(214,0,26)" filter="url(#bs)" transform="rotate(-4 600 274)"/>
<ellipse cx="594.2" cy="266" rx="4.3" ry="4.6" fill="rgb(128,0,31)" filter="url(#b1)"/>
<ellipse cx="594.2" cy="266" rx="1.5" ry="1.8" fill="rgb(214,0,26)" filter="url(#bs)"/>
<ellipse cx="622.1" cy="271.3" rx="4.3" ry="8.5" fill="rgb(128,0,31)" filter="url(#b1)"/>
<ellipse cx="622.1" cy="271.3" rx="1.5" ry="5.7" fill="rgb(214,0,26)" filter="url(#bs)"/>
<ellipse cx="639.6" cy="251" rx="4.8" ry="9.2" fill="rgb(128,0,31)" filter="url(#b1)"/>
<ellipse cx="639.6" cy="251" rx="2" ry="6.4" fill="rgb(214,0,26)" filter="url(#bs)"/>
<ellipse cx="565.2" cy="318" rx="8.4" ry="6" fill="rgb(128,0,31)" filter="url(#b1)" transform="rotate(8 565.2 318)"/>
<ellipse cx="565.2" cy="318" rx="5.6" ry="3.2" fill="rgb(214,0,26)" filter="url(#bs)" transform="rotate(8 565.2 318)"/>
<ellipse cx="616.8" cy="297" rx="9.4" ry="8.2" fill="rgb(128,0,31)" filter="url(#b1)"/>
<ellipse cx="616.8" cy="297" rx="6.6" ry="5.4" fill="rgb(214,0,26)" filter="url(#bs)"/>
<ellipse cx="498.2" cy="232" rx="4.4" ry="6" fill="rgb(128,0,31)" filter="url(#b1)"/>
<ellipse cx="498.2" cy="232" rx="1.6" ry="3.2" fill="rgb(214,0,26)" filter="url(#bs)"/>
<path d="M581.5 296C581.8 294.8 583.6 293.7 585 293.5C586.4 293.3 588.6 295.2 590 295C591.4 294.8 592.3 292.7 593.5 292.5C594.7 292.3 596.3 292.9 597 294C597.7 295.1 598 297.6 597.5 299C597 300.4 595.5 301.8 594 302.5C592.5 303.2 590.2 303.4 588.5 303.2C586.8 302.9 584.7 302.2 583.5 301C582.3 299.8 581.2 297.2 581.5 296Z" fill="rgb(128,0,31)" stroke="rgb(128,0,31)" stroke-width="5" filter="url(#b1)"/>
<path d="M581.5 296C581.8 294.8 583.6 293.7 585 293.5C586.4 293.3 588.6 295.2 590 295C591.4 294.8 592.3 292.7 593.5 292.5C594.7 292.3 596.3 292.9 597 294C597.7 295.1 598 297.6 597.5 299C597 300.4 595.5 301.8 594 302.5C592.5 303.2 590.2 303.4 588.5 303.2C586.8 302.9 584.7 302.2 583.5 301C582.3 299.8 581.2 297.2 581.5 296Z" fill="rgb(214,0,26)" filter="url(#bs)"/>
</g>
<g fill="#050505"><rect x="530.5" y="223.5" width="2.9" height="8.2" rx="1.3"/><rect x="433.5" y="216.1" width="2.4" height="14.8" rx="1.1"/><rect x="576" y="221.7" width="2.8" height="12.6" rx="1.3"/><rect x="461.8" y="217.4" width="2.2" height="15.4" rx="1"/><rect x="443.7" y="230.1" width="2.1" height="11.4" rx="1"/><rect x="501.5" y="216.6" width="3.2" height="7.8" rx="1.4"/><rect x="443.8" y="234.8" width="2.7" height="6.6" rx="1.2"/><rect x="638.5" y="236.5" width="2.2" height="8.7" rx="1"/><rect x="459.3" y="215.1" width="2.9" height="9.3" rx="1.3"/><rect x="577.5" y="213" width="2.2" height="15.3" rx="1"/><rect x="515.1" y="216.9" width="2.8" height="11.7" rx="1.3"/><rect x="511.6" y="213" width="3" height="16.7" rx="1.4"/><rect x="636.1" y="223.8" width="2.5" height="9.9" rx="1.1"/><rect x="576.2" y="224.1" width="2.2" height="8.8" rx="1"/><rect x="507.1" y="219.1" width="3.1" height="11.6" rx="1.4"/><rect x="437" y="230.2" width="2.6" height="10.2" rx="1.2"/><rect x="477.8" y="217.1" width="2.5" height="14.3" rx="1.2"/><rect x="452.8" y="220.1" width="2.2" height="13.1" rx="1"/><rect x="438.9" y="214.6" width="2.5" height="13.5" rx="1.1"/><rect x="442.2" y="217.8" width="2.3" height="10" rx="1"/><rect x="531" y="237.2" width="2.7" height="12.1" rx="1.2"/><rect x="466.3" y="235.3" width="2.5" height="7.3" rx="1.1"/><rect x="588.5" y="234.6" width="2" height="7.9" rx="0.9"/><rect x="593" y="215.5" width="2.3" height="7.8" rx="1.1"/><rect x="439.1" y="222.2" width="3.4" height="15.2" rx="1.5"/><rect x="536.9" y="213" width="2.5" height="15.1" rx="1.1"/><rect x="605.9" y="222.9" width="2.3" height="11.3" rx="1.1"/><rect x="531.4" y="222.5" width="2.4" height="14.7" rx="1.1"/><rect x="618.9" y="213.5" width="2.4" height="15.8" rx="1.1"/><rect x="489.5" y="236.3" width="2.7" height="10.5" rx="1.2"/><rect x="579.1" y="213.9" width="2.4" height="10.2" rx="1.1"/><rect x="574.7" y="224.9" width="2.2" height="13.8" rx="1"/><rect x="519.3" y="214.2" width="2.6" height="16.6" rx="1.2"/><rect x="548.3" y="222.4" width="3.3" height="14.9" rx="1.5"/><rect x="590.6" y="216.9" width="2.8" height="15.4" rx="1.3"/><rect x="596.8" y="221" width="2.5" height="10.3" rx="1.1"/><rect x="585.8" y="220.5" width="2" height="13.2" rx="0.9"/><rect x="620.5" y="229.1" width="3.3" height="13.2" rx="1.5"/><rect x="543.4" y="228.7" width="2.5" height="7.3" rx="1.2"/><rect x="504.9" y="215" width="3.3" height="13.9" rx="1.5"/><rect x="545" y="222.3" width="2.2" height="11.5" rx="1"/><rect x="578.3" y="216.4" width="2.3" height="11.2" rx="1.1"/><rect x="499.2" y="224.5" width="2.2" height="7.7" rx="1"/><rect x="496.5" y="224.9" width="3.1" height="12.1" rx="1.4"/><rect x="627.6" y="215.9" width="2" height="12" rx="0.9"/><rect x="524.1" y="213.6" width="2.9" height="11" rx="1.3"/><rect x="480.8" y="215.3" width="3.3" height="7.9" rx="1.5"/><rect x="506.9" y="214.6" width="2.3" height="11.7" rx="1"/><rect x="477.3" y="235" width="2.7" height="10.7" rx="1.2"/><rect x="465.1" y="217.9" width="2.8" height="14.7" rx="1.3"/><rect x="485.5" y="254.5" width="2.6" height="10.8" rx="1.2"/><rect x="470.4" y="228.6" width="2" height="8.1" rx="0.9"/><rect x="585.3" y="222.3" width="2.4" height="8.3" rx="1.1"/><rect x="492.8" y="240.4" width="2.8" height="10.2" rx="1.3"/><rect x="434.4" y="231.3" width="2" height="12.7" rx="0.9"/><rect x="601" y="261" width="2.8" height="9.8" rx="1.3"/><rect x="630.6" y="260.4" width="2.1" height="10.4" rx="1"/><rect x="533.3" y="258.3" width="2.5" height="8" rx="1.1"/><rect x="507.8" y="240.3" width="2.2" height="6.8" rx="1"/><rect x="603" y="260.6" width="3" height="9.5" rx="1.4"/><rect x="547.8" y="257.9" width="2" height="9.5" rx="0.9"/><rect x="524.4" y="225.2" width="2" height="10.5" rx="0.9"/><rect x="484.3" y="242" width="2.5" height="8.7" rx="1.1"/><rect x="458.8" y="243.7" width="2.1" height="7.5" rx="0.9"/><rect x="472.3" y="236.6" width="1.9" height="10.7" rx="0.9"/><rect x="631.2" y="238" width="2.7" height="12.6" rx="1.2"/><rect x="440.1" y="223" width="2.8" height="13" rx="1.3"/><rect x="565.4" y="224.2" width="2.3" height="13.1" rx="1"/></g>
<g fill="none" stroke="#0a0a0a" stroke-width="1.35" stroke-linejoin="round"><path d="M430 310C431.2 307.8 434.3 311.7 436 312.5C437.7 313.3 438.1 314 440.3 314.6C442.5 315.2 446.2 316.2 449.3 316.3C452.4 316.4 456.1 314.9 459.1 315.4C462.1 315.9 464.5 318.9 467.2 319.5C469.9 320.1 472.4 319.1 475.4 318.7C478.4 318.3 481.6 317.2 485.2 317.1C488.8 317 493.4 318.2 496.7 317.9C500 317.6 502.7 315.9 504.9 315.4C507.1 314.8 508.6 314.3 509.8 314.6C511.1 314.9 512.4 316 512.4 317.1C512.4 318.2 511.9 319.7 509.8 321.2C507.7 322.7 503 324.8 500 326C497 327.2 493.9 327.5 491.8 328.5C489.8 329.5 487.8 330.7 487.7 331.8C487.6 332.9 488.9 334.5 491 335C493.1 335.5 496.9 335.5 500 335C503.1 334.5 506.8 333 509.8 331.8C512.8 330.6 515.8 329.3 518 327.7C520.2 326.1 521.2 323.8 522.8 322C524.4 320.2 525.9 318.6 527.7 317C529.5 315.4 532.2 314.4 533.8 312.6C535.4 310.8 536.5 308 537.5 306C538.5 304 538.7 302 539.5 300.5C540.3 299 541.4 297.8 542.5 297.2C543.6 296.6 544.9 296.4 546 296.6C547.1 296.8 548.3 297.5 548.9 298.4C549.5 299.3 549.8 300.4 549.7 302C549.6 303.6 548.1 306.2 548.2 308C548.3 309.8 550 311.1 550.5 313C551 314.9 551.1 317.3 551.4 319.5C551.7 321.7 551.7 324.2 552.2 326C552.7 327.8 552.8 329 554.6 330.2C556.4 331.4 559.2 332.6 562.8 333.4C566.3 334.2 571.5 334.4 575.9 335C580.3 335.6 585.5 336 589 336.7C592.5 337.4 595.2 337.9 597.1 339.1C599 340.3 599 342.4 600.4 344C601.8 345.6 603.8 347.5 605.3 349C606.8 350.5 608.2 351.8 609.4 353C610.6 354.2 612.9 355.6 612.5 356.2C612.1 356.8 609 355.9 607 356.6C605 357.3 603.1 359.1 600.4 360.6C597.7 362.1 593.9 364.1 590.6 365.5C587.3 366.9 584.6 367.9 580.8 368.8C577 369.8 571.8 370.1 567.7 371.2C563.6 372.3 560.1 374.2 556.3 375.3C552.5 376.4 548.3 377 544.8 377.8C541.2 378.6 538.3 379.3 535 380.2C531.7 381.1 528.3 382 525 383C521.7 384 517.4 385.4 515 386C512.6 386.6 511.7 385.8 510.5 386.8C509.3 387.8 514.8 391 508 392C501.2 393 483.2 392.8 470 393C456.8 393.2 435.8 394.1 429 393C422.2 391.9 426.3 388 429 386.5C431.7 385 439.8 385.2 445 384.2C450.2 383.1 455.3 381.5 460 380.2C464.7 378.9 469.7 377.7 473 376.6C476.3 375.5 480.2 374.5 480 373.5C479.8 372.5 476.2 371.8 472 370.8C467.8 369.8 462.2 368.2 455 367.6C447.8 367 433.3 369.4 429 367C424.7 364.6 429 357.4 429 353C429 348.6 426.3 342.5 429 340.5C431.7 338.5 440.7 340.9 445 341C449.3 341.1 452.6 341.3 455 341C457.4 340.7 457.7 339.8 459.5 339.1C461.3 338.4 463.8 337.6 465.6 336.7C467.4 335.8 470.1 334.4 470.5 333.4C470.9 332.3 469.6 331.3 468 330.4C466.4 329.4 463.3 328.8 460.7 327.7C458.1 326.6 455.2 324.9 452.5 323.8C449.8 322.7 448.3 321 444.4 321.3C440.5 321.6 431.4 327.4 429 325.5C426.6 323.6 428.8 312.2 430 310Z"/><ellipse cx="475.9" cy="271.5" rx="2.6" ry="8.2" transform="rotate(4 475.9 271.5)"/><ellipse cx="491.8" cy="271.5" rx="3" ry="6"/><ellipse cx="512.2" cy="270.5" rx="3" ry="4.2" transform="rotate(-10 512.2 270.5)"/><ellipse cx="531.2" cy="273.8" rx="5" ry="4.2" transform="rotate(25 531.2 273.8)"/><ellipse cx="454.2" cy="287.7" rx="3.2" ry="3.2"/><ellipse cx="538.4" cy="250.6" rx="2.2" ry="5.4" transform="rotate(8 538.4 250.6)"/><ellipse cx="557.4" cy="241" rx="1.3" ry="5.7"/><ellipse cx="572.6" cy="252.5" rx="1.8" ry="3" transform="rotate(15 572.6 252.5)"/><ellipse cx="586.6" cy="275.4" rx="3.6" ry="7" transform="rotate(8 586.6 275.4)"/><ellipse cx="600" cy="274" rx="2.4" ry="6.2" transform="rotate(-4 600 274)"/><ellipse cx="594.2" cy="266" rx="1.5" ry="1.8"/><ellipse cx="622.1" cy="271.3" rx="1.5" ry="5.7"/><ellipse cx="639.6" cy="251" rx="2" ry="6.4"/><ellipse cx="565.2" cy="318" rx="5.6" ry="3.2" transform="rotate(8 565.2 318)"/><ellipse cx="616.8" cy="297" rx="6.6" ry="5.4"/><ellipse cx="498.2" cy="232" rx="1.6" ry="3.2"/><path d="M581.5 296C581.8 294.8 583.6 293.7 585 293.5C586.4 293.3 588.6 295.2 590 295C591.4 294.8 592.3 292.7 593.5 292.5C594.7 292.3 596.3 292.9 597 294C597.7 295.1 598 297.6 597.5 299C597 300.4 595.5 301.8 594 302.5C592.5 303.2 590.2 303.4 588.5 303.2C586.8 302.9 584.7 302.2 583.5 301C582.3 299.8 581.2 297.2 581.5 296Z"/></g>
<g fill="#050505" stroke="#050505" stroke-width="0.65"><use href="#ar" transform="translate(498.7 228.2) rotate(244)"/><use href="#ar" transform="translate(498.7 233.9) rotate(213)"/><use href="#ar" transform="translate(555.4 233.9) rotate(191)"/><use href="#ar" transform="translate(498.7 239.5) rotate(332)"/><use href="#ar" transform="translate(534.1 245.1) rotate(146)"/><use href="#ar" transform="translate(541.2 245.1) rotate(183)"/><use href="#ar" transform="translate(562.4 245.1) rotate(56)"/><use href="#ar" transform="translate(640.3 245.1) rotate(212)"/><use href="#ar" transform="translate(534.1 250.7) rotate(118)"/><use href="#ar" transform="translate(541.2 250.7) rotate(156)"/><use href="#ar" transform="translate(548.3 250.7) rotate(57)"/><use href="#ar" transform="translate(576.6 250.7) rotate(84)"/><use href="#ar" transform="translate(640.3 250.7) rotate(238)"/><use href="#ar" transform="translate(534.1 256.3) rotate(72)"/><use href="#ar" transform="translate(569.5 256.3) rotate(65)"/><use href="#ar" transform="translate(640.3 256.3) rotate(243)"/><use href="#ar" transform="translate(477.5 262) rotate(271)"/><use href="#ar" transform="translate(590.8 262) rotate(193)"/><use href="#ar" transform="translate(470.4 267.6) rotate(330)"/><use href="#ar" transform="translate(477.5 267.6) rotate(241)"/><use href="#ar" transform="translate(491.6 267.6) rotate(290)"/><use href="#ar" transform="translate(498.7 267.6) rotate(192)"/><use href="#ar" transform="translate(505.8 267.6) rotate(202)"/><use href="#ar" transform="translate(512.9 267.6) rotate(157)"/><use href="#ar" transform="translate(527 267.6) rotate(111)"/><use href="#ar" transform="translate(604.9 267.6) rotate(212)"/><use href="#ar" transform="translate(626.2 267.6) rotate(345)"/><use href="#ar" transform="translate(470.4 273.2) rotate(347)"/><use href="#ar" transform="translate(477.5 273.2) rotate(278)"/><use href="#ar" transform="translate(491.6 273.2) rotate(120)"/><use href="#ar" transform="translate(498.7 273.2) rotate(176)"/><use href="#ar" transform="translate(505.8 273.2) rotate(140)"/><use href="#ar" transform="translate(512.9 273.2) rotate(148)"/><use href="#ar" transform="translate(520 273.2) rotate(169)"/><use href="#ar" transform="translate(527 273.2) rotate(183)"/><use href="#ar" transform="translate(534.1 273.2) rotate(161)"/><use href="#ar" transform="translate(583.7 273.2) rotate(134)"/><use href="#ar" transform="translate(590.8 273.2) rotate(196)"/><use href="#ar" transform="translate(597.8 273.2) rotate(236)"/><use href="#ar" transform="translate(604.9 273.2) rotate(307)"/><use href="#ar" transform="translate(619.1 273.2) rotate(313)"/><use href="#ar" transform="translate(470.4 278.8) rotate(306)"/><use href="#ar" transform="translate(477.5 278.8) rotate(224)"/><use href="#ar" transform="translate(484.6 278.8) rotate(184)"/><use href="#ar" transform="translate(491.6 278.8) rotate(190)"/><use href="#ar" transform="translate(512.9 278.8) rotate(135)"/><use href="#ar" transform="translate(583.7 278.8) rotate(235)"/><use href="#ar" transform="translate(590.8 278.8) rotate(248)"/><use href="#ar" transform="translate(597.8 278.8) rotate(210)"/><use href="#ar" transform="translate(590.8 284.4) rotate(240)"/><use href="#ar" transform="translate(456.2 290.1) rotate(232)"/><use href="#ar" transform="translate(612 290.1) rotate(270)"/><use href="#ar" transform="translate(548.3 295.7) rotate(64)"/><use href="#ar" transform="translate(583.7 295.7) rotate(215)"/><use href="#ar" transform="translate(590.8 295.7) rotate(302)"/><use href="#ar" transform="translate(597.8 295.7) rotate(0)"/><use href="#ar" transform="translate(612 295.7) rotate(342)"/><use href="#ar" transform="translate(619.1 295.7) rotate(326)"/><use href="#ar" transform="translate(541.2 301.3) rotate(300)"/><use href="#ar" transform="translate(548.3 301.3) rotate(300)"/><use href="#ar" transform="translate(590.8 301.3) rotate(333)"/><use href="#ar" transform="translate(597.8 301.3) rotate(254)"/><use href="#ar" transform="translate(619.1 301.3) rotate(194)"/><use href="#ar" transform="translate(626.2 301.3) rotate(146)"/><use href="#ar" transform="translate(534.1 306.9) rotate(191)"/><use href="#ar" transform="translate(541.2 306.9) rotate(300)"/><use href="#ar" transform="translate(548.3 306.9) rotate(300)"/><use href="#ar" transform="translate(590.8 306.9) rotate(303)"/><use href="#ar" transform="translate(435 312.5) rotate(222)"/><use href="#ar" transform="translate(456.2 312.5) rotate(103)"/><use href="#ar" transform="translate(505.8 312.5) rotate(222)"/><use href="#ar" transform="translate(527 312.5) rotate(168)"/><use href="#ar" transform="translate(534.1 312.5) rotate(300)"/><use href="#ar" transform="translate(541.2 312.5) rotate(300)"/><use href="#ar" transform="translate(548.3 312.5) rotate(300)"/><use href="#ar" transform="translate(435 318.2) rotate(222)"/><use href="#ar" transform="translate(442.1 318.2) rotate(222)"/><use href="#ar" transform="translate(449.2 318.2) rotate(222)"/><use href="#ar" transform="translate(456.2 318.2) rotate(222)"/><use href="#ar" transform="translate(463.3 318.2) rotate(222)"/><use href="#ar" transform="translate(470.4 318.2) rotate(92)"/><use href="#ar" transform="translate(484.6 318.2) rotate(222)"/><use href="#ar" transform="translate(491.6 318.2) rotate(222)"/><use href="#ar" transform="translate(498.7 318.2) rotate(222)"/><use href="#ar" transform="translate(505.8 318.2) rotate(222)"/><use href="#ar" transform="translate(512.9 318.2) rotate(238)"/><use href="#ar" transform="translate(527 318.2) rotate(165)"/><use href="#ar" transform="translate(534.1 318.2) rotate(165)"/><use href="#ar" transform="translate(541.2 318.2) rotate(165)"/><use href="#ar" transform="translate(548.3 318.2) rotate(165)"/><use href="#ar" transform="translate(555.4 318.2) rotate(145)"/><use href="#ar" transform="translate(562.4 318.2) rotate(280)"/><use href="#ar" transform="translate(569.5 318.2) rotate(287)"/><use href="#ar" transform="translate(435 323.8) rotate(222)"/><use href="#ar" transform="translate(449.2 323.8) rotate(98)"/><use href="#ar" transform="translate(456.2 323.8) rotate(222)"/><use href="#ar" transform="translate(463.3 323.8) rotate(222)"/><use href="#ar" transform="translate(470.4 323.8) rotate(222)"/><use href="#ar" transform="translate(477.5 323.8) rotate(222)"/><use href="#ar" transform="translate(484.6 323.8) rotate(222)"/><use href="#ar" transform="translate(491.6 323.8) rotate(222)"/><use href="#ar" transform="translate(498.7 323.8) rotate(222)"/><use href="#ar" transform="translate(505.8 323.8) rotate(205)"/><use href="#ar" transform="translate(512.9 323.8) rotate(161)"/><use href="#ar" transform="translate(527 323.8) rotate(165)"/><use href="#ar" transform="translate(534.1 323.8) rotate(165)"/><use href="#ar" transform="translate(541.2 323.8) rotate(165)"/><use href="#ar" transform="translate(548.3 323.8) rotate(165)"/><use href="#ar" transform="translate(555.4 323.8) rotate(303)"/><use href="#ar" transform="translate(562.4 323.8) rotate(283)"/><use href="#ar" transform="translate(456.2 329.4) rotate(321)"/><use href="#ar" transform="translate(470.4 329.4) rotate(222)"/><use href="#ar" transform="translate(477.5 329.4) rotate(222)"/><use href="#ar" transform="translate(484.6 329.4) rotate(222)"/><use href="#ar" transform="translate(498.7 329.4) rotate(299)"/><use href="#ar" transform="translate(505.8 329.4) rotate(278)"/><use href="#ar" transform="translate(512.9 329.4) rotate(171)"/><use href="#ar" transform="translate(520 329.4) rotate(165)"/><use href="#ar" transform="translate(527 329.4) rotate(165)"/><use href="#ar" transform="translate(534.1 329.4) rotate(165)"/><use href="#ar" transform="translate(541.2 329.4) rotate(165)"/><use href="#ar" transform="translate(548.3 329.4) rotate(165)"/><use href="#ar" transform="translate(470.4 335) rotate(180)"/><use href="#ar" transform="translate(477.5 335) rotate(180)"/><use href="#ar" transform="translate(484.6 335) rotate(180)"/><use href="#ar" transform="translate(491.6 335) rotate(180)"/><use href="#ar" transform="translate(498.7 335) rotate(180)"/><use href="#ar" transform="translate(505.8 335) rotate(180)"/><use href="#ar" transform="translate(512.9 335) rotate(180)"/><use href="#ar" transform="translate(520 335) rotate(180)"/><use href="#ar" transform="translate(527 335) rotate(180)"/><use href="#ar" transform="translate(534.1 335) rotate(180)"/><use href="#ar" transform="translate(541.2 335) rotate(180)"/><use href="#ar" transform="translate(548.3 335) rotate(180)"/><use href="#ar" transform="translate(555.4 335) rotate(180)"/><use href="#ar" transform="translate(562.4 335) rotate(180)"/><use href="#ar" transform="translate(569.5 335) rotate(150)"/><use href="#ar" transform="translate(590.8 335) rotate(157)"/><use href="#ar" transform="translate(597.8 335) rotate(216)"/><use href="#ar" transform="translate(442.1 340.6) rotate(340)"/><use href="#ar" transform="translate(449.2 340.6) rotate(2)"/><use href="#ar" transform="translate(456.2 340.6) rotate(180)"/><use href="#ar" transform="translate(463.3 340.6) rotate(180)"/><use href="#ar" transform="translate(470.4 340.6) rotate(180)"/><use href="#ar" transform="translate(477.5 340.6) rotate(180)"/><use href="#ar" transform="translate(484.6 340.6) rotate(180)"/><use href="#ar" transform="translate(491.6 340.6) rotate(180)"/><use href="#ar" transform="translate(498.7 340.6) rotate(180)"/><use href="#ar" transform="translate(505.8 340.6) rotate(180)"/><use href="#ar" transform="translate(512.9 340.6) rotate(180)"/><use href="#ar" transform="translate(520 340.6) rotate(180)"/><use href="#ar" transform="translate(527 340.6) rotate(180)"/><use href="#ar" transform="translate(534.1 340.6) rotate(180)"/><use href="#ar" transform="translate(541.2 340.6) rotate(180)"/><use href="#ar" transform="translate(548.3 340.6) rotate(180)"/><use href="#ar" transform="translate(555.4 340.6) rotate(180)"/><use href="#ar" transform="translate(562.4 340.6) rotate(180)"/><use href="#ar" transform="translate(569.5 340.6) rotate(150)"/><use href="#ar" transform="translate(576.6 340.6) rotate(150)"/><use href="#ar" transform="translate(583.7 340.6) rotate(150)"/><use href="#ar" transform="translate(590.8 340.6) rotate(150)"/><use href="#ar" transform="translate(597.8 340.6) rotate(150)"/><use href="#ar" transform="translate(435 346.3) rotate(180)"/><use href="#ar" transform="translate(442.1 346.3) rotate(180)"/><use href="#ar" transform="translate(449.2 346.3) rotate(180)"/><use href="#ar" transform="translate(456.2 346.3) rotate(180)"/><use href="#ar" transform="translate(463.3 346.3) rotate(180)"/><use href="#ar" transform="translate(470.4 346.3) rotate(180)"/><use href="#ar" transform="translate(477.5 346.3) rotate(180)"/><use href="#ar" transform="translate(484.6 346.3) rotate(180)"/><use href="#ar" transform="translate(491.6 346.3) rotate(180)"/><use href="#ar" transform="translate(498.7 346.3) rotate(180)"/><use href="#ar" transform="translate(505.8 346.3) rotate(180)"/><use href="#ar" transform="translate(512.9 346.3) rotate(180)"/><use href="#ar" transform="translate(520 346.3) rotate(180)"/><use href="#ar" transform="translate(527 346.3) rotate(180)"/><use href="#ar" transform="translate(534.1 346.3) rotate(180)"/><use href="#ar" transform="translate(541.2 346.3) rotate(180)"/><use href="#ar" transform="translate(548.3 346.3) rotate(180)"/><use href="#ar" transform="translate(555.4 346.3) rotate(180)"/><use href="#ar" transform="translate(562.4 346.3) rotate(180)"/><use href="#ar" transform="translate(569.5 346.3) rotate(150)"/><use href="#ar" transform="translate(576.6 346.3) rotate(150)"/><use href="#ar" transform="translate(583.7 346.3) rotate(150)"/><use href="#ar" transform="translate(590.8 346.3) rotate(150)"/><use href="#ar" transform="translate(597.8 346.3) rotate(150)"/><use href="#ar" transform="translate(435 351.9) rotate(180)"/><use href="#ar" transform="translate(442.1 351.9) rotate(180)"/><use href="#ar" transform="translate(449.2 351.9) rotate(180)"/><use href="#ar" transform="translate(456.2 351.9) rotate(180)"/><use href="#ar" transform="translate(463.3 351.9) rotate(180)"/><use href="#ar" transform="translate(470.4 351.9) rotate(180)"/><use href="#ar" transform="translate(477.5 351.9) rotate(180)"/><use href="#ar" transform="translate(484.6 351.9) rotate(180)"/><use href="#ar" transform="translate(491.6 351.9) rotate(180)"/><use href="#ar" transform="translate(498.7 351.9) rotate(180)"/><use href="#ar" transform="translate(505.8 351.9) rotate(180)"/><use href="#ar" transform="translate(512.9 351.9) rotate(180)"/><use href="#ar" transform="translate(520 351.9) rotate(180)"/><use href="#ar" transform="translate(527 351.9) rotate(180)"/><use href="#ar" transform="translate(534.1 351.9) rotate(180)"/><use href="#ar" transform="translate(541.2 351.9) rotate(180)"/><use href="#ar" transform="translate(548.3 351.9) rotate(180)"/><use href="#ar" transform="translate(555.4 351.9) rotate(180)"/><use href="#ar" transform="translate(562.4 351.9) rotate(180)"/><use href="#ar" transform="translate(569.5 351.9) rotate(150)"/><use href="#ar" transform="translate(576.6 351.9) rotate(150)"/><use href="#ar" transform="translate(583.7 351.9) rotate(150)"/><use href="#ar" transform="translate(590.8 351.9) rotate(150)"/><use href="#ar" transform="translate(597.8 351.9) rotate(150)"/><use href="#ar" transform="translate(604.9 351.9) rotate(150)"/><use href="#ar" transform="translate(612 351.9) rotate(35)"/><use href="#ar" transform="translate(435 357.5) rotate(180)"/><use href="#ar" transform="translate(442.1 357.5) rotate(180)"/><use href="#ar" transform="translate(449.2 357.5) rotate(180)"/><use href="#ar" transform="translate(456.2 357.5) rotate(180)"/><use href="#ar" transform="translate(463.3 357.5) rotate(180)"/><use href="#ar" transform="translate(470.4 357.5) rotate(180)"/><use href="#ar" transform="translate(477.5 357.5) rotate(180)"/><use href="#ar" transform="translate(484.6 357.5) rotate(180)"/><use href="#ar" transform="translate(491.6 357.5) rotate(180)"/><use href="#ar" transform="translate(498.7 357.5) rotate(180)"/><use href="#ar" transform="translate(505.8 357.5) rotate(180)"/><use href="#ar" transform="translate(512.9 357.5) rotate(180)"/><use href="#ar" transform="translate(520 357.5) rotate(180)"/><use href="#ar" transform="translate(527 357.5) rotate(180)"/><use href="#ar" transform="translate(534.1 357.5) rotate(180)"/><use href="#ar" transform="translate(541.2 357.5) rotate(180)"/><use href="#ar" transform="translate(548.3 357.5) rotate(180)"/><use href="#ar" transform="translate(555.4 357.5) rotate(180)"/><use href="#ar" transform="translate(562.4 357.5) rotate(180)"/><use href="#ar" transform="translate(569.5 357.5) rotate(180)"/><use href="#ar" transform="translate(576.6 357.5) rotate(180)"/><use href="#ar" transform="translate(583.7 357.5) rotate(180)"/><use href="#ar" transform="translate(590.8 357.5) rotate(180)"/><use href="#ar" transform="translate(597.8 357.5) rotate(180)"/><use href="#ar" transform="translate(604.9 357.5) rotate(180)"/><use href="#ar" transform="translate(612 357.5) rotate(144)"/><use href="#ar" transform="translate(435 363.1) rotate(180)"/><use href="#ar" transform="translate(442.1 363.1) rotate(180)"/><use href="#ar" transform="translate(449.2 363.1) rotate(180)"/><use href="#ar" transform="translate(456.2 363.1) rotate(180)"/><use href="#ar" transform="translate(463.3 363.1) rotate(180)"/><use href="#ar" transform="translate(470.4 363.1) rotate(180)"/><use href="#ar" transform="translate(477.5 363.1) rotate(180)"/><use href="#ar" transform="translate(484.6 363.1) rotate(180)"/><use href="#ar" transform="translate(491.6 363.1) rotate(180)"/><use href="#ar" transform="translate(498.7 363.1) rotate(180)"/><use href="#ar" transform="translate(505.8 363.1) rotate(180)"/><use href="#ar" transform="translate(512.9 363.1) rotate(180)"/><use href="#ar" transform="translate(520 363.1) rotate(180)"/><use href="#ar" transform="translate(527 363.1) rotate(180)"/><use href="#ar" transform="translate(534.1 363.1) rotate(180)"/><use href="#ar" transform="translate(541.2 363.1) rotate(180)"/><use href="#ar" transform="translate(548.3 363.1) rotate(180)"/><use href="#ar" transform="translate(555.4 363.1) rotate(180)"/><use href="#ar" transform="translate(562.4 363.1) rotate(180)"/><use href="#ar" transform="translate(569.5 363.1) rotate(180)"/><use href="#ar" transform="translate(576.6 363.1) rotate(180)"/><use href="#ar" transform="translate(583.7 363.1) rotate(180)"/><use href="#ar" transform="translate(590.8 363.1) rotate(180)"/><use href="#ar" transform="translate(597.8 363.1) rotate(60)"/><use href="#ar" transform="translate(604.9 363.1) rotate(38)"/><use href="#ar" transform="translate(442.1 368.7) rotate(244)"/><use href="#ar" transform="translate(463.3 368.7) rotate(180)"/><use href="#ar" transform="translate(470.4 368.7) rotate(180)"/><use href="#ar" transform="translate(477.5 368.7) rotate(180)"/><use href="#ar" transform="translate(484.6 368.7) rotate(180)"/><use href="#ar" transform="translate(491.6 368.7) rotate(180)"/><use href="#ar" transform="translate(498.7 368.7) rotate(180)"/><use href="#ar" transform="translate(505.8 368.7) rotate(180)"/><use href="#ar" transform="translate(512.9 368.7) rotate(180)"/><use href="#ar" transform="translate(520 368.7) rotate(180)"/><use href="#ar" transform="translate(527 368.7) rotate(180)"/><use href="#ar" transform="translate(534.1 368.7) rotate(180)"/><use href="#ar" transform="translate(541.2 368.7) rotate(180)"/><use href="#ar" transform="translate(548.3 368.7) rotate(180)"/><use href="#ar" transform="translate(555.4 368.7) rotate(180)"/><use href="#ar" transform="translate(562.4 368.7) rotate(180)"/><use href="#ar" transform="translate(569.5 368.7) rotate(180)"/><use href="#ar" transform="translate(576.6 368.7) rotate(180)"/><use href="#ar" transform="translate(583.7 368.7) rotate(124)"/><use href="#ar" transform="translate(470.4 374.4) rotate(307)"/><use href="#ar" transform="translate(484.6 374.4) rotate(150)"/><use href="#ar" transform="translate(491.6 374.4) rotate(150)"/><use href="#ar" transform="translate(498.7 374.4) rotate(150)"/><use href="#ar" transform="translate(505.8 374.4) rotate(150)"/><use href="#ar" transform="translate(512.9 374.4) rotate(150)"/><use href="#ar" transform="translate(520 374.4) rotate(150)"/><use href="#ar" transform="translate(527 374.4) rotate(150)"/><use href="#ar" transform="translate(534.1 374.4) rotate(150)"/><use href="#ar" transform="translate(541.2 374.4) rotate(150)"/><use href="#ar" transform="translate(548.3 374.4) rotate(150)"/><use href="#ar" transform="translate(555.4 374.4) rotate(150)"/><use href="#ar" transform="translate(562.4 374.4) rotate(92)"/><use href="#ar" transform="translate(456.2 380) rotate(337)"/><use href="#ar" transform="translate(463.3 380) rotate(150)"/><use href="#ar" transform="translate(470.4 380) rotate(150)"/><use href="#ar" transform="translate(477.5 380) rotate(150)"/><use href="#ar" transform="translate(484.6 380) rotate(150)"/><use href="#ar" transform="translate(491.6 380) rotate(150)"/><use href="#ar" transform="translate(498.7 380) rotate(150)"/><use href="#ar" transform="translate(505.8 380) rotate(150)"/><use href="#ar" transform="translate(512.9 380) rotate(150)"/><use href="#ar" transform="translate(520 380) rotate(150)"/><use href="#ar" transform="translate(527 380) rotate(150)"/><use href="#ar" transform="translate(534.1 380) rotate(150)"/><use href="#ar" transform="translate(541.2 380) rotate(201)"/><use href="#ar" transform="translate(442.1 385.6) rotate(150)"/><use href="#ar" transform="translate(449.2 385.6) rotate(150)"/><use href="#ar" transform="translate(456.2 385.6) rotate(150)"/><use href="#ar" transform="translate(463.3 385.6) rotate(150)"/><use href="#ar" transform="translate(470.4 385.6) rotate(150)"/><use href="#ar" transform="translate(477.5 385.6) rotate(150)"/><use href="#ar" transform="translate(484.6 385.6) rotate(150)"/><use href="#ar" transform="translate(491.6 385.6) rotate(150)"/><use href="#ar" transform="translate(498.7 385.6) rotate(150)"/><use href="#ar" transform="translate(505.8 385.6) rotate(150)"/><use href="#ar" transform="translate(512.9 385.6) rotate(150)"/><use href="#ar" transform="translate(520 385.6) rotate(339)"/><use href="#ar" transform="translate(527 385.6) rotate(274)"/></g>
<path d="M431.4 213H643.3V389.7H431.4ZM431.8 213 L431.8 216 L431.8 219 L431.9 222 L431.9 225 L432 228 L432 231 L432.1 234 L432.2 237 L432.3 240 L432.3 243 L432.4 246 L432.5 249 L432.7 252 L432.8 255 L432.9 258 L433.1 261 L433.2 264 L433.4 267 L433.6 270 L433.9 273 L434.1 276 L434.4 279 L434.7 282 L435 285 L435.3 288 L435.7 291 L436.2 294 L436.6 297 L437.2 300 L437.7 303 L438.4 306 L439.1 309 L439.8 312 L440.7 315 L441.6 318 L442.6 321 L443.7 324 L444.9 327 L446.3 330 L447.8 333 L449.4 336 L451.2 339 L453.2 342 L455.3 345 L457.7 348 L460.3 351 L463.2 354 L466.4 357 L469.9 360 L473.7 363 L477.9 366 L482.6 369 L487.7 372 L493.3 375 L499.4 378 L506.2 381 L513.6 384 L521.8 387 L529.9 389.7 L544.8 389.7 L552.9 387 L561.1 384 L568.5 381 L575.3 378 L581.4 375 L587 372 L592.1 369 L596.8 366 L601 363 L604.8 360 L608.3 357 L611.5 354 L614.4 351 L617 348 L619.4 345 L621.5 342 L623.5 339 L625.3 336 L626.9 333 L628.4 330 L629.8 327 L631 324 L632.1 321 L633.1 318 L634 315 L634.9 312 L635.6 309 L636.3 306 L637 303 L637.5 300 L638.1 297 L638.5 294 L639 291 L639.4 288 L639.7 285 L640 282 L640.3 279 L640.6 276 L640.8 273 L641.1 270 L641.3 267 L641.5 264 L641.6 261 L641.8 258 L641.9 255 L642 252 L642.2 249 L642.3 246 L642.4 243 L642.4 240 L642.5 237 L642.6 234 L642.7 231 L642.7 228 L642.8 225 L642.8 222 L642.9 219 L642.9 216 L642.9 213Z" fill="#fff" fill-rule="evenodd" opacity=".52"/>
<path d="M431.8 213 L431.8 216 L431.8 219 L431.9 222 L431.9 225 L432 228 L432 231 L432.1 234 L432.2 237 L432.3 240 L432.3 243 L432.4 246 L432.5 249 L432.7 252 L432.8 255 L432.9 258 L433.1 261 L433.2 264 L433.4 267 L433.6 270 L433.9 273 L434.1 276 L434.4 279 L434.7 282 L435 285 L435.3 288 L435.7 291 L436.2 294 L436.6 297 L437.2 300 L437.7 303 L438.4 306 L439.1 309 L439.8 312 L440.7 315 L441.6 318 L442.6 321 L443.7 324 L444.9 327 L446.3 330 L447.8 333 L449.4 336 L451.2 339 L453.2 342 L455.3 345 L457.7 348 L460.3 351 L463.2 354 L466.4 357 L469.9 360 L473.7 363 L477.9 366 L482.6 369 L487.7 372 L493.3 375 L499.4 378 L506.2 381 L513.6 384 L521.8 387 L529.9 389.7 L544.8 389.7 L552.9 387 L561.1 384 L568.5 381 L575.3 378 L581.4 375 L587 372 L592.1 369 L596.8 366 L601 363 L604.8 360 L608.3 357 L611.5 354 L614.4 351 L617 348 L619.4 345 L621.5 342 L623.5 339 L625.3 336 L626.9 333 L628.4 330 L629.8 327 L631 324 L632.1 321 L633.1 318 L634 315 L634.9 312 L635.6 309 L636.3 306 L637 303 L637.5 300 L638.1 297 L638.5 294 L639 291 L639.4 288 L639.7 285 L640 282 L640.3 279 L640.6 276 L640.8 273 L641.1 270 L641.3 267 L641.5 264 L641.6 261 L641.8 258 L641.9 255 L642 252 L642.2 249 L642.3 246 L642.4 243 L642.4 240 L642.5 237 L642.6 234 L642.7 231 L642.7 228 L642.8 225 L642.8 222 L642.9 219 L642.9 216 L642.9 213" fill="none" stroke="#222" stroke-width=".6"/>
</g>
<rect x="431.4" y="213" width="211.9" height="176.7" fill="none" stroke="#333" stroke-width=".7"/>
<text x="371.5" y="219.8" font-size="13.6" fill="#1a1a1a">(e)</text>
<text x="478" y="205.8" font-size="12" letter-spacing="-.3" fill="#333">WC <tspan font-family='"Liberation Serif", "DejaVu Serif", serif' font-size="14.2" letter-spacing=".62">(1<tspan dy="2.6" font-size="10.6" font-style="italic">m−h</tspan><tspan dy="-2.6" font-style="italic"> and </tspan>8<tspan dy="2.6" font-size="10.6" font-style="italic">m−h</tspan><tspan dy="-2.6"> )</tspan></tspan></text>
<text x="654" y="190.6" font-size="9" text-anchor="middle" font-weight="bold" fill="#333">Correlation or</text>
<text x="654" y="203.2" font-size="9" text-anchor="middle" font-weight="bold" fill="#333">WC value</text>
<rect x="650.3" y="212.4" width="11.4" height="177.5" fill="url(#pg)" stroke="#444" stroke-width=".5"/>
<g font-size="5.6" fill="#3a3a3a"><text x="665.3" y="214.6">1</text><text x="665.3" y="232.4">0.9</text><text x="665.3" y="250.1">0.8</text><text x="665.3" y="267.8">0.7</text><text x="665.3" y="285.6">0.6</text><text x="665.3" y="303.3">0.5</text><text x="665.3" y="321.1">0.4</text><text x="665.3" y="338.8">0.3</text><text x="665.3" y="356.5">0.2</text><text x="665.3" y="374.3">0.1</text><text x="665.3" y="392">0</text></g>
<path d="M661.7 212.6h-1.8M661.7 230.3h-1.8M661.7 248.1h-1.8M661.7 265.8h-1.8M661.7 283.6h-1.8M661.7 301.3h-1.8M661.7 319h-1.8M661.7 336.8h-1.8M661.7 354.5h-1.8M661.7 372.3h-1.8M661.7 390h-1.8" stroke="#333" stroke-width=".5"/>
<g font-size="8.2" fill="#262626" text-anchor="end"><text x="425" y="217.3">4.5</text><text x="425" y="239.2">0.26</text><text x="425" y="261.1">0.13</text><text x="425" y="283">0.06</text><text x="425" y="304.9">0.03</text><text x="425" y="326.8">0.02</text><text x="425" y="348.7">0.008</text><text x="425" y="370.6">0.005</text></g>
<text x="398.5" y="304" font-size="9.9" text-anchor="middle" fill="#262626" transform="rotate(-90 398.5 304)">Frequency ( Hz )</text>
<g font-size="8.2" fill="#333" text-anchor="middle"><text x="444" y="402.8">40</text><text x="472.4" y="402.8">80</text><text x="500.9" y="402.8">120</text><text x="529.3" y="402.8">160</text><text x="557.7" y="402.8">200</text><text x="586.1" y="402.8">240</text><text x="614.6" y="402.8">280</text></g>
<text x="545.7" y="413.4" font-size="8.4" text-anchor="middle" fill="#333">time (s)</text>
</g>
<g id="pi">
<g clip-path="url(#cpi)">
<g filter="url(#hfi)">
<rect x="45.8" y="624" width="219.6" height="198.5" fill="url(#bgi)"/>
<path d="M48.3 626 L48.4 629 L48.4 632 L48.5 635 L48.5 638 L48.6 641 L48.6 644 L48.7 647 L48.8 650 L48.9 653 L49 656 L49.1 659 L49.2 662 L49.3 665 L49.4 668 L49.6 671 L49.7 674 L49.9 677 L50.1 680 L50.2 683 L50.5 686 L50.7 689 L50.9 692 L51.2 695 L51.5 698 L51.8 701 L52.1 704 L52.5 707 L52.9 710 L53.4 713 L53.8 716 L54.4 719 L54.9 722 L55.5 725 L56.2 728 L56.9 731 L57.7 734 L58.5 737 L59.5 740 L60.5 743 L61.5 746 L62.7 749 L64 752 L65.4 755 L66.9 758 L68.5 761 L70.3 764 L72.2 767 L74.3 770 L76.6 773 L79 776 L81.7 779 L84.6 782 L87.8 785 L91.2 788 L94.9 791 L99 794 L103.3 797 L108.1 800 L113.3 803 L118.9 806 L125 809 L131.6 812 L138.8 815 L146.6 818 L153.6 820.5 L157.6 820.5 L164.6 818 L172.4 815 L179.6 812 L186.2 809 L192.3 806 L197.9 803 L203.1 800 L207.9 797 L212.2 794 L216.3 791 L220 788 L223.4 785 L226.6 782 L229.5 779 L232.2 776 L234.6 773 L236.9 770 L239 767 L240.9 764 L242.7 761 L244.3 758 L245.8 755 L247.2 752 L248.5 749 L249.7 746 L250.7 743 L251.7 740 L252.7 737 L253.5 734 L254.3 731 L255 728 L255.7 725 L256.3 722 L256.8 719 L257.4 716 L257.8 713 L258.3 710 L258.7 707 L259.1 704 L259.4 701 L259.7 698 L260 695 L260.3 692 L260.5 689 L260.7 686 L261 683 L261.1 680 L261.3 677 L261.5 674 L261.6 671 L261.8 668 L261.9 665 L262 662 L262.1 659 L262.2 656 L262.3 653 L262.4 650 L262.5 647 L262.6 644 L262.6 641 L262.7 638 L262.7 635 L262.8 632 L262.8 629 L262.9 626Z" fill="url(#bgiin)"/>
<ellipse cx="98" cy="752" rx="38" ry="3.5" fill="rgb(69,0,0)" filter="url(#b0)"/>
<ellipse cx="120" cy="759" rx="25" ry="3" fill="rgb(51,0,0)" filter="url(#b0)"/>
<ellipse cx="185" cy="756" rx="55" ry="4" fill="rgb(69,0,0)" filter="url(#b0)"/>
<ellipse cx="232" cy="752" rx="22" ry="3.5" fill="rgb(64,0,0)" filter="url(#b0)"/>
<ellipse cx="80" cy="760" rx="14" ry="8" fill="rgb(56,0,0)" filter="url(#b1)"/>
<ellipse cx="240" cy="765" rx="14" ry="8" fill="rgb(51,0,0)" filter="url(#b1)"/>
<ellipse cx="110" cy="726" rx="6" ry="7" fill="rgb(43,0,0)" filter="url(#b0)"/>
<ellipse cx="62" cy="705" rx="4" ry="8" fill="rgb(38,0,0)" filter="url(#b0)"/>
<ellipse cx="150" cy="790" rx="62" ry="3" fill="rgb(76,0,0)" filter="url(#b0)"/>
<ellipse cx="120" cy="797" rx="30" ry="2.5" fill="rgb(84,0,0)" filter="url(#b0)"/>
<ellipse cx="200" cy="798" rx="30" ry="3" fill="rgb(76,0,0)" filter="url(#b0)"/>
<ellipse cx="157" cy="806" rx="62" ry="9" fill="rgb(107,0,0)" filter="url(#b1)"/>
<ellipse cx="157" cy="810" rx="50" ry="6" fill="rgb(140,0,0)" filter="url(#b1)"/>
<ellipse cx="130" cy="807" rx="30" ry="5" fill="rgb(158,0,0)" filter="url(#b1)"/>
<ellipse cx="155" cy="816" rx="34" ry="4" fill="rgb(184,0,0)" filter="url(#b0)"/>
<ellipse cx="155" cy="820" rx="20" ry="3" fill="rgb(224,0,0)" filter="url(#b0)"/>
<ellipse cx="150" cy="777" rx="50" ry="5" fill="rgb(8,0,0)" filter="url(#b1)"/>
</g>
<g fill="#050505"><rect x="96.6" y="648.1" width="1.2" height="11.6" rx="0.5"/><rect x="65.7" y="629.3" width="2.6" height="9.3" rx="1.2"/><rect x="185" y="633.8" width="1.7" height="12.1" rx="0.8"/><rect x="89.3" y="644" width="1.1" height="7.7" rx="0.5"/><rect x="52.2" y="629.7" width="1.7" height="17.8" rx="0.8"/><rect x="129.1" y="627.1" width="1.4" height="19.6" rx="0.6"/><rect x="61.5" y="638" width="1.6" height="13.2" rx="0.7"/><rect x="120.2" y="639.9" width="1.8" height="12.7" rx="0.8"/><rect x="240.7" y="636.9" width="1.2" height="6.7" rx="0.6"/><rect x="250.2" y="634.6" width="1.3" height="17.2" rx="0.6"/><rect x="171.3" y="641" width="2.4" height="8.6" rx="1.1"/><rect x="124.4" y="645.5" width="1.2" height="12.7" rx="0.6"/><rect x="68.6" y="639.9" width="2.1" height="15.9" rx="1"/><rect x="228.3" y="634.9" width="1.3" height="7.9" rx="0.6"/><rect x="161.2" y="635.1" width="1.1" height="16.6" rx="0.5"/><rect x="156.5" y="640.2" width="1.4" height="8.3" rx="0.6"/><rect x="50.6" y="631.2" width="1.4" height="11.7" rx="0.6"/><rect x="128.1" y="644.1" width="2.4" height="7.1" rx="1.1"/><rect x="132.4" y="627.9" width="2.1" height="19.2" rx="0.9"/><rect x="91.2" y="642.1" width="1.5" height="5.7" rx="0.7"/><rect x="211.4" y="631.2" width="1.3" height="11.8" rx="0.6"/><rect x="97.4" y="632.7" width="1.7" height="11.4" rx="0.8"/><rect x="173.9" y="630.1" width="1.2" height="7.7" rx="0.5"/><rect x="70.8" y="635.4" width="1.6" height="15.4" rx="0.7"/><rect x="155.4" y="640.4" width="2.6" height="6.4" rx="1.2"/><rect x="51.6" y="627.5" width="1.6" height="14.2" rx="0.7"/><rect x="206.4" y="631.4" width="2.5" height="6.5" rx="1.2"/><rect x="226.1" y="628.6" width="2.4" height="7.2" rx="1.1"/><rect x="253.7" y="641.9" width="2.6" height="11.6" rx="1.2"/><rect x="85.9" y="648.4" width="1.7" height="5.8" rx="0.8"/><rect x="177.2" y="634.8" width="1.8" height="8" rx="0.8"/><rect x="74" y="636.9" width="1.7" height="7.4" rx="0.8"/><rect x="141.6" y="640.9" width="2.1" height="10.6" rx="1"/><rect x="132.2" y="631.6" width="1.4" height="8.9" rx="0.6"/><rect x="143" y="627" width="2.2" height="16" rx="1"/><rect x="178.6" y="626.1" width="1.6" height="12.6" rx="0.7"/><rect x="67.6" y="648.3" width="2.2" height="9.7" rx="1"/><rect x="198.7" y="628.5" width="1.4" height="13.4" rx="0.6"/><rect x="207.2" y="638.7" width="1" height="12.5" rx="0.5"/><rect x="241.7" y="641.4" width="2.5" height="15.8" rx="1.1"/><rect x="95.6" y="630.3" width="1.9" height="18.6" rx="0.9"/><rect x="126.5" y="647.4" width="2.4" height="9.9" rx="1.1"/><rect x="181.2" y="647.9" width="2.3" height="7.8" rx="1"/><rect x="228.6" y="628.4" width="1.6" height="18.9" rx="0.7"/><rect x="229" y="630.6" width="1.5" height="14.1" rx="0.7"/><rect x="227.5" y="639.7" width="2.5" height="13.6" rx="1.1"/><rect x="223.4" y="637.5" width="1.6" height="10.7" rx="0.7"/><rect x="152.3" y="635.6" width="2.3" height="9.2" rx="1.1"/><rect x="62.7" y="641.1" width="1.4" height="10" rx="0.7"/><rect x="73.1" y="644" width="1.4" height="8.3" rx="0.7"/><rect x="219.9" y="634.9" width="1.4" height="16.4" rx="0.7"/><rect x="135.5" y="631.6" width="2.5" height="16" rx="1.2"/><rect x="207.3" y="629.3" width="2.3" height="14.1" rx="1"/><rect x="224.9" y="631.8" width="2.2" height="16" rx="1"/><rect x="130.5" y="638.9" width="2.2" height="16.6" rx="1"/><rect x="244.8" y="642.7" width="1.2" height="11.7" rx="0.6"/><rect x="194.3" y="626.8" width="1.7" height="18.1" rx="0.8"/><rect x="241.6" y="646.9" width="1.1" height="10.9" rx="0.5"/><rect x="232.8" y="638.8" width="1.5" height="6.3" rx="0.7"/><rect x="244.2" y="644.9" width="2" height="8.9" rx="0.9"/><rect x="224.7" y="643.5" width="2.2" height="11.5" rx="1"/><rect x="116.2" y="630.3" width="1.6" height="10.6" rx="0.7"/><rect x="158.8" y="627.1" width="2.2" height="11.4" rx="1"/><rect x="82.1" y="629.4" width="1.6" height="12" rx="0.7"/><rect x="215.2" y="626.9" width="1.4" height="10.7" rx="0.6"/><rect x="86" y="641.6" width="1.2" height="6.1" rx="0.5"/><rect x="166.4" y="641.2" width="2.3" height="11.5" rx="1.1"/><rect x="117.5" y="645.6" width="2.2" height="9.9" rx="1"/><rect x="167.7" y="647.3" width="2.6" height="13.9" rx="1.2"/><rect x="76.3" y="630.9" width="1.7" height="8.6" rx="0.8"/><rect x="210.4" y="626.5" width="2.4" height="14.5" rx="1.1"/><rect x="178.7" y="632.8" width="2.5" height="13.2" rx="1.1"/><rect x="239.3" y="646.9" width="2.1" height="14.5" rx="1"/><rect x="152.2" y="631.7" width="2.4" height="12.8" rx="1.1"/><rect x="113.9" y="639.6" width="1.8" height="7.1" rx="0.8"/><rect x="226.5" y="634.8" width="2.6" height="12.4" rx="1.2"/><rect x="248.2" y="630.1" width="1.3" height="13.1" rx="0.6"/><rect x="211.6" y="643.8" width="2" height="6.6" rx="0.9"/><rect x="132.2" y="626.2" width="1.6" height="19.2" rx="0.7"/><rect x="121.9" y="640.1" width="2" height="7.3" rx="0.9"/><rect x="195.2" y="626.7" width="1.3" height="14.4" rx="0.6"/><rect x="75.2" y="648.2" width="1.7" height="10.9" rx="0.8"/><rect x="253.7" y="627" width="2.6" height="7.4" rx="1.2"/><rect x="175.9" y="638.9" width="2.6" height="9.7" rx="1.2"/><rect x="250.1" y="638.8" width="1.8" height="7.7" rx="0.8"/><rect x="147.1" y="644.2" width="1.1" height="10.7" rx="0.5"/><rect x="49.2" y="650.4" width="1.9" height="5.6" rx="0.9"/><rect x="166.7" y="656" width="1" height="7.1" rx="0.5"/><rect x="198.2" y="648" width="1.7" height="6.1" rx="0.8"/><rect x="98.9" y="631.4" width="1.5" height="12.1" rx="0.7"/><rect x="174.2" y="663.6" width="1.4" height="8.6" rx="0.6"/><rect x="69.7" y="640.2" width="1.7" height="10.1" rx="0.8"/><rect x="138.3" y="630.3" width="1.3" height="7.3" rx="0.6"/><rect x="108.3" y="665.4" width="1.2" height="9.2" rx="0.5"/><rect x="235.9" y="628.7" width="1.4" height="9.3" rx="0.6"/><rect x="52.9" y="646.7" width="1.9" height="5.9" rx="0.9"/><rect x="175.5" y="631.9" width="1.6" height="11.8" rx="0.7"/><rect x="91.6" y="626.4" width="1.1" height="9.8" rx="0.5"/><rect x="51.8" y="630.1" width="1.5" height="12.1" rx="0.7"/><rect x="137.7" y="645.4" width="1.6" height="5.9" rx="0.7"/><rect x="171.8" y="634.4" width="1.6" height="12.1" rx="0.7"/></g>
<g fill="none" stroke="#0a0a0a" stroke-width="1.35" stroke-linejoin="round"><ellipse cx="72" cy="665" rx="1.2" ry="5"/><ellipse cx="112" cy="662" rx="1.2" ry="6"/><ellipse cx="244" cy="668" rx="2.2" ry="5.5"/><ellipse cx="254" cy="667" rx="1.3" ry="5"/><ellipse cx="152" cy="670" rx="1.2" ry="4"/><ellipse cx="180" cy="668" rx="1.2" ry="4"/><ellipse cx="218" cy="668" rx="1.1" ry="3.5"/><ellipse cx="60" cy="667" rx="1" ry="3"/><path d="M47.8 700C52 706 52 716 48 722" stroke-width="1"/></g>
<g fill="#050505" stroke="#050505" stroke-width="0.65"><use href="#ar" transform="translate(51.4 629.6) rotate(326)"/><use href="#ar" transform="translate(72.9 629.6) rotate(190)"/><use href="#ar" transform="translate(87.3 629.6) rotate(105)"/><use href="#ar" transform="translate(108.8 629.6) rotate(308)"/><use href="#ar" transform="translate(123.2 629.6) rotate(278)"/><use href="#ar" transform="translate(144.7 629.6) rotate(94)"/><use href="#ar" transform="translate(159.1 629.6) rotate(42)"/><use href="#ar" transform="translate(180.6 629.6) rotate(209)"/><use href="#ar" transform="translate(195 629.6) rotate(347)"/><use href="#ar" transform="translate(216.5 629.6) rotate(146)"/><use href="#ar" transform="translate(230.9 629.6) rotate(160)"/><use href="#ar" transform="translate(252.4 629.6) rotate(159)"/><use href="#ar" transform="translate(51.4 635.9) rotate(331)"/><use href="#ar" transform="translate(58.6 635.9) rotate(238)"/><use href="#ar" transform="translate(65.8 635.9) rotate(207)"/><use href="#ar" transform="translate(72.9 635.9) rotate(76)"/><use href="#ar" transform="translate(80.1 635.9) rotate(151)"/><use href="#ar" transform="translate(87.3 635.9) rotate(184)"/><use href="#ar" transform="translate(94.5 635.9) rotate(136)"/><use href="#ar" transform="translate(101.7 635.9) rotate(173)"/><use href="#ar" transform="translate(108.8 635.9) rotate(189)"/><use href="#ar" transform="translate(116 635.9) rotate(200)"/><use href="#ar" transform="translate(123.2 635.9) rotate(217)"/><use href="#ar" transform="translate(130.4 635.9) rotate(60)"/><use href="#ar" transform="translate(137.6 635.9) rotate(113)"/><use href="#ar" transform="translate(144.7 635.9) rotate(3)"/><use href="#ar" transform="translate(151.9 635.9) rotate(339)"/><use href="#ar" transform="translate(159.1 635.9) rotate(14)"/><use href="#ar" transform="translate(166.3 635.9) rotate(77)"/><use href="#ar" transform="translate(173.5 635.9) rotate(213)"/><use href="#ar" transform="translate(180.6 635.9) rotate(218)"/><use href="#ar" transform="translate(187.8 635.9) rotate(331)"/><use href="#ar" transform="translate(195 635.9) rotate(285)"/><use href="#ar" transform="translate(202.2 635.9) rotate(224)"/><use href="#ar" transform="translate(209.4 635.9) rotate(221)"/><use href="#ar" transform="translate(216.5 635.9) rotate(194)"/><use href="#ar" transform="translate(223.7 635.9) rotate(199)"/><use href="#ar" transform="translate(230.9 635.9) rotate(92)"/><use href="#ar" transform="translate(238.1 635.9) rotate(166)"/><use href="#ar" transform="translate(245.3 635.9) rotate(143)"/><use href="#ar" transform="translate(252.4 635.9) rotate(274)"/><use href="#ar" transform="translate(259.6 635.9) rotate(179)"/><use href="#ar" transform="translate(51.4 642.1) rotate(247)"/><use href="#ar" transform="translate(58.6 642.1) rotate(207)"/><use href="#ar" transform="translate(65.8 642.1) rotate(167)"/><use href="#ar" transform="translate(72.9 642.1) rotate(85)"/><use href="#ar" transform="translate(80.1 642.1) rotate(171)"/><use href="#ar" transform="translate(87.3 642.1) rotate(134)"/><use href="#ar" transform="translate(94.5 642.1) rotate(256)"/><use href="#ar" transform="translate(101.7 642.1) rotate(207)"/><use href="#ar" transform="translate(108.8 642.1) rotate(214)"/><use href="#ar" transform="translate(116 642.1) rotate(226)"/><use href="#ar" transform="translate(123.2 642.1) rotate(148)"/><use href="#ar" transform="translate(130.4 642.1) rotate(63)"/><use href="#ar" transform="translate(137.6 642.1) rotate(54)"/><use href="#ar" transform="translate(144.7 642.1) rotate(51)"/><use href="#ar" transform="translate(151.9 642.1) rotate(336)"/><use href="#ar" transform="translate(159.1 642.1) rotate(62)"/><use href="#ar" transform="translate(166.3 642.1) rotate(161)"/><use href="#ar" transform="translate(173.5 642.1) rotate(328)"/><use href="#ar" transform="translate(180.6 642.1) rotate(325)"/><use href="#ar" transform="translate(187.8 642.1) rotate(271)"/><use href="#ar" transform="translate(195 642.1) rotate(319)"/><use href="#ar" transform="translate(202.2 642.1) rotate(203)"/><use href="#ar" transform="translate(209.4 642.1) rotate(153)"/><use href="#ar" transform="translate(216.5 642.1) rotate(214)"/><use href="#ar" transform="translate(223.7 642.1) rotate(117)"/><use href="#ar" transform="translate(230.9 642.1) rotate(100)"/><use href="#ar" transform="translate(238.1 642.1) rotate(121)"/><use href="#ar" transform="translate(245.3 642.1) rotate(201)"/><use href="#ar" transform="translate(252.4 642.1) rotate(228)"/><use href="#ar" transform="translate(259.6 642.1) rotate(205)"/><use href="#ar" transform="translate(51.4 648.4) rotate(178)"/><use href="#ar" transform="translate(58.6 648.4) rotate(130)"/><use href="#ar" transform="translate(65.8 648.4) rotate(154)"/><use href="#ar" transform="translate(72.9 648.4) rotate(70)"/><use href="#ar" transform="translate(80.1 648.4) rotate(84)"/><use href="#ar" transform="translate(87.3 648.4) rotate(124)"/><use href="#ar" transform="translate(94.5 648.4) rotate(141)"/><use href="#ar" transform="translate(101.7 648.4) rotate(211)"/><use href="#ar" transform="translate(108.8 648.4) rotate(227)"/><use href="#ar" transform="translate(116 648.4) rotate(197)"/><use href="#ar" transform="translate(123.2 648.4) rotate(66)"/><use href="#ar" transform="translate(130.4 648.4) rotate(46)"/><use href="#ar" transform="translate(137.6 648.4) rotate(84)"/><use href="#ar" transform="translate(144.7 648.4) rotate(33)"/><use href="#ar" transform="translate(151.9 648.4) rotate(49)"/><use href="#ar" transform="translate(159.1 648.4) rotate(116)"/><use href="#ar" transform="translate(166.3 648.4) rotate(298)"/><use href="#ar" transform="translate(173.5 648.4) rotate(338)"/><use href="#ar" transform="translate(180.6 648.4) rotate(288)"/><use href="#ar" transform="translate(187.8 648.4) rotate(349)"/><use href="#ar" transform="translate(195 648.4) rotate(225)"/><use href="#ar" transform="translate(202.2 648.4) rotate(210)"/><use href="#ar" transform="translate(209.4 648.4) rotate(172)"/><use href="#ar" transform="translate(216.5 648.4) rotate(123)"/><use href="#ar" transform="translate(223.7 648.4) rotate(135)"/><use href="#ar" transform="translate(230.9 648.4) rotate(87)"/><use href="#ar" transform="translate(238.1 648.4) rotate(124)"/><use href="#ar" transform="translate(245.3 648.4) rotate(170)"/><use href="#ar" transform="translate(252.4 648.4) rotate(247)"/><use href="#ar" transform="translate(259.6 648.4) rotate(202)"/><use href="#ar" transform="translate(51.4 654.7) rotate(191)"/><use href="#ar" transform="translate(58.6 654.7) rotate(127)"/><use href="#ar" transform="translate(65.8 654.7) rotate(114)"/><use href="#ar" transform="translate(72.9 654.7) rotate(151)"/><use href="#ar" transform="translate(80.1 654.7) rotate(139)"/><use href="#ar" transform="translate(87.3 654.7) rotate(159)"/><use href="#ar" transform="translate(94.5 654.7) rotate(180)"/><use href="#ar" transform="translate(101.7 654.7) rotate(242)"/><use href="#ar" transform="translate(108.8 654.7) rotate(148)"/><use href="#ar" transform="translate(116 654.7) rotate(203)"/><use href="#ar" transform="translate(123.2 654.7) rotate(143)"/><use href="#ar" transform="translate(130.4 654.7) rotate(65)"/><use href="#ar" transform="translate(137.6 654.7) rotate(102)"/><use href="#ar" transform="translate(144.7 654.7) rotate(79)"/><use href="#ar" transform="translate(151.9 654.7) rotate(213)"/><use href="#ar" transform="translate(159.1 654.7) rotate(252)"/><use href="#ar" transform="translate(166.3 654.7) rotate(313)"/><use href="#ar" transform="translate(173.5 654.7) rotate(322)"/><use href="#ar" transform="translate(180.6 654.7) rotate(51)"/><use href="#ar" transform="translate(187.8 654.7) rotate(294)"/><use href="#ar" transform="translate(195 654.7) rotate(204)"/><use href="#ar" transform="translate(202.2 654.7) rotate(157)"/><use href="#ar" transform="translate(209.4 654.7) rotate(63)"/><use href="#ar" transform="translate(216.5 654.7) rotate(117)"/><use href="#ar" transform="translate(223.7 654.7) rotate(68)"/><use href="#ar" transform="translate(230.9 654.7) rotate(101)"/><use href="#ar" transform="translate(238.1 654.7) rotate(121)"/><use href="#ar" transform="translate(245.3 654.7) rotate(206)"/><use href="#ar" transform="translate(252.4 654.7) rotate(199)"/><use href="#ar" transform="translate(259.6 654.7) rotate(213)"/><use href="#ar" transform="translate(51.4 661) rotate(52)"/><use href="#ar" transform="translate(58.6 661) rotate(148)"/><use href="#ar" transform="translate(65.8 661) rotate(9)"/><use href="#ar" transform="translate(72.9 661) rotate(132)"/><use href="#ar" transform="translate(80.1 661) rotate(201)"/><use href="#ar" transform="translate(87.3 661) rotate(244)"/><use href="#ar" transform="translate(94.5 661) rotate(229)"/><use href="#ar" transform="translate(101.7 661) rotate(233)"/><use href="#ar" transform="translate(108.8 661) rotate(228)"/><use href="#ar" transform="translate(116 661) rotate(91)"/><use href="#ar" transform="translate(123.2 661) rotate(45)"/><use href="#ar" transform="translate(130.4 661) rotate(54)"/><use href="#ar" transform="translate(137.6 661) rotate(37)"/><use href="#ar" transform="translate(144.7 661) rotate(67)"/><use href="#ar" transform="translate(151.9 661) rotate(263)"/><use href="#ar" transform="translate(159.1 661) rotate(260)"/><use href="#ar" transform="translate(166.3 661) rotate(23)"/><use href="#ar" transform="translate(173.5 661) rotate(346)"/><use href="#ar" transform="translate(180.6 661) rotate(340)"/><use href="#ar" transform="translate(187.8 661) rotate(335)"/><use href="#ar" transform="translate(195 661) rotate(222)"/><use href="#ar" transform="translate(202.2 661) rotate(178)"/><use href="#ar" transform="translate(209.4 661) rotate(150)"/><use href="#ar" transform="translate(216.5 661) rotate(82)"/><use href="#ar" transform="translate(223.7 661) rotate(82)"/><use href="#ar" transform="translate(230.9 661) rotate(139)"/><use href="#ar" transform="translate(238.1 661) rotate(167)"/><use href="#ar" transform="translate(245.3 661) rotate(145)"/><use href="#ar" transform="translate(252.4 661) rotate(183)"/><use href="#ar" transform="translate(259.6 661) rotate(201)"/><use href="#ar" transform="translate(51.4 667.2) rotate(99)"/><use href="#ar" transform="translate(58.6 667.2) rotate(17)"/><use href="#ar" transform="translate(65.8 667.2) rotate(83)"/><use href="#ar" transform="translate(72.9 667.2) rotate(107)"/><use href="#ar" transform="translate(80.1 667.2) rotate(182)"/><use href="#ar" transform="translate(87.3 667.2) rotate(139)"/><use href="#ar" transform="translate(94.5 667.2) rotate(276)"/><use href="#ar" transform="translate(101.7 667.2) rotate(158)"/><use href="#ar" transform="translate(108.8 667.2) rotate(217)"/><use href="#ar" transform="translate(116 667.2) rotate(100)"/><use href="#ar" transform="translate(123.2 667.2) rotate(0)"/><use href="#ar" transform="translate(130.4 667.2) rotate(52)"/><use href="#ar" transform="translate(137.6 667.2) rotate(84)"/><use href="#ar" transform="translate(144.7 667.2) rotate(236)"/><use href="#ar" transform="translate(151.9 667.2) rotate(210)"/><use href="#ar" transform="translate(159.1 667.2) rotate(303)"/><use href="#ar" transform="translate(166.3 667.2) rotate(49)"/><use href="#ar" transform="translate(173.5 667.2) rotate(26)"/><use href="#ar" transform="translate(180.6 667.2) rotate(236)"/><use href="#ar" transform="translate(187.8 667.2) rotate(271)"/><use href="#ar" transform="translate(195 667.2) rotate(118)"/><use href="#ar" transform="translate(202.2 667.2) rotate(121)"/><use href="#ar" transform="translate(209.4 667.2) rotate(23)"/><use href="#ar" transform="translate(216.5 667.2) rotate(41)"/><use href="#ar" transform="translate(223.7 667.2) rotate(175)"/><use href="#ar" transform="translate(230.9 667.2) rotate(202)"/><use href="#ar" transform="translate(238.1 667.2) rotate(267)"/><use href="#ar" transform="translate(245.3 667.2) rotate(200)"/><use href="#ar" transform="translate(252.4 667.2) rotate(250)"/><use href="#ar" transform="translate(259.6 667.2) rotate(164)"/><use href="#ar" transform="translate(51.4 673.5) rotate(99)"/><use href="#ar" transform="translate(58.6 673.5) rotate(66)"/><use href="#ar" transform="translate(65.8 673.5) rotate(46)"/><use href="#ar" transform="translate(72.9 673.5) rotate(126)"/><use href="#ar" transform="translate(80.1 673.5) rotate(253)"/><use href="#ar" transform="translate(87.3 673.5) rotate(228)"/><use href="#ar" transform="translate(94.5 673.5) rotate(256)"/><use href="#ar" transform="translate(101.7 673.5) rotate(206)"/><use href="#ar" transform="translate(108.8 673.5) rotate(127)"/><use href="#ar" transform="translate(116 673.5) rotate(58)"/><use href="#ar" transform="translate(123.2 673.5) rotate(31)"/><use href="#ar" transform="translate(130.4 673.5) rotate(101)"/><use href="#ar" transform="translate(137.6 673.5) rotate(95)"/><use href="#ar" transform="translate(144.7 673.5) rotate(203)"/><use href="#ar" transform="translate(151.9 673.5) rotate(308)"/><use href="#ar" transform="translate(159.1 673.5) rotate(293)"/><use href="#ar" transform="translate(166.3 673.5) rotate(359)"/><use href="#ar" transform="translate(173.5 673.5) rotate(336)"/><use href="#ar" transform="translate(180.6 673.5) rotate(258)"/><use href="#ar" transform="translate(187.8 673.5) rotate(133)"/><use href="#ar" transform="translate(195 673.5) rotate(103)"/><use href="#ar" transform="translate(202.2 673.5) rotate(63)"/><use href="#ar" transform="translate(209.4 673.5) rotate(125)"/><use href="#ar" transform="translate(216.5 673.5) rotate(75)"/><use href="#ar" transform="translate(223.7 673.5) rotate(191)"/><use href="#ar" transform="translate(230.9 673.5) rotate(177)"/><use href="#ar" transform="translate(238.1 673.5) rotate(267)"/><use href="#ar" transform="translate(245.3 673.5) rotate(256)"/><use href="#ar" transform="translate(252.4 673.5) rotate(195)"/><use href="#ar" transform="translate(259.6 673.5) rotate(102)"/><use href="#ar" transform="translate(51.4 679.8) rotate(22)"/><use href="#ar" transform="translate(58.6 679.8) rotate(127)"/><use href="#ar" transform="translate(65.8 679.8) rotate(87)"/><use href="#ar" transform="translate(72.9 679.8) rotate(106)"/><use href="#ar" transform="translate(80.1 679.8) rotate(153)"/><use href="#ar" transform="translate(87.3 679.8) rotate(274)"/><use href="#ar" transform="translate(94.5 679.8) rotate(175)"/><use href="#ar" transform="translate(101.7 679.8) rotate(175)"/><use href="#ar" transform="translate(108.8 679.8) rotate(99)"/><use href="#ar" transform="translate(116 679.8) rotate(78)"/><use href="#ar" transform="translate(123.2 679.8) rotate(139)"/><use href="#ar" transform="translate(130.4 679.8) rotate(153)"/><use href="#ar" transform="translate(137.6 679.8) rotate(243)"/><use href="#ar" transform="translate(144.7 679.8) rotate(261)"/><use href="#ar" transform="translate(151.9 679.8) rotate(320)"/><use href="#ar" transform="translate(159.1 679.8) rotate(38)"/><use href="#ar" transform="translate(166.3 679.8) rotate(336)"/><use href="#ar" transform="translate(173.5 679.8) rotate(230)"/><use href="#ar" transform="translate(180.6 679.8) rotate(221)"/><use href="#ar" transform="translate(187.8 679.8) rotate(170)"/><use href="#ar" transform="translate(195 679.8) rotate(14)"/><use href="#ar" transform="translate(202.2 679.8) rotate(13)"/><use href="#ar" transform="translate(209.4 679.8) rotate(18)"/><use href="#ar" transform="translate(216.5 679.8) rotate(154)"/><use href="#ar" transform="translate(223.7 679.8) rotate(121)"/><use href="#ar" transform="translate(230.9 679.8) rotate(248)"/><use href="#ar" transform="translate(238.1 679.8) rotate(241)"/><use href="#ar" transform="translate(245.3 679.8) rotate(155)"/><use href="#ar" transform="translate(252.4 679.8) rotate(199)"/><use href="#ar" transform="translate(259.6 679.8) rotate(161)"/><use href="#ar" transform="translate(51.4 686) rotate(65)"/><use href="#ar" transform="translate(58.6 686) rotate(108)"/><use href="#ar" transform="translate(65.8 686) rotate(125)"/><use href="#ar" transform="translate(72.9 686) rotate(203)"/><use href="#ar" transform="translate(80.1 686) rotate(184)"/><use href="#ar" transform="translate(87.3 686) rotate(189)"/><use href="#ar" transform="translate(94.5 686) rotate(202)"/><use href="#ar" transform="translate(101.7 686) rotate(92)"/><use href="#ar" transform="translate(108.8 686) rotate(171)"/><use href="#ar" transform="translate(116 686) rotate(76)"/><use href="#ar" transform="translate(123.2 686) rotate(129)"/><use href="#ar" transform="translate(130.4 686) rotate(208)"/><use href="#ar" transform="translate(137.6 686) rotate(327)"/><use href="#ar" transform="translate(144.7 686) rotate(324)"/><use href="#ar" transform="translate(151.9 686) rotate(330)"/><use href="#ar" transform="translate(159.1 686) rotate(323)"/><use href="#ar" transform="translate(166.3 686) rotate(325)"/><use href="#ar" transform="translate(173.5 686) rotate(180)"/><use href="#ar" transform="translate(180.6 686) rotate(132)"/><use href="#ar" transform="translate(187.8 686) rotate(127)"/><use href="#ar" transform="translate(195 686) rotate(345)"/><use href="#ar" transform="translate(202.2 686) rotate(30)"/><use href="#ar" transform="translate(209.4 686) rotate(31)"/><use href="#ar" transform="translate(216.5 686) rotate(126)"/><use href="#ar" transform="translate(223.7 686) rotate(149)"/><use href="#ar" transform="translate(230.9 686) rotate(239)"/><use href="#ar" transform="translate(238.1 686) rotate(206)"/><use href="#ar" transform="translate(245.3 686) rotate(183)"/><use href="#ar" transform="translate(252.4 686) rotate(144)"/><use href="#ar" transform="translate(259.6 686) rotate(198)"/><use href="#ar" transform="translate(51.4 692.3) rotate(61)"/><use href="#ar" transform="translate(58.6 692.3) rotate(149)"/><use href="#ar" transform="translate(65.8 692.3) rotate(187)"/><use href="#ar" transform="translate(72.9 692.3) rotate(155)"/><use href="#ar" transform="translate(80.1 692.3) rotate(229)"/><use href="#ar" transform="translate(87.3 692.3) rotate(195)"/><use href="#ar" transform="translate(94.5 692.3) rotate(202)"/><use href="#ar" transform="translate(101.7 692.3) rotate(146)"/><use href="#ar" transform="translate(108.8 692.3) rotate(51)"/><use href="#ar" transform="translate(116 692.3) rotate(77)"/><use href="#ar" transform="translate(123.2 692.3) rotate(125)"/><use href="#ar" transform="translate(130.4 692.3) rotate(185)"/><use href="#ar" transform="translate(137.6 692.3) rotate(344)"/><use href="#ar" transform="translate(144.7 692.3) rotate(325)"/><use href="#ar" transform="translate(151.9 692.3) rotate(355)"/><use href="#ar" transform="translate(159.1 692.3) rotate(357)"/><use href="#ar" transform="translate(166.3 692.3) rotate(183)"/><use href="#ar" transform="translate(173.5 692.3) rotate(155)"/><use href="#ar" transform="translate(180.6 692.3) rotate(110)"/><use href="#ar" transform="translate(187.8 692.3) rotate(322)"/><use href="#ar" transform="translate(195 692.3) rotate(36)"/><use href="#ar" transform="translate(202.2 692.3) rotate(74)"/><use href="#ar" transform="translate(209.4 692.3) rotate(174)"/><use href="#ar" transform="translate(216.5 692.3) rotate(132)"/><use href="#ar" transform="translate(223.7 692.3) rotate(234)"/><use href="#ar" transform="translate(230.9 692.3) rotate(172)"/><use href="#ar" transform="translate(238.1 692.3) rotate(187)"/><use href="#ar" transform="translate(245.3 692.3) rotate(165)"/><use href="#ar" transform="translate(252.4 692.3) rotate(204)"/><use href="#ar" transform="translate(259.6 692.3) rotate(142)"/><use href="#ar" transform="translate(51.4 698.6) rotate(100)"/><use href="#ar" transform="translate(58.6 698.6) rotate(91)"/><use href="#ar" transform="translate(65.8 698.6) rotate(217)"/><use href="#ar" transform="translate(72.9 698.6) rotate(233)"/><use href="#ar" transform="translate(80.1 698.6) rotate(206)"/><use href="#ar" transform="translate(87.3 698.6) rotate(185)"/><use href="#ar" transform="translate(94.5 698.6) rotate(122)"/><use href="#ar" transform="translate(101.7 698.6) rotate(122)"/><use href="#ar" transform="translate(108.8 698.6) rotate(109)"/><use href="#ar" transform="translate(116 698.6) rotate(153)"/><use href="#ar" transform="translate(123.2 698.6) rotate(211)"/><use href="#ar" transform="translate(130.4 698.6) rotate(275)"/><use href="#ar" transform="translate(137.6 698.6) rotate(8)"/><use href="#ar" transform="translate(144.7 698.6) rotate(291)"/><use href="#ar" transform="translate(151.9 698.6) rotate(354)"/><use href="#ar" transform="translate(159.1 698.6) rotate(223)"/><use href="#ar" transform="translate(166.3 698.6) rotate(229)"/><use href="#ar" transform="translate(173.5 698.6) rotate(159)"/><use href="#ar" transform="translate(180.6 698.6) rotate(44)"/><use href="#ar" transform="translate(187.8 698.6) rotate(42)"/><use href="#ar" transform="translate(195 698.6) rotate(97)"/><use href="#ar" transform="translate(202.2 698.6) rotate(83)"/><use href="#ar" transform="translate(209.4 698.6) rotate(198)"/><use href="#ar" transform="translate(216.5 698.6) rotate(162)"/><use href="#ar" transform="translate(223.7 698.6) rotate(268)"/><use href="#ar" transform="translate(230.9 698.6) rotate(265)"/><use href="#ar" transform="translate(238.1 698.6) rotate(236)"/><use href="#ar" transform="translate(245.3 698.6) rotate(145)"/><use href="#ar" transform="translate(252.4 698.6) rotate(175)"/><use href="#ar" transform="translate(259.6 698.6) rotate(113)"/><use href="#ar" transform="translate(51.4 704.8) rotate(197)"/><use href="#ar" transform="translate(58.6 704.8) rotate(137)"/><use href="#ar" transform="translate(65.8 704.8) rotate(267)"/><use href="#ar" transform="translate(72.9 704.8) rotate(257)"/><use href="#ar" transform="translate(80.1 704.8) rotate(214)"/><use href="#ar" transform="translate(87.3 704.8) rotate(170)"/><use href="#ar" transform="translate(94.5 704.8) rotate(194)"/><use href="#ar" transform="translate(101.7 704.8) rotate(126)"/><use href="#ar" transform="translate(108.8 704.8) rotate(91)"/><use href="#ar" transform="translate(116 704.8) rotate(241)"/><use href="#ar" transform="translate(123.2 704.8) rotate(232)"/><use href="#ar" transform="translate(130.4 704.8) rotate(359)"/><use href="#ar" transform="translate(137.6 704.8) rotate(339)"/><use href="#ar" transform="translate(144.7 704.8) rotate(40)"/><use href="#ar" transform="translate(151.9 704.8) rotate(341)"/><use href="#ar" transform="translate(159.1 704.8) rotate(156)"/><use href="#ar" transform="translate(166.3 704.8) rotate(110)"/><use href="#ar" transform="translate(173.5 704.8) rotate(7)"/><use href="#ar" transform="translate(180.6 704.8) rotate(342)"/><use href="#ar" transform="translate(187.8 704.8) rotate(300)"/><use href="#ar" transform="translate(195 704.8) rotate(79)"/><use href="#ar" transform="translate(202.2 704.8) rotate(81)"/><use href="#ar" transform="translate(209.4 704.8) rotate(169)"/><use href="#ar" transform="translate(216.5 704.8) rotate(303)"/><use href="#ar" transform="translate(223.7 704.8) rotate(282)"/><use href="#ar" transform="translate(230.9 704.8) rotate(270)"/><use href="#ar" transform="translate(238.1 704.8) rotate(259)"/><use href="#ar" transform="translate(245.3 704.8) rotate(210)"/><use href="#ar" transform="translate(252.4 704.8) rotate(201)"/><use href="#ar" transform="translate(259.6 704.8) rotate(143)"/><use href="#ar" transform="translate(51.4 711.1) rotate(208)"/><use href="#ar" transform="translate(58.6 711.1) rotate(279)"/><use href="#ar" transform="translate(65.8 711.1) rotate(261)"/><use href="#ar" transform="translate(72.9 711.1) rotate(235)"/><use href="#ar" transform="translate(80.1 711.1) rotate(230)"/><use href="#ar" transform="translate(87.3 711.1) rotate(168)"/><use href="#ar" transform="translate(94.5 711.1) rotate(133)"/><use href="#ar" transform="translate(101.7 711.1) rotate(74)"/><use href="#ar" transform="translate(108.8 711.1) rotate(141)"/><use href="#ar" transform="translate(116 711.1) rotate(205)"/><use href="#ar" transform="translate(123.2 711.1) rotate(214)"/><use href="#ar" transform="translate(130.4 711.1) rotate(0)"/><use href="#ar" transform="translate(137.6 711.1) rotate(317)"/><use href="#ar" transform="translate(144.7 711.1) rotate(297)"/><use href="#ar" transform="translate(151.9 711.1) rotate(283)"/><use href="#ar" transform="translate(159.1 711.1) rotate(198)"/><use href="#ar" transform="translate(166.3 711.1) rotate(117)"/><use href="#ar" transform="translate(173.5 711.1) rotate(45)"/><use href="#ar" transform="translate(180.6 711.1) rotate(38)"/><use href="#ar" transform="translate(187.8 711.1) rotate(21)"/><use href="#ar" transform="translate(195 711.1) rotate(32)"/><use href="#ar" transform="translate(202.2 711.1) rotate(147)"/><use href="#ar" transform="translate(209.4 711.1) rotate(234)"/><use href="#ar" transform="translate(216.5 711.1) rotate(319)"/><use href="#ar" transform="translate(223.7 711.1) rotate(245)"/><use href="#ar" transform="translate(230.9 711.1) rotate(167)"/><use href="#ar" transform="translate(238.1 711.1) rotate(239)"/><use href="#ar" transform="translate(245.3 711.1) rotate(215)"/><use href="#ar" transform="translate(252.4 711.1) rotate(205)"/><use href="#ar" transform="translate(259.6 711.1) rotate(88)"/><use href="#ar" transform="translate(51.4 717.4) rotate(226)"/><use href="#ar" transform="translate(58.6 717.4) rotate(327)"/><use href="#ar" transform="translate(65.8 717.4) rotate(311)"/><use href="#ar" transform="translate(72.9 717.4) rotate(251)"/><use href="#ar" transform="translate(80.1 717.4) rotate(178)"/><use href="#ar" transform="translate(87.3 717.4) rotate(164)"/><use href="#ar" transform="translate(94.5 717.4) rotate(189)"/><use href="#ar" transform="translate(101.7 717.4) rotate(174)"/><use href="#ar" transform="translate(108.8 717.4) rotate(245)"/><use href="#ar" transform="translate(116 717.4) rotate(275)"/><use href="#ar" transform="translate(123.2 717.4) rotate(345)"/><use href="#ar" transform="translate(130.4 717.4) rotate(269)"/><use href="#ar" transform="translate(137.6 717.4) rotate(336)"/><use href="#ar" transform="translate(144.7 717.4) rotate(288)"/><use href="#ar" transform="translate(151.9 717.4) rotate(118)"/><use href="#ar" transform="translate(159.1 717.4) rotate(30)"/><use href="#ar" transform="translate(166.3 717.4) rotate(331)"/><use href="#ar" transform="translate(173.5 717.4) rotate(327)"/><use href="#ar" transform="translate(180.6 717.4) rotate(59)"/><use href="#ar" transform="translate(187.8 717.4) rotate(70)"/><use href="#ar" transform="translate(195 717.4) rotate(143)"/><use href="#ar" transform="translate(202.2 717.4) rotate(196)"/><use href="#ar" transform="translate(209.4 717.4) rotate(308)"/><use href="#ar" transform="translate(216.5 717.4) rotate(276)"/><use href="#ar" transform="translate(223.7 717.4) rotate(251)"/><use href="#ar" transform="translate(230.9 717.4) rotate(285)"/><use href="#ar" transform="translate(238.1 717.4) rotate(203)"/><use href="#ar" transform="translate(245.3 717.4) rotate(185)"/><use href="#ar" transform="translate(252.4 717.4) rotate(71)"/><use href="#ar" transform="translate(259.6 717.4) rotate(127)"/><use href="#ar" transform="translate(51.4 723.6) rotate(189)"/><use href="#ar" transform="translate(58.6 723.6) rotate(222)"/><use href="#ar" transform="translate(65.8 723.6) rotate(330)"/><use href="#ar" transform="translate(72.9 723.6) rotate(283)"/><use href="#ar" transform="translate(80.1 723.6) rotate(263)"/><use href="#ar" transform="translate(87.3 723.6) rotate(155)"/><use href="#ar" transform="translate(94.5 723.6) rotate(100)"/><use href="#ar" transform="translate(101.7 723.6) rotate(93)"/><use href="#ar" transform="translate(108.8 723.6) rotate(137)"/><use href="#ar" transform="translate(116 723.6) rotate(196)"/><use href="#ar" transform="translate(123.2 723.6) rotate(356)"/><use href="#ar" transform="translate(130.4 723.6) rotate(317)"/><use href="#ar" transform="translate(137.6 723.6) rotate(264)"/><use href="#ar" transform="translate(144.7 723.6) rotate(139)"/><use href="#ar" transform="translate(151.9 723.6) rotate(126)"/><use href="#ar" transform="translate(159.1 723.6) rotate(46)"/><use href="#ar" transform="translate(166.3 723.6) rotate(298)"/><use href="#ar" transform="translate(173.5 723.6) rotate(54)"/><use href="#ar" transform="translate(180.6 723.6) rotate(90)"/><use href="#ar" transform="translate(187.8 723.6) rotate(165)"/><use href="#ar" transform="translate(195 723.6) rotate(228)"/><use href="#ar" transform="translate(202.2 723.6) rotate(236)"/><use href="#ar" transform="translate(209.4 723.6) rotate(339)"/><use href="#ar" transform="translate(216.5 723.6) rotate(293)"/><use href="#ar" transform="translate(223.7 723.6) rotate(265)"/><use href="#ar" transform="translate(230.9 723.6) rotate(237)"/><use href="#ar" transform="translate(238.1 723.6) rotate(173)"/><use href="#ar" transform="translate(245.3 723.6) rotate(151)"/><use href="#ar" transform="translate(252.4 723.6) rotate(101)"/><use href="#ar" transform="translate(259.6 723.6) rotate(213)"/><use href="#ar" transform="translate(51.4 729.9) rotate(311)"/><use href="#ar" transform="translate(58.6 729.9) rotate(351)"/><use href="#ar" transform="translate(65.8 729.9) rotate(329)"/><use href="#ar" transform="translate(72.9 729.9) rotate(215)"/><use href="#ar" transform="translate(80.1 729.9) rotate(188)"/><use href="#ar" transform="translate(87.3 729.9) rotate(175)"/><use href="#ar" transform="translate(94.5 729.9) rotate(165)"/><use href="#ar" transform="translate(101.7 729.9) rotate(110)"/><use href="#ar" transform="translate(108.8 729.9) rotate(212)"/><use href="#ar" transform="translate(116 729.9) rotate(276)"/><use href="#ar" transform="translate(123.2 729.9) rotate(242)"/><use href="#ar" transform="translate(130.4 729.9) rotate(225)"/><use href="#ar" transform="translate(137.6 729.9) rotate(158)"/><use href="#ar" transform="translate(144.7 729.9) rotate(111)"/><use href="#ar" transform="translate(151.9 729.9) rotate(126)"/><use href="#ar" transform="translate(159.1 729.9) rotate(34)"/><use href="#ar" transform="translate(166.3 729.9) rotate(357)"/><use href="#ar" transform="translate(173.5 729.9) rotate(310)"/><use href="#ar" transform="translate(180.6 729.9) rotate(63)"/><use href="#ar" transform="translate(187.8 729.9) rotate(117)"/><use href="#ar" transform="translate(195 729.9) rotate(301)"/><use href="#ar" transform="translate(202.2 729.9) rotate(6)"/><use href="#ar" transform="translate(209.4 729.9) rotate(270)"/><use href="#ar" transform="translate(216.5 729.9) rotate(272)"/><use href="#ar" transform="translate(223.7 729.9) rotate(180)"/><use href="#ar" transform="translate(230.9 729.9) rotate(129)"/><use href="#ar" transform="translate(238.1 729.9) rotate(151)"/><use href="#ar" transform="translate(245.3 729.9) rotate(156)"/><use href="#ar" transform="translate(252.4 729.9) rotate(215)"/><use href="#ar" transform="translate(259.6 729.9) rotate(143)"/><use href="#ar" transform="translate(51.4 736.2) rotate(354)"/><use href="#ar" transform="translate(58.6 736.2) rotate(268)"/><use href="#ar" transform="translate(65.8 736.2) rotate(244)"/><use href="#ar" transform="translate(72.9 736.2) rotate(156)"/><use href="#ar" transform="translate(80.1 736.2) rotate(123)"/><use href="#ar" transform="translate(87.3 736.2) rotate(193)"/><use href="#ar" transform="translate(94.5 736.2) rotate(205)"/><use href="#ar" transform="translate(101.7 736.2) rotate(236)"/><use href="#ar" transform="translate(108.8 736.2) rotate(164)"/><use href="#ar" transform="translate(116 736.2) rotate(281)"/><use href="#ar" transform="translate(123.2 736.2) rotate(254)"/><use href="#ar" transform="translate(130.4 736.2) rotate(288)"/><use href="#ar" transform="translate(137.6 736.2) rotate(226)"/><use href="#ar" transform="translate(144.7 736.2) rotate(28)"/><use href="#ar" transform="translate(151.9 736.2) rotate(36)"/><use href="#ar" transform="translate(159.1 736.2) rotate(1)"/><use href="#ar" transform="translate(166.3 736.2) rotate(35)"/><use href="#ar" transform="translate(173.5 736.2) rotate(41)"/><use href="#ar" transform="translate(180.6 736.2) rotate(105)"/><use href="#ar" transform="translate(187.8 736.2) rotate(183)"/><use href="#ar" transform="translate(195 736.2) rotate(330)"/><use href="#ar" transform="translate(202.2 736.2) rotate(343)"/><use href="#ar" transform="translate(209.4 736.2) rotate(12)"/><use href="#ar" transform="translate(216.5 736.2) rotate(324)"/><use href="#ar" transform="translate(223.7 736.2) rotate(234)"/><use href="#ar" transform="translate(230.9 736.2) rotate(212)"/><use href="#ar" transform="translate(238.1 736.2) rotate(152)"/><use href="#ar" transform="translate(245.3 736.2) rotate(100)"/><use href="#ar" transform="translate(252.4 736.2) rotate(110)"/><use href="#ar" transform="translate(259.6 736.2) rotate(192)"/><use href="#ar" transform="translate(51.4 742.5) rotate(353)"/><use href="#ar" transform="translate(58.6 742.5) rotate(258)"/><use href="#ar" transform="translate(65.8 742.5) rotate(279)"/><use href="#ar" transform="translate(72.9 742.5) rotate(142)"/><use href="#ar" transform="translate(80.1 742.5) rotate(101)"/><use href="#ar" transform="translate(87.3 742.5) rotate(140)"/><use href="#ar" transform="translate(94.5 742.5) rotate(131)"/><use href="#ar" transform="translate(101.7 742.5) rotate(151)"/><use href="#ar" transform="translate(108.8 742.5) rotate(237)"/><use href="#ar" transform="translate(116 742.5) rotate(218)"/><use href="#ar" transform="translate(123.2 742.5) rotate(198)"/><use href="#ar" transform="translate(130.4 742.5) rotate(195)"/><use href="#ar" transform="translate(137.6 742.5) rotate(179)"/><use href="#ar" transform="translate(144.7 742.5) rotate(105)"/><use href="#ar" transform="translate(151.9 742.5) rotate(355)"/><use href="#ar" transform="translate(159.1 742.5) rotate(2)"/><use href="#ar" transform="translate(166.3 742.5) rotate(357)"/><use href="#ar" transform="translate(173.5 742.5) rotate(57)"/><use href="#ar" transform="translate(180.6 742.5) rotate(150)"/><use href="#ar" transform="translate(187.8 742.5) rotate(317)"/><use href="#ar" transform="translate(195 742.5) rotate(21)"/><use href="#ar" transform="translate(202.2 742.5) rotate(299)"/><use href="#ar" transform="translate(209.4 742.5) rotate(243)"/><use href="#ar" transform="translate(216.5 742.5) rotate(210)"/><use href="#ar" transform="translate(223.7 742.5) rotate(234)"/><use href="#ar" transform="translate(230.9 742.5) rotate(143)"/><use href="#ar" transform="translate(238.1 742.5) rotate(101)"/><use href="#ar" transform="translate(245.3 742.5) rotate(105)"/><use href="#ar" transform="translate(252.4 742.5) rotate(193)"/><use href="#ar" transform="translate(259.6 742.5) rotate(192)"/><use href="#ar" transform="translate(51.4 748.7) rotate(180)"/><use href="#ar" transform="translate(58.6 748.7) rotate(180)"/><use href="#ar" transform="translate(65.8 748.7) rotate(243)"/><use href="#ar" transform="translate(72.9 748.7) rotate(207)"/><use href="#ar" transform="translate(80.1 748.7) rotate(102)"/><use href="#ar" transform="translate(87.3 748.7) rotate(200)"/><use href="#ar" transform="translate(94.5 748.7) rotate(221)"/><use href="#ar" transform="translate(101.7 748.7) rotate(244)"/><use href="#ar" transform="translate(108.8 748.7) rotate(213)"/><use href="#ar" transform="translate(116 748.7) rotate(240)"/><use href="#ar" transform="translate(123.2 748.7) rotate(265)"/><use href="#ar" transform="translate(130.4 748.7) rotate(196)"/><use href="#ar" transform="translate(137.6 748.7) rotate(39)"/><use href="#ar" transform="translate(144.7 748.7) rotate(49)"/><use href="#ar" transform="translate(151.9 748.7) rotate(344)"/><use href="#ar" transform="translate(159.1 748.7) rotate(75)"/><use href="#ar" transform="translate(166.3 748.7) rotate(93)"/><use href="#ar" transform="translate(173.5 748.7) rotate(123)"/><use href="#ar" transform="translate(180.6 748.7) rotate(248)"/><use href="#ar" transform="translate(187.8 748.7) rotate(267)"/><use href="#ar" transform="translate(195 748.7) rotate(309)"/><use href="#ar" transform="translate(202.2 748.7) rotate(13)"/><use href="#ar" transform="translate(209.4 748.7) rotate(261)"/><use href="#ar" transform="translate(216.5 748.7) rotate(261)"/><use href="#ar" transform="translate(223.7 748.7) rotate(104)"/><use href="#ar" transform="translate(230.9 748.7) rotate(174)"/><use href="#ar" transform="translate(238.1 748.7) rotate(75)"/><use href="#ar" transform="translate(245.3 748.7) rotate(164)"/><use href="#ar" transform="translate(252.4 748.7) rotate(180)"/><use href="#ar" transform="translate(259.6 748.7) rotate(180)"/><use href="#ar" transform="translate(51.4 755) rotate(180)"/><use href="#ar" transform="translate(58.6 755) rotate(180)"/><use href="#ar" transform="translate(65.8 755) rotate(100)"/><use href="#ar" transform="translate(72.9 755) rotate(134)"/><use href="#ar" transform="translate(80.1 755) rotate(49)"/><use href="#ar" transform="translate(87.3 755) rotate(157)"/><use href="#ar" transform="translate(94.5 755) rotate(135)"/><use href="#ar" transform="translate(101.7 755) rotate(270)"/><use href="#ar" transform="translate(108.8 755) rotate(160)"/><use href="#ar" transform="translate(116 755) rotate(263)"/><use href="#ar" transform="translate(123.2 755) rotate(151)"/><use href="#ar" transform="translate(130.4 755) rotate(40)"/><use href="#ar" transform="translate(137.6 755) rotate(359)"/><use href="#ar" transform="translate(144.7 755) rotate(29)"/><use href="#ar" transform="translate(151.9 755) rotate(5)"/><use href="#ar" transform="translate(159.1 755) rotate(14)"/><use href="#ar" transform="translate(166.3 755) rotate(200)"/><use href="#ar" transform="translate(173.5 755) rotate(194)"/><use href="#ar" transform="translate(180.6 755) rotate(263)"/><use href="#ar" transform="translate(187.8 755) rotate(317)"/><use href="#ar" transform="translate(195 755) rotate(303)"/><use href="#ar" transform="translate(202.2 755) rotate(324)"/><use href="#ar" transform="translate(209.4 755) rotate(194)"/><use href="#ar" transform="translate(216.5 755) rotate(217)"/><use href="#ar" transform="translate(223.7 755) rotate(48)"/><use href="#ar" transform="translate(230.9 755) rotate(90)"/><use href="#ar" transform="translate(238.1 755) rotate(68)"/><use href="#ar" transform="translate(245.3 755) rotate(225)"/><use href="#ar" transform="translate(252.4 755) rotate(180)"/><use href="#ar" transform="translate(259.6 755) rotate(180)"/><use href="#ar" transform="translate(51.4 761.3) rotate(180)"/><use href="#ar" transform="translate(58.6 761.3) rotate(180)"/><use href="#ar" transform="translate(65.8 761.3) rotate(180)"/><use href="#ar" transform="translate(72.9 761.3) rotate(65)"/><use href="#ar" transform="translate(80.1 761.3) rotate(154)"/><use href="#ar" transform="translate(87.3 761.3) rotate(173)"/><use href="#ar" transform="translate(94.5 761.3) rotate(116)"/><use href="#ar" transform="translate(101.7 761.3) rotate(220)"/><use href="#ar" transform="translate(108.8 761.3) rotate(165)"/><use href="#ar" transform="translate(116 761.3) rotate(123)"/><use href="#ar" transform="translate(123.2 761.3) rotate(149)"/><use href="#ar" transform="translate(130.4 761.3) rotate(63)"/><use href="#ar" transform="translate(137.6 761.3) rotate(28)"/><use href="#ar" transform="translate(144.7 761.3) rotate(325)"/><use href="#ar" transform="translate(151.9 761.3) rotate(24)"/><use href="#ar" transform="translate(159.1 761.3) rotate(151)"/><use href="#ar" transform="translate(166.3 761.3) rotate(271)"/><use href="#ar" transform="translate(173.5 761.3) rotate(257)"/><use href="#ar" transform="translate(180.6 761.3) rotate(41)"/><use href="#ar" transform="translate(187.8 761.3) rotate(343)"/><use href="#ar" transform="translate(195 761.3) rotate(275)"/><use href="#ar" transform="translate(202.2 761.3) rotate(271)"/><use href="#ar" transform="translate(209.4 761.3) rotate(163)"/><use href="#ar" transform="translate(216.5 761.3) rotate(124)"/><use href="#ar" transform="translate(223.7 761.3) rotate(148)"/><use href="#ar" transform="translate(230.9 761.3) rotate(109)"/><use href="#ar" transform="translate(238.1 761.3) rotate(95)"/><use href="#ar" transform="translate(245.3 761.3) rotate(180)"/><use href="#ar" transform="translate(252.4 761.3) rotate(180)"/><use href="#ar" transform="translate(259.6 761.3) rotate(180)"/><use href="#ar" transform="translate(51.4 767.5) rotate(165)"/><use href="#ar" transform="translate(58.6 767.5) rotate(165)"/><use href="#ar" transform="translate(65.8 767.5) rotate(165)"/><use href="#ar" transform="translate(72.9 767.5) rotate(169)"/><use href="#ar" transform="translate(80.1 767.5) rotate(168)"/><use href="#ar" transform="translate(87.3 767.5) rotate(174)"/><use href="#ar" transform="translate(94.5 767.5) rotate(186)"/><use href="#ar" transform="translate(101.7 767.5) rotate(190)"/><use href="#ar" transform="translate(108.8 767.5) rotate(186)"/><use href="#ar" transform="translate(116 767.5) rotate(178)"/><use href="#ar" transform="translate(123.2 767.5) rotate(170)"/><use href="#ar" transform="translate(130.4 767.5) rotate(159)"/><use href="#ar" transform="translate(137.6 767.5) rotate(154)"/><use href="#ar" transform="translate(144.7 767.5) rotate(151)"/><use href="#ar" transform="translate(151.9 767.5) rotate(166)"/><use href="#ar" transform="translate(159.1 767.5) rotate(182)"/><use href="#ar" transform="translate(166.3 767.5) rotate(204)"/><use href="#ar" transform="translate(173.5 767.5) rotate(214)"/><use href="#ar" transform="translate(180.6 767.5) rotate(218)"/><use href="#ar" transform="translate(187.8 767.5) rotate(218)"/><use href="#ar" transform="translate(195 767.5) rotate(202)"/><use href="#ar" transform="translate(202.2 767.5) rotate(190)"/><use href="#ar" transform="translate(209.4 767.5) rotate(169)"/><use href="#ar" transform="translate(216.5 767.5) rotate(160)"/><use href="#ar" transform="translate(223.7 767.5) rotate(161)"/><use href="#ar" transform="translate(230.9 767.5) rotate(168)"/><use href="#ar" transform="translate(238.1 767.5) rotate(174)"/><use href="#ar" transform="translate(245.3 767.5) rotate(165)"/><use href="#ar" transform="translate(252.4 767.5) rotate(165)"/><use href="#ar" transform="translate(259.6 767.5) rotate(165)"/><use href="#ar" transform="translate(51.4 773.8) rotate(165)"/><use href="#ar" transform="translate(58.6 773.8) rotate(165)"/><use href="#ar" transform="translate(65.8 773.8) rotate(165)"/><use href="#ar" transform="translate(72.9 773.8) rotate(165)"/><use href="#ar" transform="translate(80.1 773.8) rotate(165)"/><use href="#ar" transform="translate(87.3 773.8) rotate(182)"/><use href="#ar" transform="translate(94.5 773.8) rotate(181)"/><use href="#ar" transform="translate(101.7 773.8) rotate(189)"/><use href="#ar" transform="translate(108.8 773.8) rotate(180)"/><use href="#ar" transform="translate(116 773.8) rotate(176)"/><use href="#ar" transform="translate(123.2 773.8) rotate(167)"/><use href="#ar" transform="translate(130.4 773.8) rotate(160)"/><use href="#ar" transform="translate(137.6 773.8) rotate(160)"/><use href="#ar" transform="translate(144.7 773.8) rotate(162)"/><use href="#ar" transform="translate(151.9 773.8) rotate(182)"/><use href="#ar" transform="translate(159.1 773.8) rotate(198)"/><use href="#ar" transform="translate(166.3 773.8) rotate(214)"/><use href="#ar" transform="translate(173.5 773.8) rotate(218)"/><use href="#ar" transform="translate(180.6 773.8) rotate(218)"/><use href="#ar" transform="translate(187.8 773.8) rotate(204)"/><use href="#ar" transform="translate(195 773.8) rotate(188)"/><use href="#ar" transform="translate(202.2 773.8) rotate(174)"/><use href="#ar" transform="translate(209.4 773.8) rotate(159)"/><use href="#ar" transform="translate(216.5 773.8) rotate(159)"/><use href="#ar" transform="translate(223.7 773.8) rotate(157)"/><use href="#ar" transform="translate(230.9 773.8) rotate(171)"/><use href="#ar" transform="translate(238.1 773.8) rotate(165)"/><use href="#ar" transform="translate(245.3 773.8) rotate(165)"/><use href="#ar" transform="translate(252.4 773.8) rotate(165)"/><use href="#ar" transform="translate(259.6 773.8) rotate(165)"/><use href="#ar" transform="translate(51.4 780.1) rotate(165)"/><use href="#ar" transform="translate(58.6 780.1) rotate(165)"/><use href="#ar" transform="translate(65.8 780.1) rotate(165)"/><use href="#ar" transform="translate(72.9 780.1) rotate(165)"/><use href="#ar" transform="translate(80.1 780.1) rotate(165)"/><use href="#ar" transform="translate(87.3 780.1) rotate(179)"/><use href="#ar" transform="translate(94.5 780.1) rotate(181)"/><use href="#ar" transform="translate(101.7 780.1) rotate(184)"/><use href="#ar" transform="translate(108.8 780.1) rotate(176)"/><use href="#ar" transform="translate(116 780.1) rotate(170)"/><use href="#ar" transform="translate(123.2 780.1) rotate(164)"/><use href="#ar" transform="translate(130.4 780.1) rotate(160)"/><use href="#ar" transform="translate(137.6 780.1) rotate(159)"/><use href="#ar" transform="translate(144.7 780.1) rotate(170)"/><use href="#ar" transform="translate(151.9 780.1) rotate(191)"/><use href="#ar" transform="translate(159.1 780.1) rotate(208)"/><use href="#ar" transform="translate(166.3 780.1) rotate(221)"/><use href="#ar" transform="translate(173.5 780.1) rotate(218)"/><use href="#ar" transform="translate(180.6 780.1) rotate(208)"/><use href="#ar" transform="translate(187.8 780.1) rotate(196)"/><use href="#ar" transform="translate(195 780.1) rotate(178)"/><use href="#ar" transform="translate(202.2 780.1) rotate(167)"/><use href="#ar" transform="translate(209.4 780.1) rotate(155)"/><use href="#ar" transform="translate(216.5 780.1) rotate(159)"/><use href="#ar" transform="translate(223.7 780.1) rotate(158)"/><use href="#ar" transform="translate(230.9 780.1) rotate(165)"/><use href="#ar" transform="translate(238.1 780.1) rotate(165)"/><use href="#ar" transform="translate(245.3 780.1) rotate(165)"/><use href="#ar" transform="translate(252.4 780.1) rotate(165)"/><use href="#ar" transform="translate(259.6 780.1) rotate(165)"/><use href="#ar" transform="translate(51.4 786.4) rotate(165)"/><use href="#ar" transform="translate(58.6 786.4) rotate(165)"/><use href="#ar" transform="translate(65.8 786.4) rotate(165)"/><use href="#ar" transform="translate(72.9 786.4) rotate(165)"/><use href="#ar" transform="translate(80.1 786.4) rotate(165)"/><use href="#ar" transform="translate(87.3 786.4) rotate(165)"/><use href="#ar" transform="translate(94.5 786.4) rotate(185)"/><use href="#ar" transform="translate(101.7 786.4) rotate(181)"/><use href="#ar" transform="translate(108.8 786.4) rotate(176)"/><use href="#ar" transform="translate(116 786.4) rotate(166)"/><use href="#ar" transform="translate(123.2 786.4) rotate(165)"/><use href="#ar" transform="translate(130.4 786.4) rotate(160)"/><use href="#ar" transform="translate(137.6 786.4) rotate(176)"/><use href="#ar" transform="translate(144.7 786.4) rotate(185)"/><use href="#ar" transform="translate(151.9 786.4) rotate(200)"/><use href="#ar" transform="translate(159.1 786.4) rotate(215)"/><use href="#ar" transform="translate(166.3 786.4) rotate(224)"/><use href="#ar" transform="translate(173.5 786.4) rotate(219)"/><use href="#ar" transform="translate(180.6 786.4) rotate(203)"/><use href="#ar" transform="translate(187.8 786.4) rotate(188)"/><use href="#ar" transform="translate(195 786.4) rotate(167)"/><use href="#ar" transform="translate(202.2 786.4) rotate(150)"/><use href="#ar" transform="translate(209.4 786.4) rotate(150)"/><use href="#ar" transform="translate(216.5 786.4) rotate(155)"/><use href="#ar" transform="translate(223.7 786.4) rotate(165)"/><use href="#ar" transform="translate(230.9 786.4) rotate(165)"/><use href="#ar" transform="translate(238.1 786.4) rotate(165)"/><use href="#ar" transform="translate(245.3 786.4) rotate(165)"/><use href="#ar" transform="translate(252.4 786.4) rotate(165)"/><use href="#ar" transform="translate(259.6 786.4) rotate(165)"/><use href="#ar" transform="translate(51.4 792.6) rotate(165)"/><use href="#ar" transform="translate(58.6 792.6) rotate(165)"/><use href="#ar" transform="translate(65.8 792.6) rotate(165)"/><use href="#ar" transform="translate(72.9 792.6) rotate(165)"/><use href="#ar" transform="translate(80.1 792.6) rotate(165)"/><use href="#ar" transform="translate(87.3 792.6) rotate(165)"/><use href="#ar" transform="translate(94.5 792.6) rotate(165)"/><use href="#ar" transform="translate(101.7 792.6) rotate(178)"/><use href="#ar" transform="translate(108.8 792.6) rotate(172)"/><use href="#ar" transform="translate(116 792.6) rotate(166)"/><use href="#ar" transform="translate(123.2 792.6) rotate(164)"/><use href="#ar" transform="translate(130.4 792.6) rotate(165)"/><use href="#ar" transform="translate(137.6 792.6) rotate(176)"/><use href="#ar" transform="translate(144.7 792.6) rotate(196)"/><use href="#ar" transform="translate(151.9 792.6) rotate(212)"/><use href="#ar" transform="translate(159.1 792.6) rotate(216)"/><use href="#ar" transform="translate(166.3 792.6) rotate(214)"/><use href="#ar" transform="translate(173.5 792.6) rotate(208)"/><use href="#ar" transform="translate(180.6 792.6) rotate(190)"/><use href="#ar" transform="translate(187.8 792.6) rotate(173)"/><use href="#ar" transform="translate(195 792.6) rotate(156)"/><use href="#ar" transform="translate(202.2 792.6) rotate(145)"/><use href="#ar" transform="translate(209.4 792.6) rotate(154)"/><use href="#ar" transform="translate(216.5 792.6) rotate(165)"/><use href="#ar" transform="translate(223.7 792.6) rotate(165)"/><use href="#ar" transform="translate(230.9 792.6) rotate(165)"/><use href="#ar" transform="translate(238.1 792.6) rotate(165)"/><use href="#ar" transform="translate(245.3 792.6) rotate(165)"/><use href="#ar" transform="translate(252.4 792.6) rotate(165)"/><use href="#ar" transform="translate(259.6 792.6) rotate(165)"/><use href="#ar" transform="translate(51.4 798.9) rotate(150)"/><use href="#ar" transform="translate(58.6 798.9) rotate(150)"/><use href="#ar" transform="translate(65.8 798.9) rotate(150)"/><use href="#ar" transform="translate(72.9 798.9) rotate(150)"/><use href="#ar" transform="translate(80.1 798.9) rotate(150)"/><use href="#ar" transform="translate(87.3 798.9) rotate(150)"/><use href="#ar" transform="translate(94.5 798.9) rotate(150)"/><use href="#ar" transform="translate(101.7 798.9) rotate(150)"/><use href="#ar" transform="translate(108.8 798.9) rotate(140)"/><use href="#ar" transform="translate(116 798.9) rotate(140)"/><use href="#ar" transform="translate(123.2 798.9) rotate(140)"/><use href="#ar" transform="translate(130.4 798.9) rotate(140)"/><use href="#ar" transform="translate(137.6 798.9) rotate(140)"/><use href="#ar" transform="translate(144.7 798.9) rotate(140)"/><use href="#ar" transform="translate(151.9 798.9) rotate(140)"/><use href="#ar" transform="translate(159.1 798.9) rotate(140)"/><use href="#ar" transform="translate(166.3 798.9) rotate(140)"/><use href="#ar" transform="translate(173.5 798.9) rotate(140)"/><use href="#ar" transform="translate(180.6 798.9) rotate(140)"/><use href="#ar" transform="translate(187.8 798.9) rotate(140)"/><use href="#ar" transform="translate(195 798.9) rotate(140)"/><use href="#ar" transform="translate(202.2 798.9) rotate(140)"/><use href="#ar" transform="translate(209.4 798.9) rotate(150)"/><use href="#ar" transform="translate(216.5 798.9) rotate(150)"/><use href="#ar" transform="translate(223.7 798.9) rotate(150)"/><use href="#ar" transform="translate(230.9 798.9) rotate(150)"/><use href="#ar" transform="translate(238.1 798.9) rotate(150)"/><use href="#ar" transform="translate(245.3 798.9) rotate(150)"/><use href="#ar" transform="translate(252.4 798.9) rotate(150)"/><use href="#ar" transform="translate(259.6 798.9) rotate(150)"/><use href="#ar" transform="translate(51.4 805.2) rotate(150)"/><use href="#ar" transform="translate(58.6 805.2) rotate(150)"/><use href="#ar" transform="translate(65.8 805.2) rotate(150)"/><use href="#ar" transform="translate(72.9 805.2) rotate(150)"/><use href="#ar" transform="translate(80.1 805.2) rotate(150)"/><use href="#ar" transform="translate(87.3 805.2) rotate(150)"/><use href="#ar" transform="translate(94.5 805.2) rotate(150)"/><use href="#ar" transform="translate(101.7 805.2) rotate(150)"/><use href="#ar" transform="translate(108.8 805.2) rotate(150)"/><use href="#ar" transform="translate(116 805.2) rotate(150)"/><use href="#ar" transform="translate(123.2 805.2) rotate(140)"/><use href="#ar" transform="translate(130.4 805.2) rotate(140)"/><use href="#ar" transform="translate(137.6 805.2) rotate(140)"/><use href="#ar" transform="translate(144.7 805.2) rotate(140)"/><use href="#ar" transform="translate(151.9 805.2) rotate(140)"/><use href="#ar" transform="translate(159.1 805.2) rotate(140)"/><use href="#ar" transform="translate(166.3 805.2) rotate(140)"/><use href="#ar" transform="translate(173.5 805.2) rotate(140)"/><use href="#ar" transform="translate(180.6 805.2) rotate(140)"/><use href="#ar" transform="translate(187.8 805.2) rotate(140)"/><use href="#ar" transform="translate(195 805.2) rotate(150)"/><use href="#ar" transform="translate(202.2 805.2) rotate(150)"/><use href="#ar" transform="translate(209.4 805.2) rotate(150)"/><use href="#ar" transform="translate(216.5 805.2) rotate(150)"/><use href="#ar" transform="translate(223.7 805.2) rotate(150)"/><use href="#ar" transform="translate(230.9 805.2) rotate(150)"/><use href="#ar" transform="translate(238.1 805.2) rotate(150)"/><use href="#ar" transform="translate(245.3 805.2) rotate(150)"/><use href="#ar" transform="translate(252.4 805.2) rotate(150)"/><use href="#ar" transform="translate(259.6 805.2) rotate(150)"/><use href="#ar" transform="translate(51.4 811.4) rotate(150)"/><use href="#ar" transform="translate(58.6 811.4) rotate(150)"/><use href="#ar" transform="translate(65.8 811.4) rotate(150)"/><use href="#ar" transform="translate(72.9 811.4) rotate(150)"/><use href="#ar" transform="translate(80.1 811.4) rotate(150)"/><use href="#ar" transform="translate(87.3 811.4) rotate(150)"/><use href="#ar" transform="translate(94.5 811.4) rotate(150)"/><use href="#ar" transform="translate(101.7 811.4) rotate(150)"/><use href="#ar" transform="translate(108.8 811.4) rotate(150)"/><use href="#ar" transform="translate(116 811.4) rotate(150)"/><use href="#ar" transform="translate(123.2 811.4) rotate(150)"/><use href="#ar" transform="translate(130.4 811.4) rotate(140)"/><use href="#ar" transform="translate(137.6 811.4) rotate(140)"/><use href="#ar" transform="translate(144.7 811.4) rotate(140)"/><use href="#ar" transform="translate(151.9 811.4) rotate(140)"/><use href="#ar" transform="translate(159.1 811.4) rotate(140)"/><use href="#ar" transform="translate(166.3 811.4) rotate(140)"/><use href="#ar" transform="translate(173.5 811.4) rotate(140)"/><use href="#ar" transform="translate(180.6 811.4) rotate(140)"/><use href="#ar" transform="translate(187.8 811.4) rotate(150)"/><use href="#ar" transform="translate(195 811.4) rotate(150)"/><use href="#ar" transform="translate(202.2 811.4) rotate(150)"/><use href="#ar" transform="translate(209.4 811.4) rotate(150)"/><use href="#ar" transform="translate(216.5 811.4) rotate(150)"/><use href="#ar" transform="translate(223.7 811.4) rotate(150)"/><use href="#ar" transform="translate(230.9 811.4) rotate(150)"/><use href="#ar" transform="translate(238.1 811.4) rotate(150)"/><use href="#ar" transform="translate(245.3 811.4) rotate(150)"/><use href="#ar" transform="translate(252.4 811.4) rotate(150)"/><use href="#ar" transform="translate(259.6 811.4) rotate(150)"/><use href="#ar" transform="translate(51.4 817.7) rotate(150)"/><use href="#ar" transform="translate(58.6 817.7) rotate(150)"/><use href="#ar" transform="translate(65.8 817.7) rotate(150)"/><use href="#ar" transform="translate(72.9 817.7) rotate(150)"/><use href="#ar" transform="translate(80.1 817.7) rotate(150)"/><use href="#ar" transform="translate(87.3 817.7) rotate(150)"/><use href="#ar" transform="translate(94.5 817.7) rotate(150)"/><use href="#ar" transform="translate(101.7 817.7) rotate(150)"/><use href="#ar" transform="translate(108.8 817.7) rotate(150)"/><use href="#ar" transform="translate(116 817.7) rotate(150)"/><use href="#ar" transform="translate(123.2 817.7) rotate(150)"/><use href="#ar" transform="translate(130.4 817.7) rotate(150)"/><use href="#ar" transform="translate(137.6 817.7) rotate(150)"/><use href="#ar" transform="translate(144.7 817.7) rotate(150)"/><use href="#ar" transform="translate(151.9 817.7) rotate(140)"/><use href="#ar" transform="translate(159.1 817.7) rotate(140)"/><use href="#ar" transform="translate(166.3 817.7) rotate(150)"/><use href="#ar" transform="translate(173.5 817.7) rotate(150)"/><use href="#ar" transform="translate(180.6 817.7) rotate(150)"/><use href="#ar" transform="translate(187.8 817.7) rotate(150)"/><use href="#ar" transform="translate(195 817.7) rotate(150)"/><use href="#ar" transform="translate(202.2 817.7) rotate(150)"/><use href="#ar" transform="translate(209.4 817.7) rotate(150)"/><use href="#ar" transform="translate(216.5 817.7) rotate(150)"/><use href="#ar" transform="translate(223.7 817.7) rotate(150)"/><use href="#ar" transform="translate(230.9 817.7) rotate(150)"/><use href="#ar" transform="translate(238.1 817.7) rotate(150)"/><use href="#ar" transform="translate(245.3 817.7) rotate(150)"/><use href="#ar" transform="translate(252.4 817.7) rotate(150)"/><use href="#ar" transform="translate(259.6 817.7) rotate(150)"/></g>
<path d="M47.8 626H263.4V820.5H47.8ZM48.3 626 L48.4 629 L48.4 632 L48.5 635 L48.5 638 L48.6 641 L48.6 644 L48.7 647 L48.8 650 L48.9 653 L49 656 L49.1 659 L49.2 662 L49.3 665 L49.4 668 L49.6 671 L49.7 674 L49.9 677 L50.1 680 L50.2 683 L50.5 686 L50.7 689 L50.9 692 L51.2 695 L51.5 698 L51.8 701 L52.1 704 L52.5 707 L52.9 710 L53.4 713 L53.8 716 L54.4 719 L54.9 722 L55.5 725 L56.2 728 L56.9 731 L57.7 734 L58.5 737 L59.5 740 L60.5 743 L61.5 746 L62.7 749 L64 752 L65.4 755 L66.9 758 L68.5 761 L70.3 764 L72.2 767 L74.3 770 L76.6 773 L79 776 L81.7 779 L84.6 782 L87.8 785 L91.2 788 L94.9 791 L99 794 L103.3 797 L108.1 800 L113.3 803 L118.9 806 L125 809 L131.6 812 L138.8 815 L146.6 818 L153.6 820.5 L157.6 820.5 L164.6 818 L172.4 815 L179.6 812 L186.2 809 L192.3 806 L197.9 803 L203.1 800 L207.9 797 L212.2 794 L216.3 791 L220 788 L223.4 785 L226.6 782 L229.5 779 L232.2 776 L234.6 773 L236.9 770 L239 767 L240.9 764 L242.7 761 L244.3 758 L245.8 755 L247.2 752 L248.5 749 L249.7 746 L250.7 743 L251.7 740 L252.7 737 L253.5 734 L254.3 731 L255 728 L255.7 725 L256.3 722 L256.8 719 L257.4 716 L257.8 713 L258.3 710 L258.7 707 L259.1 704 L259.4 701 L259.7 698 L260 695 L260.3 692 L260.5 689 L260.7 686 L261 683 L261.1 680 L261.3 677 L261.5 674 L261.6 671 L261.8 668 L261.9 665 L262 662 L262.1 659 L262.2 656 L262.3 653 L262.4 650 L262.5 647 L262.6 644 L262.6 641 L262.7 638 L262.7 635 L262.8 632 L262.8 629 L262.9 626Z" fill="#fff" fill-rule="evenodd" opacity=".52"/>
<path d="M48.3 626 L48.4 629 L48.4 632 L48.5 635 L48.5 638 L48.6 641 L48.6 644 L48.7 647 L48.8 650 L48.9 653 L49 656 L49.1 659 L49.2 662 L49.3 665 L49.4 668 L49.6 671 L49.7 674 L49.9 677 L50.1 680 L50.2 683 L50.5 686 L50.7 689 L50.9 692 L51.2 695 L51.5 698 L51.8 701 L52.1 704 L52.5 707 L52.9 710 L53.4 713 L53.8 716 L54.4 719 L54.9 722 L55.5 725 L56.2 728 L56.9 731 L57.7 734 L58.5 737 L59.5 740 L60.5 743 L61.5 746 L62.7 749 L64 752 L65.4 755 L66.9 758 L68.5 761 L70.3 764 L72.2 767 L74.3 770 L76.6 773 L79 776 L81.7 779 L84.6 782 L87.8 785 L91.2 788 L94.9 791 L99 794 L103.3 797 L108.1 800 L113.3 803 L118.9 806 L125 809 L131.6 812 L138.8 815 L146.6 818 L153.6 820.5 L157.6 820.5 L164.6 818 L172.4 815 L179.6 812 L186.2 809 L192.3 806 L197.9 803 L203.1 800 L207.9 797 L212.2 794 L216.3 791 L220 788 L223.4 785 L226.6 782 L229.5 779 L232.2 776 L234.6 773 L236.9 770 L239 767 L240.9 764 L242.7 761 L244.3 758 L245.8 755 L247.2 752 L248.5 749 L249.7 746 L250.7 743 L251.7 740 L252.7 737 L253.5 734 L254.3 731 L255 728 L255.7 725 L256.3 722 L256.8 719 L257.4 716 L257.8 713 L258.3 710 L258.7 707 L259.1 704 L259.4 701 L259.7 698 L260 695 L260.3 692 L260.5 689 L260.7 686 L261 683 L261.1 680 L261.3 677 L261.5 674 L261.6 671 L261.8 668 L261.9 665 L262 662 L262.1 659 L262.2 656 L262.3 653 L262.4 650 L262.5 647 L262.6 644 L262.6 641 L262.7 638 L262.7 635 L262.8 632 L262.8 629 L262.9 626" fill="none" stroke="#222" stroke-width=".6"/>
</g>
<rect x="47.8" y="626" width="215.6" height="194.5" fill="none" stroke="#333" stroke-width=".7"/>
<text x="1" y="620" font-size="13.6" fill="#1a1a1a">(i)</text>
<text x="83" y="619.6" font-size="12" letter-spacing="-.3" fill="#333">XWT <tspan font-family='"Liberation Serif", "DejaVu Serif", serif' font-size="14.2" letter-spacing=".62">(3<tspan dy="2.6" font-size="10.6" font-style="italic">m−s</tspan><tspan dy="-2.6" font-style="italic"> and </tspan>8<tspan dy="2.6" font-size="10.6" font-style="italic">m−s</tspan><tspan dy="-2.6"> )</tspan></tspan></text>
<text x="275" y="606.5" font-size="9" text-anchor="middle" font-weight="bold" fill="#333">Common</text>
<text x="275" y="618.6" font-size="9" text-anchor="middle" font-weight="bold" fill="#333">power</text>
<rect x="268.9" y="626" width="11.5" height="195" fill="url(#pg)" stroke="#444" stroke-width=".5"/>
<g font-size="6.1" fill="#3a3a3a"><text x="284.2" y="645.8">16</text><text x="284.2" y="666">8</text><text x="284.2" y="686.2">4</text><text x="284.2" y="706.5">2</text><text x="284.2" y="726.7">1</text><text x="284.2" y="746.9">1/2</text><text x="284.2" y="767.1">1/4</text><text x="284.2" y="787.3">1/8</text><text x="284.2" y="807.6">1/16</text></g>
<path d="M280.4 643.6h-1.8M280.4 663.8h-1.8M280.4 684h-1.8M280.4 704.3h-1.8M280.4 724.5h-1.8M280.4 744.7h-1.8M280.4 764.9h-1.8M280.4 785.1h-1.8M280.4 805.4h-1.8" stroke="#333" stroke-width=".5"/>
<g font-size="6.6" fill="#3a3a3a" text-anchor="end"><text x="45" y="652.8">4</text><text x="45" y="677">8</text><text x="45" y="701.2">16</text><text x="45" y="725.4">32</text><text x="45" y="749.6">64</text><text x="45" y="773.8">128</text><text x="45" y="798">256</text><text x="45" y="822.2">512</text></g>
<path d="M47.8 650.4h-2M47.8 674.6h-2M47.8 698.8h-2M47.8 723h-2M47.8 747.2h-2M47.8 771.4h-2M47.8 795.6h-2M47.8 819.8h-2" stroke="#333" stroke-width=".5"/>
<text x="25" y="735" font-size="6.8" text-anchor="middle" fill="#3a3a3a" transform="rotate(-90 25 735)">Period</text>
<g font-size="8.2" fill="#333" text-anchor="middle"><text x="74" y="833.4">40</text><text x="101.2" y="833.4">80</text><text x="133.3" y="833.4">120</text><text x="164" y="833.4">160</text><text x="194.4" y="833.4">200</text><text x="224.4" y="833.4">240</text><text x="254.7" y="833.4">280</text></g>
<text x="162" y="843.6" font-size="8.4" text-anchor="middle" fill="#333">time (s)</text>
</g>
<g id="pj">
<g clip-path="url(#cpj)">
<g filter="url(#hfj)">
<rect x="410.5" y="627.3" width="221.5" height="194.9" fill="url(#bgj)"/>
<ellipse cx="440" cy="815" rx="45" ry="12" fill="rgb(10,0,0)" filter="url(#b1)"/>
<ellipse cx="608" cy="810" rx="45" ry="6" fill="rgb(102,0,0)" filter="url(#b1)"/>
<ellipse cx="610" cy="796.5" rx="24" ry="5.5" fill="rgb(8,0,0)" filter="url(#b1)"/>
<path d="M560 817.5H632V822H560Z" fill="rgb(199,0,0)" filter="url(#b0)"/>
<ellipse cx="440" cy="800.5" rx="40" ry="2.5" fill="rgb(107,0,0)" filter="url(#b0)"/>
<ellipse cx="626" cy="788" rx="12" ry="4" fill="rgb(102,0,0)" filter="url(#b1)"/>
<path d="M634 687C632.8 671.6 628.8 688.3 627 691C625.2 693.7 624.4 699 623.5 703C622.6 707 622 711.3 621.5 715C621 718.7 621.5 721.3 620.5 725C619.5 728.7 615.8 733 615.4 737C615 741 618.6 745.3 617.9 749C617.2 752.7 611.6 755.9 611 759.3C610.4 762.7 614.1 766.1 614.5 769.5C614.9 772.9 612.6 777.5 613.6 779.8C614.6 782.1 617.1 782.8 620.5 783.4C623.9 784 631.8 799.5 634 783.4C636.2 767.3 635.2 702.4 634 687Z" fill="rgb(230,0,0)" filter="url(#bs)"/>
<ellipse cx="548" cy="774" rx="30" ry="10" fill="rgb(120,0,26)" filter="url(#b1)"/>
<ellipse cx="590" cy="751" rx="20" ry="4.5" fill="rgb(128,0,26)" filter="url(#b1)"/>
<ellipse cx="530" cy="812" rx="40" ry="8" fill="rgb(41,0,20)" filter="url(#b1)"/>
<path d="M486 755.5L520 756L548 756.5L572 757.5Q594 760 594.5 770Q593 782 571 787.5L546 793L520 800L494 807" fill="none" stroke="rgb(0,0,8)" stroke-width="6.5" stroke-linecap="round" filter="url(#b0)"/>
<path d="M575 760Q592 762 592 771Q590 780 574 785" fill="none" stroke="rgb(0,0,8)" stroke-width="9" stroke-linecap="round" filter="url(#b0)"/>
<ellipse cx="450" cy="731" rx="26" ry="3.5" fill="rgb(5,0,20)" filter="url(#b1)" transform="rotate(22 450 731)"/>
<ellipse cx="470" cy="752" rx="30" ry="3.5" fill="rgb(8,0,20)" filter="url(#b1)" transform="rotate(-4 470 752)"/>
<ellipse cx="432" cy="738" rx="5" ry="22" fill="rgb(8,0,20)" filter="url(#b1)" transform="rotate(-22 432 738)"/>
<ellipse cx="490" cy="748" rx="22" ry="5" fill="rgb(115,0,26)" filter="url(#b1)"/>
<ellipse cx="548" cy="757" rx="22" ry="5" fill="rgb(107,0,38)" filter="url(#b1)"/>
<ellipse cx="520" cy="806" rx="50" ry="7" fill="rgb(51,0,26)" filter="url(#b2)"/>
<ellipse cx="470" cy="800" rx="14" ry="4" fill="rgb(128,0,0)" filter="url(#b1)"/>
<path d="M410 684C411 665 414.5 682.5 416 683.5C417.5 684.5 418.2 687.2 419 690C419.8 692.8 420.6 696.3 421 700C421.4 703.7 421.7 708.3 421.5 712C421.3 715.7 420.1 718.2 420 722C419.9 725.8 420.2 731.2 421 735C421.8 738.8 423.4 742.6 424.5 745C425.6 747.4 425.3 747.5 427.3 749.4C429.3 751.2 433.3 754.1 436.5 756.1C439.7 758.1 443 759.6 446.6 761.1C450.2 762.6 455 764.6 458.4 765.3C461.8 766 464.3 766 466.8 765.3C469.3 764.6 470.7 762.1 473.5 761.3C476.3 760.5 479.6 760.5 483.5 760.3C487.4 760.1 492.8 760.2 497 760.3C501.2 760.4 505.6 760.1 508.7 761.1C511.8 762.1 514.6 764.5 515.4 766.2C516.1 767.9 512.9 769.7 513.2 771.2C513.5 772.7 515.5 774.3 517.1 775.4C518.7 776.5 521.3 776.4 523 777.6C524.7 778.9 526.6 781.1 527.3 782.9C528 784.7 527.9 787.1 527 788.5C526.1 789.9 525 790.5 522 791.3C519 792 513.7 792.4 508.7 793C503.7 793.6 497.5 794.3 491.9 794.7C486.3 795.1 479.9 795.2 475.1 795.5C470.4 795.8 469.2 796.1 463.4 796.4C457.5 796.7 448.9 797.4 440 797.5C431.1 797.6 415 816.1 410 797.2C405 778.3 409 703 410 684Z" fill="rgb(128,0,31)" stroke="rgb(128,0,31)" stroke-width="7" filter="url(#b1)"/>
<path d="M410 684C411 665 414.5 682.5 416 683.5C417.5 684.5 418.2 687.2 419 690C419.8 692.8 420.6 696.3 421 700C421.4 703.7 421.7 708.3 421.5 712C421.3 715.7 420.1 718.2 420 722C419.9 725.8 420.2 731.2 421 735C421.8 738.8 423.4 742.6 424.5 745C425.6 747.4 425.3 747.5 427.3 749.4C429.3 751.2 433.3 754.1 436.5 756.1C439.7 758.1 443 759.6 446.6 761.1C450.2 762.6 455 764.6 458.4 765.3C461.8 766 464.3 766 466.8 765.3C469.3 764.6 470.7 762.1 473.5 761.3C476.3 760.5 479.6 760.5 483.5 760.3C487.4 760.1 492.8 760.2 497 760.3C501.2 760.4 505.6 760.1 508.7 761.1C511.8 762.1 514.6 764.5 515.4 766.2C516.1 767.9 512.9 769.7 513.2 771.2C513.5 772.7 515.5 774.3 517.1 775.4C518.7 776.5 521.3 776.4 523 777.6C524.7 778.9 526.6 781.1 527.3 782.9C528 784.7 527.9 787.1 527 788.5C526.1 789.9 525 790.5 522 791.3C519 792 513.7 792.4 508.7 793C503.7 793.6 497.5 794.3 491.9 794.7C486.3 795.1 479.9 795.2 475.1 795.5C470.4 795.8 469.2 796.1 463.4 796.4C457.5 796.7 448.9 797.4 440 797.5C431.1 797.6 415 816.1 410 797.2C405 778.3 409 703 410 684Z" fill="rgb(212,0,15)" filter="url(#bs)"/>
<ellipse cx="455" cy="781" rx="34" ry="11" fill="rgb(252,0,0)" filter="url(#b1)"/>
<path d="M490.5 740C490.1 737.8 493.6 733.4 494.9 730.3C496.2 727.2 496.6 723.8 498.4 721.5C500.1 719.2 503.3 716.9 505.4 716.3C507.4 715.7 509.1 717.1 510.7 718C512.3 718.9 513 721 515 721.5C517 722 521.3 720.1 522.9 720.7C524.5 721.3 525 723.8 524.7 725C524.4 726.2 523.1 727.6 521.2 727.9C519.3 728.2 515.8 727.4 513.3 726.8C510.8 726.2 508.1 723.6 506.3 724.2C504.6 724.8 503.4 728.4 502.8 730.3C502.2 732.2 501.9 734.2 502.8 735.5C503.7 736.8 506.1 737.6 508 738.2C509.9 738.8 511.6 739.4 514.2 739C516.8 738.6 519.9 736.3 523.8 735.9C527.7 735.5 533.4 736.2 537.8 736.4C542.2 736.6 546.2 736.9 550 737.3C553.8 737.7 557.7 738.1 560.6 739C563.5 739.9 566.3 741.1 567.6 742.6C568.9 744.1 569.4 746.5 568.5 747.8C567.6 749.1 565.4 750 562.3 750.4C559.2 750.8 554.1 750.3 550 750.4C545.9 750.5 541.6 751 537.8 751C534 751 530.4 751.1 527.3 750.4C524.2 749.7 521.6 748.2 519.4 746.9C517.2 745.6 516.4 743.4 514.2 742.8C512 742.2 509.1 743.3 506.3 743.4C503.5 743.5 500.1 744 497.5 743.4C494.9 742.8 490.9 742.2 490.5 740Z" fill="rgb(128,0,31)" stroke="rgb(128,0,31)" stroke-width="6" filter="url(#b1)"/>
<path d="M490.5 740C490.1 737.8 493.6 733.4 494.9 730.3C496.2 727.2 496.6 723.8 498.4 721.5C500.1 719.2 503.3 716.9 505.4 716.3C507.4 715.7 509.1 717.1 510.7 718C512.3 718.9 513 721 515 721.5C517 722 521.3 720.1 522.9 720.7C524.5 721.3 525 723.8 524.7 725C524.4 726.2 523.1 727.6 521.2 727.9C519.3 728.2 515.8 727.4 513.3 726.8C510.8 726.2 508.1 723.6 506.3 724.2C504.6 724.8 503.4 728.4 502.8 730.3C502.2 732.2 501.9 734.2 502.8 735.5C503.7 736.8 506.1 737.6 508 738.2C509.9 738.8 511.6 739.4 514.2 739C516.8 738.6 519.9 736.3 523.8 735.9C527.7 735.5 533.4 736.2 537.8 736.4C542.2 736.6 546.2 736.9 550 737.3C553.8 737.7 557.7 738.1 560.6 739C563.5 739.9 566.3 741.1 567.6 742.6C568.9 744.1 569.4 746.5 568.5 747.8C567.6 749.1 565.4 750 562.3 750.4C559.2 750.8 554.1 750.3 550 750.4C545.9 750.5 541.6 751 537.8 751C534 751 530.4 751.1 527.3 750.4C524.2 749.7 521.6 748.2 519.4 746.9C517.2 745.6 516.4 743.4 514.2 742.8C512 742.2 509.1 743.3 506.3 743.4C503.5 743.5 500.1 744 497.5 743.4C494.9 742.8 490.9 742.2 490.5 740Z" fill="rgb(214,0,26)" filter="url(#bs)"/>
<path d="M530.8 716.3C530.7 714.1 531.3 713 532.6 711.9C533.9 710.8 536.7 709.6 538.7 709.6C540.7 709.6 542.9 710.6 544.8 711.9C546.7 713.2 548.8 715.5 550 717.2C551.2 719 552.1 721 551.8 722.4C551.5 723.8 550.3 725.1 548.3 725.9C546.3 726.7 542.1 727.2 539.6 727.1C537.1 727 534.9 726.8 533.4 725C531.9 723.2 530.9 718.5 530.8 716.3Z" fill="rgb(128,0,31)" stroke="rgb(128,0,31)" stroke-width="6" filter="url(#b1)"/>
<path d="M530.8 716.3C530.7 714.1 531.3 713 532.6 711.9C533.9 710.8 536.7 709.6 538.7 709.6C540.7 709.6 542.9 710.6 544.8 711.9C546.7 713.2 548.8 715.5 550 717.2C551.2 719 552.1 721 551.8 722.4C551.5 723.8 550.3 725.1 548.3 725.9C546.3 726.7 542.1 727.2 539.6 727.1C537.1 727 534.9 726.8 533.4 725C531.9 723.2 530.9 718.5 530.8 716.3Z" fill="rgb(214,0,26)" filter="url(#bs)"/>
<path d="M576 722C576.8 721 579.8 719.8 582 719.2C584.2 718.6 587.4 719.7 589 718.5C590.6 717.3 590.7 713.7 591.5 712C592.3 710.3 593 708.9 594 708.5C595 708.1 596.7 708.2 597.5 709.5C598.3 710.8 598.4 714.4 599 716C599.6 717.6 599.5 718.5 601 719C602.5 719.5 605.8 718.7 608 719C610.2 719.3 613.5 720 614.5 721C615.5 722 615.2 724.2 614 725C612.8 725.8 609.2 725.7 607 726C604.8 726.3 601.7 725.5 600.5 727C599.3 728.5 600.4 732.5 600 735C599.6 737.5 599 740.8 598 742C597 743.2 595.1 743.5 594 742.5C592.9 741.5 592 738.5 591.5 736C591 733.5 592.2 729.1 591 727.5C589.8 725.9 586.2 726.8 584 726.5C581.8 726.2 578.8 726.2 577.5 725.5C576.2 724.8 575.2 723 576 722Z" fill="rgb(128,0,31)" stroke="rgb(128,0,31)" stroke-width="6" filter="url(#b1)"/>
<path d="M576 722C576.8 721 579.8 719.8 582 719.2C584.2 718.6 587.4 719.7 589 718.5C590.6 717.3 590.7 713.7 591.5 712C592.3 710.3 593 708.9 594 708.5C595 708.1 596.7 708.2 597.5 709.5C598.3 710.8 598.4 714.4 599 716C599.6 717.6 599.5 718.5 601 719C602.5 719.5 605.8 718.7 608 719C610.2 719.3 613.5 720 614.5 721C615.5 722 615.2 724.2 614 725C612.8 725.8 609.2 725.7 607 726C604.8 726.3 601.7 725.5 600.5 727C599.3 728.5 600.4 732.5 600 735C599.6 737.5 599 740.8 598 742C597 743.2 595.1 743.5 594 742.5C592.9 741.5 592 738.5 591.5 736C591 733.5 592.2 729.1 591 727.5C589.8 725.9 586.2 726.8 584 726.5C581.8 726.2 578.8 726.2 577.5 725.5C576.2 724.8 575.2 723 576 722Z" fill="rgb(214,0,26)" filter="url(#bs)"/>
<ellipse cx="485.6" cy="650.2" rx="4.8" ry="11.8" fill="rgb(128,0,31)" filter="url(#b1)" transform="rotate(6 485.6 650.2)"/>
<ellipse cx="485.6" cy="650.2" rx="2" ry="9" fill="rgb(214,0,26)" filter="url(#bs)" transform="rotate(6 485.6 650.2)"/>
<ellipse cx="517.5" cy="671.2" rx="5.2" ry="13.8" fill="rgb(128,0,31)" filter="url(#b1)"/>
<ellipse cx="517.5" cy="671.2" rx="2.4" ry="11" fill="rgb(214,0,26)" filter="url(#bs)"/>
<ellipse cx="520.8" cy="697.5" rx="6" ry="9.3" fill="rgb(128,0,31)" filter="url(#b1)"/>
<ellipse cx="520.8" cy="697.5" rx="3.2" ry="6.5" fill="rgb(214,0,26)" filter="url(#bs)"/>
<ellipse cx="439" cy="714" rx="10" ry="13.2" fill="rgb(128,0,31)" filter="url(#b1)" transform="rotate(-18 439 714)"/>
<ellipse cx="439" cy="714" rx="7.2" ry="10.4" fill="rgb(214,0,26)" filter="url(#bs)" transform="rotate(-18 439 714)"/>
<ellipse cx="459.5" cy="716.5" rx="5.7" ry="7.8" fill="rgb(128,0,31)" filter="url(#b1)"/>
<ellipse cx="459.5" cy="716.5" rx="2.9" ry="5" fill="rgb(214,0,26)" filter="url(#bs)"/>
<ellipse cx="490.3" cy="692.1" rx="4.4" ry="6.4" fill="rgb(128,0,31)" filter="url(#b1)" transform="rotate(15 490.3 692.1)"/>
<ellipse cx="490.3" cy="692.1" rx="1.6" ry="3.6" fill="rgb(214,0,26)" filter="url(#bs)" transform="rotate(15 490.3 692.1)"/>
<ellipse cx="456.7" cy="742.7" rx="7.6" ry="7" fill="rgb(128,0,31)" filter="url(#b1)" transform="rotate(-15 456.7 742.7)"/>
<ellipse cx="456.7" cy="742.7" rx="4.8" ry="4.2" fill="rgb(214,0,26)" filter="url(#bs)" transform="rotate(-15 456.7 742.7)"/>
<ellipse cx="551" cy="765" rx="12.2" ry="5.3" fill="rgb(128,0,31)" filter="url(#b1)" transform="rotate(-3 551 765)"/>
<ellipse cx="551" cy="765" rx="9.4" ry="2.5" fill="rgb(214,0,26)" filter="url(#bs)" transform="rotate(-3 551 765)"/>
<ellipse cx="563.2" cy="723.3" rx="5.2" ry="4.3" fill="rgb(128,0,31)" filter="url(#b1)"/>
<ellipse cx="563.2" cy="723.3" rx="2.4" ry="1.5" fill="rgb(214,0,26)" filter="url(#bs)"/>
<ellipse cx="526.2" cy="694.5" rx="7.8" ry="13.3" fill="rgb(128,0,31)" filter="url(#b1)" transform="rotate(8 526.2 694.5)"/>
<ellipse cx="526.2" cy="694.5" rx="5" ry="10.5" fill="rgb(214,0,26)" filter="url(#bs)" transform="rotate(8 526.2 694.5)"/>
<ellipse cx="535.2" cy="690.8" rx="5.2" ry="9.8" fill="rgb(128,0,31)" filter="url(#b1)" transform="rotate(10 535.2 690.8)"/>
<ellipse cx="535.2" cy="690.8" rx="2.4" ry="7" fill="rgb(214,0,26)" filter="url(#bs)" transform="rotate(10 535.2 690.8)"/>
<ellipse cx="548.7" cy="653.2" rx="4.7" ry="15.8" fill="rgb(128,0,31)" filter="url(#b1)" transform="rotate(2 548.7 653.2)"/>
<ellipse cx="548.7" cy="653.2" rx="1.9" ry="13" fill="rgb(214,0,26)" filter="url(#bs)" transform="rotate(2 548.7 653.2)"/>
<ellipse cx="543.3" cy="664.3" rx="4.3" ry="17.3" fill="rgb(128,0,31)" filter="url(#b1)"/>
<ellipse cx="543.3" cy="664.3" rx="1.5" ry="14.5" fill="rgb(214,0,26)" filter="url(#bs)"/>
<ellipse cx="572.7" cy="672" rx="4.8" ry="12.3" fill="rgb(128,0,31)" filter="url(#b1)" transform="rotate(3 572.7 672)"/>
<ellipse cx="572.7" cy="672" rx="2" ry="9.5" fill="rgb(214,0,26)" filter="url(#bs)" transform="rotate(3 572.7 672)"/>
<ellipse cx="581.2" cy="673.5" rx="6.6" ry="9.2" fill="rgb(128,0,31)" filter="url(#b1)" transform="rotate(-15 581.2 673.5)"/>
<ellipse cx="581.2" cy="673.5" rx="3.8" ry="6.4" fill="rgb(214,0,26)" filter="url(#bs)" transform="rotate(-15 581.2 673.5)"/>
<ellipse cx="604.2" cy="672" rx="4.9" ry="12.8" fill="rgb(128,0,31)" filter="url(#b1)"/>
<ellipse cx="604.2" cy="672" rx="2.1" ry="10" fill="rgb(214,0,26)" filter="url(#bs)"/>
<ellipse cx="616.2" cy="673.7" rx="4" ry="8.8" fill="rgb(128,0,31)" filter="url(#b1)"/>
<ellipse cx="616.2" cy="673.7" rx="1.2" ry="6" fill="rgb(214,0,26)" filter="url(#bs)"/>
<ellipse cx="607.7" cy="696.7" rx="5.4" ry="11.4" fill="rgb(128,0,31)" filter="url(#b1)" transform="rotate(16 607.7 696.7)"/>
<ellipse cx="607.7" cy="696.7" rx="2.6" ry="8.6" fill="rgb(214,0,26)" filter="url(#bs)" transform="rotate(16 607.7 696.7)"/>
<ellipse cx="577.8" cy="643.8" rx="3.8" ry="8.8" fill="rgb(128,0,31)" filter="url(#b1)"/>
<ellipse cx="577.8" cy="643.8" rx="1" ry="6" fill="rgb(214,0,26)" filter="url(#bs)"/>
<ellipse cx="596.6" cy="645.5" rx="4" ry="11.3" fill="rgb(128,0,31)" filter="url(#b1)"/>
<ellipse cx="596.6" cy="645.5" rx="1.2" ry="8.5" fill="rgb(214,0,26)" filter="url(#bs)"/>
<ellipse cx="559" cy="640.4" rx="3.9" ry="7.3" fill="rgb(128,0,31)" filter="url(#b1)"/>
<ellipse cx="559" cy="640.4" rx="1.1" ry="4.5" fill="rgb(214,0,26)" filter="url(#bs)"/>
<ellipse cx="452.5" cy="691.3" rx="4.2" ry="6.4" fill="rgb(128,0,31)" filter="url(#b1)"/>
<ellipse cx="452.5" cy="691.3" rx="1.4" ry="3.6" fill="rgb(214,0,26)" filter="url(#bs)"/>
<ellipse cx="430" cy="668" rx="4.1" ry="5.8" fill="rgb(128,0,31)" filter="url(#b1)"/>
<ellipse cx="430" cy="668" rx="1.3" ry="3" fill="rgb(214,0,26)" filter="url(#bs)"/>
<ellipse cx="424.5" cy="668" rx="4" ry="6.3" fill="rgb(128,0,31)" filter="url(#b1)"/>
<ellipse cx="424.5" cy="668" rx="1.2" ry="3.5" fill="rgb(214,0,26)" filter="url(#bs)"/>
</g>
<g fill="#050505"><rect x="447.7" y="641.9" width="2.8" height="10.7" rx="1.3"/><rect x="458.6" y="646.5" width="3" height="10.3" rx="1.3"/><rect x="521.3" y="630.5" width="2" height="11.2" rx="0.9"/><rect x="538.2" y="629.4" width="3" height="10.1" rx="1.3"/><rect x="462" y="629.3" width="3.2" height="14.6" rx="1.5"/><rect x="601.1" y="639.2" width="2" height="9.8" rx="0.9"/><rect x="519.2" y="629.5" width="3.1" height="11.3" rx="1.4"/><rect x="445.8" y="647.7" width="2.1" height="13.2" rx="1"/><rect x="509.9" y="637" width="2.4" height="11.4" rx="1.1"/><rect x="452.3" y="629.3" width="3" height="10.1" rx="1.4"/><rect x="580.1" y="630.2" width="3.2" height="15.9" rx="1.4"/><rect x="574.8" y="645.1" width="2.7" height="12.2" rx="1.2"/><rect x="438.4" y="634.9" width="3" height="9.2" rx="1.4"/><rect x="611.2" y="651.3" width="2.5" height="8.7" rx="1.1"/><rect x="509.2" y="632.8" width="3.2" height="11.1" rx="1.5"/><rect x="417.9" y="629.5" width="2.9" height="16.9" rx="1.3"/><rect x="519.1" y="635.3" width="2.7" height="13.8" rx="1.2"/><rect x="460" y="638.9" width="2.7" height="12.2" rx="1.2"/><rect x="451.2" y="629.9" width="2.4" height="16.2" rx="1.1"/><rect x="487" y="638.5" width="2.4" height="8.1" rx="1.1"/><rect x="426.2" y="647.5" width="2.9" height="9.2" rx="1.3"/><rect x="559.2" y="641.4" width="3.1" height="14.5" rx="1.4"/><rect x="499.6" y="657.3" width="3.2" height="9.4" rx="1.4"/><rect x="602.6" y="635.3" width="2.5" height="9.6" rx="1.1"/><rect x="601.3" y="629.8" width="2.1" height="15.2" rx="0.9"/><rect x="578.8" y="635.1" width="3" height="8" rx="1.4"/><rect x="467.8" y="631.2" width="2.5" height="9.3" rx="1.1"/><rect x="426.9" y="631.9" width="3.1" height="16.4" rx="1.4"/><rect x="573.1" y="635" width="2.3" height="15.6" rx="1"/><rect x="525.8" y="643.6" width="2" height="8.4" rx="0.9"/><rect x="592.6" y="646.6" width="3.1" height="11" rx="1.4"/><rect x="503.8" y="638" width="3" height="9.8" rx="1.4"/><rect x="527.2" y="631" width="2.9" height="7.9" rx="1.3"/><rect x="560.2" y="655.1" width="2" height="9.7" rx="0.9"/><rect x="550.9" y="649.4" width="2.7" height="8.1" rx="1.2"/><rect x="499.4" y="655.4" width="3.1" height="6.7" rx="1.4"/><rect x="432.9" y="629.5" width="2" height="12" rx="0.9"/><rect x="442.5" y="650.2" width="2.8" height="7.1" rx="1.3"/><rect x="528.3" y="631.7" width="2.6" height="9.7" rx="1.2"/><rect x="448.1" y="630" width="2.5" height="14.3" rx="1.1"/><rect x="530.6" y="629.3" width="2.9" height="15.9" rx="1.3"/><rect x="579.3" y="646.4" width="2" height="10" rx="0.9"/><rect x="426.1" y="645.1" width="2.2" height="12" rx="1"/><rect x="466.8" y="642.2" width="2.4" height="7.2" rx="1.1"/><rect x="495.8" y="631.5" width="3.1" height="10.4" rx="1.4"/><rect x="520.4" y="637" width="3.1" height="8.2" rx="1.4"/><rect x="541.6" y="635.8" width="2.9" height="15.6" rx="1.3"/><rect x="479" y="642.3" width="2.6" height="11.3" rx="1.2"/><rect x="619.2" y="639.1" width="1.6" height="12.3" rx="0.7"/><rect x="452" y="637.8" width="2.4" height="8" rx="1.1"/><rect x="603.8" y="644.7" width="2.8" height="7.6" rx="1.3"/><rect x="541.8" y="683.1" width="2.4" height="9" rx="1.1"/><rect x="564.8" y="633.1" width="2.7" height="9.9" rx="1.2"/><rect x="479.1" y="642.2" width="2.6" height="9.4" rx="1.2"/><rect x="614.3" y="674.8" width="2.8" height="7.6" rx="1.3"/><rect x="563" y="666.1" width="1.9" height="10.2" rx="0.9"/><rect x="479.5" y="675.2" width="2.7" height="8" rx="1.2"/><rect x="442.9" y="677.5" width="2.4" height="5.5" rx="1.1"/><rect x="423.3" y="661.7" width="1.6" height="10.4" rx="0.7"/><rect x="521.6" y="660.9" width="2.1" height="8.9" rx="1"/><rect x="610" y="649.1" width="2" height="9" rx="0.9"/><rect x="476.4" y="665.2" width="2.3" height="7.3" rx="1"/></g>
<g fill="none" stroke="#0a0a0a" stroke-width="1.35" stroke-linejoin="round"><path d="M634 687C632.8 671.6 628.8 688.3 627 691C625.2 693.7 624.4 699 623.5 703C622.6 707 622 711.3 621.5 715C621 718.7 621.5 721.3 620.5 725C619.5 728.7 615.8 733 615.4 737C615 741 618.6 745.3 617.9 749C617.2 752.7 611.6 755.9 611 759.3C610.4 762.7 614.1 766.1 614.5 769.5C614.9 772.9 612.6 777.5 613.6 779.8C614.6 782.1 617.1 782.8 620.5 783.4C623.9 784 631.8 799.5 634 783.4C636.2 767.3 635.2 702.4 634 687Z"/><path d="M410 684C411 665 414.5 682.5 416 683.5C417.5 684.5 418.2 687.2 419 690C419.8 692.8 420.6 696.3 421 700C421.4 703.7 421.7 708.3 421.5 712C421.3 715.7 420.1 718.2 420 722C419.9 725.8 420.2 731.2 421 735C421.8 738.8 423.4 742.6 424.5 745C425.6 747.4 425.3 747.5 427.3 749.4C429.3 751.2 433.3 754.1 436.5 756.1C439.7 758.1 443 759.6 446.6 761.1C450.2 762.6 455 764.6 458.4 765.3C461.8 766 464.3 766 466.8 765.3C469.3 764.6 470.7 762.1 473.5 761.3C476.3 760.5 479.6 760.5 483.5 760.3C487.4 760.1 492.8 760.2 497 760.3C501.2 760.4 505.6 760.1 508.7 761.1C511.8 762.1 514.6 764.5 515.4 766.2C516.1 767.9 512.9 769.7 513.2 771.2C513.5 772.7 515.5 774.3 517.1 775.4C518.7 776.5 521.3 776.4 523 777.6C524.7 778.9 526.6 781.1 527.3 782.9C528 784.7 527.9 787.1 527 788.5C526.1 789.9 525 790.5 522 791.3C519 792 513.7 792.4 508.7 793C503.7 793.6 497.5 794.3 491.9 794.7C486.3 795.1 479.9 795.2 475.1 795.5C470.4 795.8 469.2 796.1 463.4 796.4C457.5 796.7 448.9 797.4 440 797.5C431.1 797.6 415 816.1 410 797.2C405 778.3 409 703 410 684Z"/><path d="M490.5 740C490.1 737.8 493.6 733.4 494.9 730.3C496.2 727.2 496.6 723.8 498.4 721.5C500.1 719.2 503.3 716.9 505.4 716.3C507.4 715.7 509.1 717.1 510.7 718C512.3 718.9 513 721 515 721.5C517 722 521.3 720.1 522.9 720.7C524.5 721.3 525 723.8 524.7 725C524.4 726.2 523.1 727.6 521.2 727.9C519.3 728.2 515.8 727.4 513.3 726.8C510.8 726.2 508.1 723.6 506.3 724.2C504.6 724.8 503.4 728.4 502.8 730.3C502.2 732.2 501.9 734.2 502.8 735.5C503.7 736.8 506.1 737.6 508 738.2C509.9 738.8 511.6 739.4 514.2 739C516.8 738.6 519.9 736.3 523.8 735.9C527.7 735.5 533.4 736.2 537.8 736.4C542.2 736.6 546.2 736.9 550 737.3C553.8 737.7 557.7 738.1 560.6 739C563.5 739.9 566.3 741.1 567.6 742.6C568.9 744.1 569.4 746.5 568.5 747.8C567.6 749.1 565.4 750 562.3 750.4C559.2 750.8 554.1 750.3 550 750.4C545.9 750.5 541.6 751 537.8 751C534 751 530.4 751.1 527.3 750.4C524.2 749.7 521.6 748.2 519.4 746.9C517.2 745.6 516.4 743.4 514.2 742.8C512 742.2 509.1 743.3 506.3 743.4C503.5 743.5 500.1 744 497.5 743.4C494.9 742.8 490.9 742.2 490.5 740Z"/><path d="M530.8 716.3C530.7 714.1 531.3 713 532.6 711.9C533.9 710.8 536.7 709.6 538.7 709.6C540.7 709.6 542.9 710.6 544.8 711.9C546.7 713.2 548.8 715.5 550 717.2C551.2 719 552.1 721 551.8 722.4C551.5 723.8 550.3 725.1 548.3 725.9C546.3 726.7 542.1 727.2 539.6 727.1C537.1 727 534.9 726.8 533.4 725C531.9 723.2 530.9 718.5 530.8 716.3Z"/><path d="M576 722C576.8 721 579.8 719.8 582 719.2C584.2 718.6 587.4 719.7 589 718.5C590.6 717.3 590.7 713.7 591.5 712C592.3 710.3 593 708.9 594 708.5C595 708.1 596.7 708.2 597.5 709.5C598.3 710.8 598.4 714.4 599 716C599.6 717.6 599.5 718.5 601 719C602.5 719.5 605.8 718.7 608 719C610.2 719.3 613.5 720 614.5 721C615.5 722 615.2 724.2 614 725C612.8 725.8 609.2 725.7 607 726C604.8 726.3 601.7 725.5 600.5 727C599.3 728.5 600.4 732.5 600 735C599.6 737.5 599 740.8 598 742C597 743.2 595.1 743.5 594 742.5C592.9 741.5 592 738.5 591.5 736C591 733.5 592.2 729.1 591 727.5C589.8 725.9 586.2 726.8 584 726.5C581.8 726.2 578.8 726.2 577.5 725.5C576.2 724.8 575.2 723 576 722Z"/><ellipse cx="485.6" cy="650.2" rx="2" ry="9" transform="rotate(6 485.6 650.2)"/><ellipse cx="517.5" cy="671.2" rx="2.4" ry="11"/><ellipse cx="520.8" cy="697.5" rx="3.2" ry="6.5"/><ellipse cx="439" cy="714" rx="7.2" ry="10.4" transform="rotate(-18 439 714)"/><ellipse cx="459.5" cy="716.5" rx="2.9" ry="5"/><ellipse cx="490.3" cy="692.1" rx="1.6" ry="3.6" transform="rotate(15 490.3 692.1)"/><ellipse cx="456.7" cy="742.7" rx="4.8" ry="4.2" transform="rotate(-15 456.7 742.7)"/><ellipse cx="551" cy="765" rx="9.4" ry="2.5" transform="rotate(-3 551 765)"/><ellipse cx="563.2" cy="723.3" rx="2.4" ry="1.5"/><ellipse cx="526.2" cy="694.5" rx="5" ry="10.5" transform="rotate(8 526.2 694.5)"/><ellipse cx="535.2" cy="690.8" rx="2.4" ry="7" transform="rotate(10 535.2 690.8)"/><ellipse cx="548.7" cy="653.2" rx="1.9" ry="13" transform="rotate(2 548.7 653.2)"/><ellipse cx="543.3" cy="664.3" rx="1.5" ry="14.5"/><ellipse cx="572.7" cy="672" rx="2" ry="9.5" transform="rotate(3 572.7 672)"/><ellipse cx="581.2" cy="673.5" rx="3.8" ry="6.4" transform="rotate(-15 581.2 673.5)"/><ellipse cx="604.2" cy="672" rx="2.1" ry="10"/><ellipse cx="616.2" cy="673.7" rx="1.2" ry="6"/><ellipse cx="607.7" cy="696.7" rx="2.6" ry="8.6" transform="rotate(16 607.7 696.7)"/><ellipse cx="577.8" cy="643.8" rx="1" ry="6"/><ellipse cx="596.6" cy="645.5" rx="1.2" ry="8.5"/><ellipse cx="559" cy="640.4" rx="1.1" ry="4.5"/><ellipse cx="452.5" cy="691.3" rx="1.4" ry="3.6"/><ellipse cx="430" cy="668" rx="1.3" ry="3"/><ellipse cx="424.5" cy="668" rx="1.2" ry="3.5"/></g>
<g fill="#050505" stroke="#050505" stroke-width="0.65"><use href="#ar" transform="translate(561.1 633.3) rotate(273)"/><use href="#ar" transform="translate(597.4 633.3) rotate(41)"/><use href="#ar" transform="translate(481.4 639.1) rotate(165)"/><use href="#ar" transform="translate(539.4 639.1) rotate(141)"/><use href="#ar" transform="translate(546.6 639.1) rotate(245)"/><use href="#ar" transform="translate(561.1 639.1) rotate(207)"/><use href="#ar" transform="translate(597.4 639.1) rotate(46)"/><use href="#ar" transform="translate(481.4 644.9) rotate(166)"/><use href="#ar" transform="translate(488.6 644.9) rotate(216)"/><use href="#ar" transform="translate(495.9 644.9) rotate(262)"/><use href="#ar" transform="translate(539.4 644.9) rotate(179)"/><use href="#ar" transform="translate(546.6 644.9) rotate(195)"/><use href="#ar" transform="translate(553.9 644.9) rotate(241)"/><use href="#ar" transform="translate(561.1 644.9) rotate(315)"/><use href="#ar" transform="translate(582.9 644.9) rotate(222)"/><use href="#ar" transform="translate(597.4 644.9) rotate(10)"/><use href="#ar" transform="translate(481.4 650.7) rotate(225)"/><use href="#ar" transform="translate(488.6 650.7) rotate(198)"/><use href="#ar" transform="translate(495.9 650.7) rotate(181)"/><use href="#ar" transform="translate(532.1 650.7) rotate(201)"/><use href="#ar" transform="translate(539.4 650.7) rotate(166)"/><use href="#ar" transform="translate(546.6 650.7) rotate(247)"/><use href="#ar" transform="translate(553.9 650.7) rotate(240)"/><use href="#ar" transform="translate(561.1 650.7) rotate(251)"/><use href="#ar" transform="translate(575.6 650.7) rotate(167)"/><use href="#ar" transform="translate(597.4 650.7) rotate(82)"/><use href="#ar" transform="translate(474.1 656.5) rotate(231)"/><use href="#ar" transform="translate(481.4 656.5) rotate(261)"/><use href="#ar" transform="translate(488.6 656.5) rotate(259)"/><use href="#ar" transform="translate(539.4 656.5) rotate(222)"/><use href="#ar" transform="translate(546.6 656.5) rotate(262)"/><use href="#ar" transform="translate(553.9 656.5) rotate(303)"/><use href="#ar" transform="translate(561.1 656.5) rotate(273)"/><use href="#ar" transform="translate(597.4 656.5) rotate(325)"/><use href="#ar" transform="translate(430.6 662.3) rotate(60)"/><use href="#ar" transform="translate(481.4 662.3) rotate(225)"/><use href="#ar" transform="translate(517.6 662.3) rotate(145)"/><use href="#ar" transform="translate(546.6 662.3) rotate(323)"/><use href="#ar" transform="translate(553.9 662.3) rotate(287)"/><use href="#ar" transform="translate(561.1 662.3) rotate(260)"/><use href="#ar" transform="translate(568.4 662.3) rotate(204)"/><use href="#ar" transform="translate(575.6 662.3) rotate(164)"/><use href="#ar" transform="translate(604.6 662.3) rotate(70)"/><use href="#ar" transform="translate(423.4 668.1) rotate(109)"/><use href="#ar" transform="translate(430.6 668.1) rotate(8)"/><use href="#ar" transform="translate(517.6 668.1) rotate(168)"/><use href="#ar" transform="translate(539.4 668.1) rotate(195)"/><use href="#ar" transform="translate(546.6 668.1) rotate(266)"/><use href="#ar" transform="translate(561.1 668.1) rotate(191)"/><use href="#ar" transform="translate(568.4 668.1) rotate(162)"/><use href="#ar" transform="translate(575.6 668.1) rotate(134)"/><use href="#ar" transform="translate(582.9 668.1) rotate(72)"/><use href="#ar" transform="translate(604.6 668.1) rotate(43)"/><use href="#ar" transform="translate(619.1 668.1) rotate(212)"/><use href="#ar" transform="translate(423.4 673.9) rotate(62)"/><use href="#ar" transform="translate(430.6 673.9) rotate(36)"/><use href="#ar" transform="translate(517.6 673.9) rotate(61)"/><use href="#ar" transform="translate(539.4 673.9) rotate(312)"/><use href="#ar" transform="translate(546.6 673.9) rotate(301)"/><use href="#ar" transform="translate(568.4 673.9) rotate(149)"/><use href="#ar" transform="translate(575.6 673.9) rotate(84)"/><use href="#ar" transform="translate(582.9 673.9) rotate(339)"/><use href="#ar" transform="translate(590.1 673.9) rotate(15)"/><use href="#ar" transform="translate(604.6 673.9) rotate(52)"/><use href="#ar" transform="translate(619.1 673.9) rotate(305)"/><use href="#ar" transform="translate(517.6 679.7) rotate(206)"/><use href="#ar" transform="translate(561.1 679.7) rotate(219)"/><use href="#ar" transform="translate(568.4 679.7) rotate(100)"/><use href="#ar" transform="translate(575.6 679.7) rotate(88)"/><use href="#ar" transform="translate(582.9 679.7) rotate(61)"/><use href="#ar" transform="translate(590.1 679.7) rotate(54)"/><use href="#ar" transform="translate(604.6 679.7) rotate(164)"/><use href="#ar" transform="translate(611.9 679.7) rotate(217)"/><use href="#ar" transform="translate(619.1 679.7) rotate(289)"/><use href="#ar" transform="translate(416.1 685.5) rotate(215)"/><use href="#ar" transform="translate(452.4 685.5) rotate(314)"/><use href="#ar" transform="translate(488.6 685.5) rotate(119)"/><use href="#ar" transform="translate(524.9 685.5) rotate(207)"/><use href="#ar" transform="translate(532.1 685.5) rotate(324)"/><use href="#ar" transform="translate(539.4 685.5) rotate(295)"/><use href="#ar" transform="translate(575.6 685.5) rotate(74)"/><use href="#ar" transform="translate(604.6 685.5) rotate(207)"/><use href="#ar" transform="translate(416.1 691.3) rotate(215)"/><use href="#ar" transform="translate(423.4 691.3) rotate(306)"/><use href="#ar" transform="translate(452.4 691.3) rotate(320)"/><use href="#ar" transform="translate(488.6 691.3) rotate(112)"/><use href="#ar" transform="translate(517.6 691.3) rotate(148)"/><use href="#ar" transform="translate(524.9 691.3) rotate(286)"/><use href="#ar" transform="translate(532.1 691.3) rotate(1)"/><use href="#ar" transform="translate(539.4 691.3) rotate(263)"/><use href="#ar" transform="translate(546.6 691.3) rotate(350)"/><use href="#ar" transform="translate(604.6 691.3) rotate(297)"/><use href="#ar" transform="translate(611.9 691.3) rotate(315)"/><use href="#ar" transform="translate(416.1 697.1) rotate(215)"/><use href="#ar" transform="translate(423.4 697.1) rotate(94)"/><use href="#ar" transform="translate(495.9 697.1) rotate(122)"/><use href="#ar" transform="translate(517.6 697.1) rotate(185)"/><use href="#ar" transform="translate(524.9 697.1) rotate(249)"/><use href="#ar" transform="translate(532.1 697.1) rotate(355)"/><use href="#ar" transform="translate(539.4 697.1) rotate(282)"/><use href="#ar" transform="translate(604.6 697.1) rotate(302)"/><use href="#ar" transform="translate(611.9 697.1) rotate(330)"/><use href="#ar" transform="translate(416.1 702.9) rotate(215)"/><use href="#ar" transform="translate(423.4 702.9) rotate(48)"/><use href="#ar" transform="translate(445.1 702.9) rotate(270)"/><use href="#ar" transform="translate(524.9 702.9) rotate(309)"/><use href="#ar" transform="translate(532.1 702.9) rotate(333)"/><use href="#ar" transform="translate(597.4 702.9) rotate(214)"/><use href="#ar" transform="translate(604.6 702.9) rotate(279)"/><use href="#ar" transform="translate(611.9 702.9) rotate(78)"/><use href="#ar" transform="translate(619.1 702.9) rotate(19)"/><use href="#ar" transform="translate(416.1 708.7) rotate(215)"/><use href="#ar" transform="translate(430.6 708.7) rotate(305)"/><use href="#ar" transform="translate(437.9 708.7) rotate(319)"/><use href="#ar" transform="translate(445.1 708.7) rotate(5)"/><use href="#ar" transform="translate(524.9 708.7) rotate(342)"/><use href="#ar" transform="translate(532.1 708.7) rotate(278)"/><use href="#ar" transform="translate(590.1 708.7) rotate(276)"/><use href="#ar" transform="translate(597.4 708.7) rotate(279)"/><use href="#ar" transform="translate(416.1 714.5) rotate(215)"/><use href="#ar" transform="translate(423.4 714.5) rotate(160)"/><use href="#ar" transform="translate(430.6 714.5) rotate(292)"/><use href="#ar" transform="translate(437.9 714.5) rotate(28)"/><use href="#ar" transform="translate(445.1 714.5) rotate(308)"/><use href="#ar" transform="translate(459.6 714.5) rotate(169)"/><use href="#ar" transform="translate(503.1 714.5) rotate(178)"/><use href="#ar" transform="translate(510.4 714.5) rotate(26)"/><use href="#ar" transform="translate(532.1 714.5) rotate(357)"/><use href="#ar" transform="translate(539.4 714.5) rotate(219)"/><use href="#ar" transform="translate(546.6 714.5) rotate(91)"/><use href="#ar" transform="translate(590.1 714.5) rotate(223)"/><use href="#ar" transform="translate(597.4 714.5) rotate(57)"/><use href="#ar" transform="translate(416.1 720.3) rotate(215)"/><use href="#ar" transform="translate(423.4 720.3) rotate(276)"/><use href="#ar" transform="translate(430.6 720.3) rotate(355)"/><use href="#ar" transform="translate(437.9 720.3) rotate(318)"/><use href="#ar" transform="translate(445.1 720.3) rotate(265)"/><use href="#ar" transform="translate(452.4 720.3) rotate(209)"/><use href="#ar" transform="translate(459.6 720.3) rotate(92)"/><use href="#ar" transform="translate(503.1 720.3) rotate(75)"/><use href="#ar" transform="translate(510.4 720.3) rotate(75)"/><use href="#ar" transform="translate(517.6 720.3) rotate(25)"/><use href="#ar" transform="translate(532.1 720.3) rotate(230)"/><use href="#ar" transform="translate(539.4 720.3) rotate(77)"/><use href="#ar" transform="translate(546.6 720.3) rotate(58)"/><use href="#ar" transform="translate(553.9 720.3) rotate(6)"/><use href="#ar" transform="translate(575.6 720.3) rotate(129)"/><use href="#ar" transform="translate(582.9 720.3) rotate(204)"/><use href="#ar" transform="translate(590.1 720.3) rotate(23)"/><use href="#ar" transform="translate(597.4 720.3) rotate(91)"/><use href="#ar" transform="translate(604.6 720.3) rotate(13)"/><use href="#ar" transform="translate(611.9 720.3) rotate(38)"/><use href="#ar" transform="translate(416.1 726.1) rotate(215)"/><use href="#ar" transform="translate(430.6 726.1) rotate(309)"/><use href="#ar" transform="translate(445.1 726.1) rotate(256)"/><use href="#ar" transform="translate(495.9 726.1) rotate(304)"/><use href="#ar" transform="translate(503.1 726.1) rotate(75)"/><use href="#ar" transform="translate(517.6 726.1) rotate(75)"/><use href="#ar" transform="translate(524.9 726.1) rotate(338)"/><use href="#ar" transform="translate(532.1 726.1) rotate(176)"/><use href="#ar" transform="translate(539.4 726.1) rotate(11)"/><use href="#ar" transform="translate(546.6 726.1) rotate(332)"/><use href="#ar" transform="translate(561.1 726.1) rotate(277)"/><use href="#ar" transform="translate(575.6 726.1) rotate(232)"/><use href="#ar" transform="translate(582.9 726.1) rotate(337)"/><use href="#ar" transform="translate(590.1 726.1) rotate(93)"/><use href="#ar" transform="translate(597.4 726.1) rotate(52)"/><use href="#ar" transform="translate(604.6 726.1) rotate(52)"/><use href="#ar" transform="translate(416.1 731.9) rotate(215)"/><use href="#ar" transform="translate(423.4 731.9) rotate(286)"/><use href="#ar" transform="translate(495.9 731.9) rotate(75)"/><use href="#ar" transform="translate(503.1 731.9) rotate(301)"/><use href="#ar" transform="translate(597.4 731.9) rotate(12)"/><use href="#ar" transform="translate(604.6 731.9) rotate(313)"/><use href="#ar" transform="translate(416.1 737.7) rotate(215)"/><use href="#ar" transform="translate(488.6 737.7) rotate(305)"/><use href="#ar" transform="translate(495.9 737.7) rotate(150)"/><use href="#ar" transform="translate(503.1 737.7) rotate(150)"/><use href="#ar" transform="translate(510.4 737.7) rotate(348)"/><use href="#ar" transform="translate(517.6 737.7) rotate(271)"/><use href="#ar" transform="translate(524.9 737.7) rotate(150)"/><use href="#ar" transform="translate(532.1 737.7) rotate(150)"/><use href="#ar" transform="translate(539.4 737.7) rotate(150)"/><use href="#ar" transform="translate(546.6 737.7) rotate(150)"/><use href="#ar" transform="translate(553.9 737.7) rotate(300)"/><use href="#ar" transform="translate(597.4 737.7) rotate(338)"/><use href="#ar" transform="translate(416.1 743.5) rotate(215)"/><use href="#ar" transform="translate(423.4 743.5) rotate(215)"/><use href="#ar" transform="translate(452.4 743.5) rotate(14)"/><use href="#ar" transform="translate(459.6 743.5) rotate(333)"/><use href="#ar" transform="translate(488.6 743.5) rotate(282)"/><use href="#ar" transform="translate(495.9 743.5) rotate(60)"/><use href="#ar" transform="translate(510.4 743.5) rotate(285)"/><use href="#ar" transform="translate(517.6 743.5) rotate(150)"/><use href="#ar" transform="translate(524.9 743.5) rotate(150)"/><use href="#ar" transform="translate(532.1 743.5) rotate(150)"/><use href="#ar" transform="translate(539.4 743.5) rotate(150)"/><use href="#ar" transform="translate(546.6 743.5) rotate(150)"/><use href="#ar" transform="translate(553.9 743.5) rotate(150)"/><use href="#ar" transform="translate(561.1 743.5) rotate(150)"/><use href="#ar" transform="translate(568.4 743.5) rotate(311)"/><use href="#ar" transform="translate(416.1 749.3) rotate(215)"/><use href="#ar" transform="translate(423.4 749.3) rotate(215)"/><use href="#ar" transform="translate(452.4 749.3) rotate(317)"/><use href="#ar" transform="translate(459.6 749.3) rotate(48)"/><use href="#ar" transform="translate(524.9 749.3) rotate(150)"/><use href="#ar" transform="translate(532.1 749.3) rotate(150)"/><use href="#ar" transform="translate(539.4 749.3) rotate(150)"/><use href="#ar" transform="translate(546.6 749.3) rotate(150)"/><use href="#ar" transform="translate(553.9 749.3) rotate(150)"/><use href="#ar" transform="translate(561.1 749.3) rotate(150)"/><use href="#ar" transform="translate(416.1 755.1) rotate(215)"/><use href="#ar" transform="translate(423.4 755.1) rotate(215)"/><use href="#ar" transform="translate(430.6 755.1) rotate(215)"/><use href="#ar" transform="translate(437.9 755.1) rotate(72)"/><use href="#ar" transform="translate(553.9 755.1) rotate(167)"/><use href="#ar" transform="translate(416.1 760.9) rotate(215)"/><use href="#ar" transform="translate(423.4 760.9) rotate(215)"/><use href="#ar" transform="translate(430.6 760.9) rotate(215)"/><use href="#ar" transform="translate(437.9 760.9) rotate(215)"/><use href="#ar" transform="translate(445.1 760.9) rotate(215)"/><use href="#ar" transform="translate(481.4 760.9) rotate(215)"/><use href="#ar" transform="translate(488.6 760.9) rotate(215)"/><use href="#ar" transform="translate(495.9 760.9) rotate(215)"/><use href="#ar" transform="translate(503.1 760.9) rotate(215)"/><use href="#ar" transform="translate(510.4 760.9) rotate(51)"/><use href="#ar" transform="translate(539.4 760.9) rotate(14)"/><use href="#ar" transform="translate(546.6 760.9) rotate(179)"/><use href="#ar" transform="translate(553.9 760.9) rotate(301)"/><use href="#ar" transform="translate(561.1 760.9) rotate(18)"/><use href="#ar" transform="translate(416.1 766.7) rotate(180)"/><use href="#ar" transform="translate(423.4 766.7) rotate(180)"/><use href="#ar" transform="translate(430.6 766.7) rotate(180)"/><use href="#ar" transform="translate(437.9 766.7) rotate(180)"/><use href="#ar" transform="translate(445.1 766.7) rotate(180)"/><use href="#ar" transform="translate(452.4 766.7) rotate(180)"/><use href="#ar" transform="translate(459.6 766.7) rotate(180)"/><use href="#ar" transform="translate(466.9 766.7) rotate(180)"/><use href="#ar" transform="translate(474.1 766.7) rotate(180)"/><use href="#ar" transform="translate(481.4 766.7) rotate(180)"/><use href="#ar" transform="translate(488.6 766.7) rotate(180)"/><use href="#ar" transform="translate(495.9 766.7) rotate(180)"/><use href="#ar" transform="translate(503.1 766.7) rotate(180)"/><use href="#ar" transform="translate(510.4 766.7) rotate(200)"/><use href="#ar" transform="translate(517.6 766.7) rotate(304)"/><use href="#ar" transform="translate(539.4 766.7) rotate(126)"/><use href="#ar" transform="translate(546.6 766.7) rotate(258)"/><use href="#ar" transform="translate(553.9 766.7) rotate(286)"/><use href="#ar" transform="translate(416.1 772.5) rotate(180)"/><use href="#ar" transform="translate(423.4 772.5) rotate(180)"/><use href="#ar" transform="translate(430.6 772.5) rotate(180)"/><use href="#ar" transform="translate(437.9 772.5) rotate(180)"/><use href="#ar" transform="translate(445.1 772.5) rotate(180)"/><use href="#ar" transform="translate(452.4 772.5) rotate(180)"/><use href="#ar" transform="translate(459.6 772.5) rotate(180)"/><use href="#ar" transform="translate(466.9 772.5) rotate(180)"/><use href="#ar" transform="translate(474.1 772.5) rotate(180)"/><use href="#ar" transform="translate(481.4 772.5) rotate(180)"/><use href="#ar" transform="translate(488.6 772.5) rotate(180)"/><use href="#ar" transform="translate(495.9 772.5) rotate(180)"/><use href="#ar" transform="translate(503.1 772.5) rotate(180)"/><use href="#ar" transform="translate(510.4 772.5) rotate(200)"/><use href="#ar" transform="translate(517.6 772.5) rotate(240)"/><use href="#ar" transform="translate(546.6 772.5) rotate(322)"/><use href="#ar" transform="translate(553.9 772.5) rotate(101)"/><use href="#ar" transform="translate(561.1 772.5) rotate(114)"/><use href="#ar" transform="translate(416.1 778.3) rotate(180)"/><use href="#ar" transform="translate(423.4 778.3) rotate(180)"/><use href="#ar" transform="translate(430.6 778.3) rotate(180)"/><use href="#ar" transform="translate(437.9 778.3) rotate(180)"/><use href="#ar" transform="translate(445.1 778.3) rotate(180)"/><use href="#ar" transform="translate(452.4 778.3) rotate(180)"/><use href="#ar" transform="translate(459.6 778.3) rotate(180)"/><use href="#ar" transform="translate(466.9 778.3) rotate(180)"/><use href="#ar" transform="translate(474.1 778.3) rotate(180)"/><use href="#ar" transform="translate(481.4 778.3) rotate(180)"/><use href="#ar" transform="translate(488.6 778.3) rotate(180)"/><use href="#ar" transform="translate(495.9 778.3) rotate(180)"/><use href="#ar" transform="translate(503.1 778.3) rotate(180)"/><use href="#ar" transform="translate(510.4 778.3) rotate(200)"/><use href="#ar" transform="translate(517.6 778.3) rotate(200)"/><use href="#ar" transform="translate(524.9 778.3) rotate(321)"/><use href="#ar" transform="translate(553.9 778.3) rotate(76)"/><use href="#ar" transform="translate(416.1 784.1) rotate(180)"/><use href="#ar" transform="translate(423.4 784.1) rotate(180)"/><use href="#ar" transform="translate(430.6 784.1) rotate(180)"/><use href="#ar" transform="translate(437.9 784.1) rotate(180)"/><use href="#ar" transform="translate(445.1 784.1) rotate(180)"/><use href="#ar" transform="translate(452.4 784.1) rotate(180)"/><use href="#ar" transform="translate(459.6 784.1) rotate(180)"/><use href="#ar" transform="translate(466.9 784.1) rotate(180)"/><use href="#ar" transform="translate(474.1 784.1) rotate(180)"/><use href="#ar" transform="translate(481.4 784.1) rotate(180)"/><use href="#ar" transform="translate(488.6 784.1) rotate(180)"/><use href="#ar" transform="translate(495.9 784.1) rotate(180)"/><use href="#ar" transform="translate(503.1 784.1) rotate(180)"/><use href="#ar" transform="translate(510.4 784.1) rotate(200)"/><use href="#ar" transform="translate(517.6 784.1) rotate(200)"/><use href="#ar" transform="translate(524.9 784.1) rotate(200)"/><use href="#ar" transform="translate(416.1 789.9) rotate(180)"/><use href="#ar" transform="translate(423.4 789.9) rotate(180)"/><use href="#ar" transform="translate(430.6 789.9) rotate(180)"/><use href="#ar" transform="translate(437.9 789.9) rotate(180)"/><use href="#ar" transform="translate(445.1 789.9) rotate(180)"/><use href="#ar" transform="translate(452.4 789.9) rotate(180)"/><use href="#ar" transform="translate(459.6 789.9) rotate(180)"/><use href="#ar" transform="translate(466.9 789.9) rotate(180)"/><use href="#ar" transform="translate(474.1 789.9) rotate(180)"/><use href="#ar" transform="translate(481.4 789.9) rotate(180)"/><use href="#ar" transform="translate(488.6 789.9) rotate(180)"/><use href="#ar" transform="translate(495.9 789.9) rotate(180)"/><use href="#ar" transform="translate(503.1 789.9) rotate(180)"/><use href="#ar" transform="translate(510.4 789.9) rotate(200)"/><use href="#ar" transform="translate(517.6 789.9) rotate(200)"/><use href="#ar" transform="translate(524.9 789.9) rotate(208)"/><use href="#ar" transform="translate(416.1 795.7) rotate(180)"/><use href="#ar" transform="translate(423.4 795.7) rotate(180)"/><use href="#ar" transform="translate(430.6 795.7) rotate(180)"/><use href="#ar" transform="translate(437.9 795.7) rotate(180)"/><use href="#ar" transform="translate(445.1 795.7) rotate(180)"/><use href="#ar" transform="translate(452.4 795.7) rotate(180)"/><use href="#ar" transform="translate(459.6 795.7) rotate(180)"/><use href="#ar" transform="translate(466.9 795.7) rotate(180)"/><use href="#ar" transform="translate(481.4 795.7) rotate(117)"/><use href="#ar" transform="translate(488.6 795.7) rotate(4)"/><use href="#ar" transform="translate(495.9 795.7) rotate(277)"/><use href="#ar" transform="translate(510.4 795.7) rotate(334)"/></g>
<path d="M412.5 629.3H630V820.2H412.5ZM412.9 629.3 L412.9 632.3 L412.9 635.3 L413 638.3 L413 641.3 L413.1 644.3 L413.1 647.3 L413.2 650.3 L413.2 653.3 L413.3 656.3 L413.4 659.3 L413.5 662.3 L413.5 665.3 L413.6 668.3 L413.8 671.3 L413.9 674.3 L414 677.3 L414.1 680.3 L414.3 683.3 L414.5 686.3 L414.6 689.3 L414.8 692.3 L415 695.3 L415.3 698.3 L415.5 701.3 L415.8 704.3 L416.1 707.3 L416.5 710.3 L416.8 713.3 L417.2 716.3 L417.7 719.3 L418.2 722.3 L418.7 725.3 L419.3 728.3 L419.9 731.3 L420.6 734.3 L421.3 737.3 L422.2 740.3 L423.1 743.3 L424.1 746.3 L425.1 749.3 L426.3 752.3 L427.6 755.3 L429 758.3 L430.5 761.3 L432.2 764.3 L434 767.3 L436 770.3 L438.2 773.3 L440.6 776.3 L443.2 779.3 L446.1 782.3 L449.2 785.3 L452.6 788.3 L456.3 791.3 L460.4 794.3 L464.8 797.3 L469.7 800.3 L475 803.3 L480.8 806.3 L487.2 809.3 L494.1 812.3 L501.7 815.3 L510 818.3 L515.6 820.2 L526.9 820.2 L532.5 818.3 L540.8 815.3 L548.4 812.3 L555.3 809.3 L561.7 806.3 L567.5 803.3 L572.8 800.3 L577.7 797.3 L582.1 794.3 L586.2 791.3 L589.9 788.3 L593.3 785.3 L596.4 782.3 L599.3 779.3 L601.9 776.3 L604.3 773.3 L606.5 770.3 L608.5 767.3 L610.3 764.3 L612 761.3 L613.5 758.3 L614.9 755.3 L616.2 752.3 L617.4 749.3 L618.4 746.3 L619.4 743.3 L620.3 740.3 L621.2 737.3 L621.9 734.3 L622.6 731.3 L623.2 728.3 L623.8 725.3 L624.3 722.3 L624.8 719.3 L625.3 716.3 L625.7 713.3 L626 710.3 L626.4 707.3 L626.7 704.3 L627 701.3 L627.2 698.3 L627.5 695.3 L627.7 692.3 L627.9 689.3 L628 686.3 L628.2 683.3 L628.4 680.3 L628.5 677.3 L628.6 674.3 L628.7 671.3 L628.9 668.3 L629 665.3 L629 662.3 L629.1 659.3 L629.2 656.3 L629.3 653.3 L629.3 650.3 L629.4 647.3 L629.4 644.3 L629.5 641.3 L629.5 638.3 L629.6 635.3 L629.6 632.3 L629.6 629.3Z" fill="#fff" fill-rule="evenodd" opacity=".52"/>
<path d="M412.9 629.3 L412.9 632.3 L412.9 635.3 L413 638.3 L413 641.3 L413.1 644.3 L413.1 647.3 L413.2 650.3 L413.2 653.3 L413.3 656.3 L413.4 659.3 L413.5 662.3 L413.5 665.3 L413.6 668.3 L413.8 671.3 L413.9 674.3 L414 677.3 L414.1 680.3 L414.3 683.3 L414.5 686.3 L414.6 689.3 L414.8 692.3 L415 695.3 L415.3 698.3 L415.5 701.3 L415.8 704.3 L416.1 707.3 L416.5 710.3 L416.8 713.3 L417.2 716.3 L417.7 719.3 L418.2 722.3 L418.7 725.3 L419.3 728.3 L419.9 731.3 L420.6 734.3 L421.3 737.3 L422.2 740.3 L423.1 743.3 L424.1 746.3 L425.1 749.3 L426.3 752.3 L427.6 755.3 L429 758.3 L430.5 761.3 L432.2 764.3 L434 767.3 L436 770.3 L438.2 773.3 L440.6 776.3 L443.2 779.3 L446.1 782.3 L449.2 785.3 L452.6 788.3 L456.3 791.3 L460.4 794.3 L464.8 797.3 L469.7 800.3 L475 803.3 L480.8 806.3 L487.2 809.3 L494.1 812.3 L501.7 815.3 L510 818.3 L515.6 820.2 L526.9 820.2 L532.5 818.3 L540.8 815.3 L548.4 812.3 L555.3 809.3 L561.7 806.3 L567.5 803.3 L572.8 800.3 L577.7 797.3 L582.1 794.3 L586.2 791.3 L589.9 788.3 L593.3 785.3 L596.4 782.3 L599.3 779.3 L601.9 776.3 L604.3 773.3 L606.5 770.3 L608.5 767.3 L610.3 764.3 L612 761.3 L613.5 758.3 L614.9 755.3 L616.2 752.3 L617.4 749.3 L618.4 746.3 L619.4 743.3 L620.3 740.3 L621.2 737.3 L621.9 734.3 L622.6 731.3 L623.2 728.3 L623.8 725.3 L624.3 722.3 L624.8 719.3 L625.3 716.3 L625.7 713.3 L626 710.3 L626.4 707.3 L626.7 704.3 L627 701.3 L627.2 698.3 L627.5 695.3 L627.7 692.3 L627.9 689.3 L628 686.3 L628.2 683.3 L628.4 680.3 L628.5 677.3 L628.6 674.3 L628.7 671.3 L628.9 668.3 L629 665.3 L629 662.3 L629.1 659.3 L629.2 656.3 L629.3 653.3 L629.3 650.3 L629.4 647.3 L629.4 644.3 L629.5 641.3 L629.5 638.3 L629.6 635.3 L629.6 632.3 L629.6 629.3" fill="none" stroke="#222" stroke-width=".6"/>
</g>
<rect x="412.5" y="629.3" width="217.5" height="190.9" fill="none" stroke="#333" stroke-width=".7"/>
<text x="360.6" y="628.6" font-size="13.6" fill="#1a1a1a">(j)</text>
<text x="468.8" y="618.8" font-size="12" letter-spacing="-.3" fill="#333">WC <tspan font-family='"Liberation Serif", "DejaVu Serif", serif' font-size="14.2" letter-spacing=".62">(3<tspan dy="2.6" font-size="10.6" font-style="italic">m−s</tspan><tspan dy="-2.6" font-style="italic"> and </tspan>8<tspan dy="2.6" font-size="10.6" font-style="italic">m−s</tspan><tspan dy="-2.6"> )</tspan></tspan></text>
<text x="642.6" y="606.8" font-size="9" text-anchor="middle" font-weight="bold" fill="#333">Correlation or</text>
<text x="642.6" y="618.6" font-size="9" text-anchor="middle" font-weight="bold" fill="#333">WC value</text>
<rect x="636" y="628.6" width="12.5" height="191.7" fill="url(#pg)" stroke="#444" stroke-width=".5"/>
<g font-size="5.6" fill="#3a3a3a"><text x="652" y="630.8">1</text><text x="652" y="650">0.9</text><text x="652" y="669.1">0.8</text><text x="652" y="688.2">0.7</text><text x="652" y="707.4">0.6</text><text x="652" y="726.5">0.5</text><text x="652" y="745.7">0.4</text><text x="652" y="764.8">0.3</text><text x="652" y="783.9">0.2</text><text x="652" y="803.1">0.1</text><text x="652" y="822.2">0</text></g>
<path d="M648.5 628.8h-1.8M648.5 647.9h-1.8M648.5 667.1h-1.8M648.5 686.2h-1.8M648.5 705.4h-1.8M648.5 724.5h-1.8M648.5 743.6h-1.8M648.5 762.8h-1.8M648.5 781.9h-1.8M648.5 801.1h-1.8M648.5 820.2h-1.8" stroke="#333" stroke-width=".5"/>
<g font-size="8.2" fill="#262626" text-anchor="end"><text x="404" y="634.8">4.5</text><text x="404" y="658.2">0.26</text><text x="404" y="681.6">0.13</text><text x="404" y="705">0.06</text><text x="404" y="728.4">0.03</text><text x="404" y="751.8">0.02</text><text x="404" y="775.2">0.008</text><text x="404" y="798.6">0.005</text></g>
<text x="380" y="732" font-size="9.9" text-anchor="middle" fill="#262626" transform="rotate(-90 380 732)">Frequency ( Hz )</text>
<g font-size="8.2" fill="#333" text-anchor="middle"><text x="441.4" y="833.6">40</text><text x="471.3" y="833.6">80</text><text x="501.3" y="833.6">120</text><text x="531.2" y="833.6">160</text><text x="561.2" y="833.6">200</text><text x="591.1" y="833.6">240</text><text x="621.1" y="833.6">280</text></g>
<text x="532.7" y="844.8" font-size="8.4" text-anchor="middle" fill="#333">time (s)</text>
</g>
</svg></body></html>
